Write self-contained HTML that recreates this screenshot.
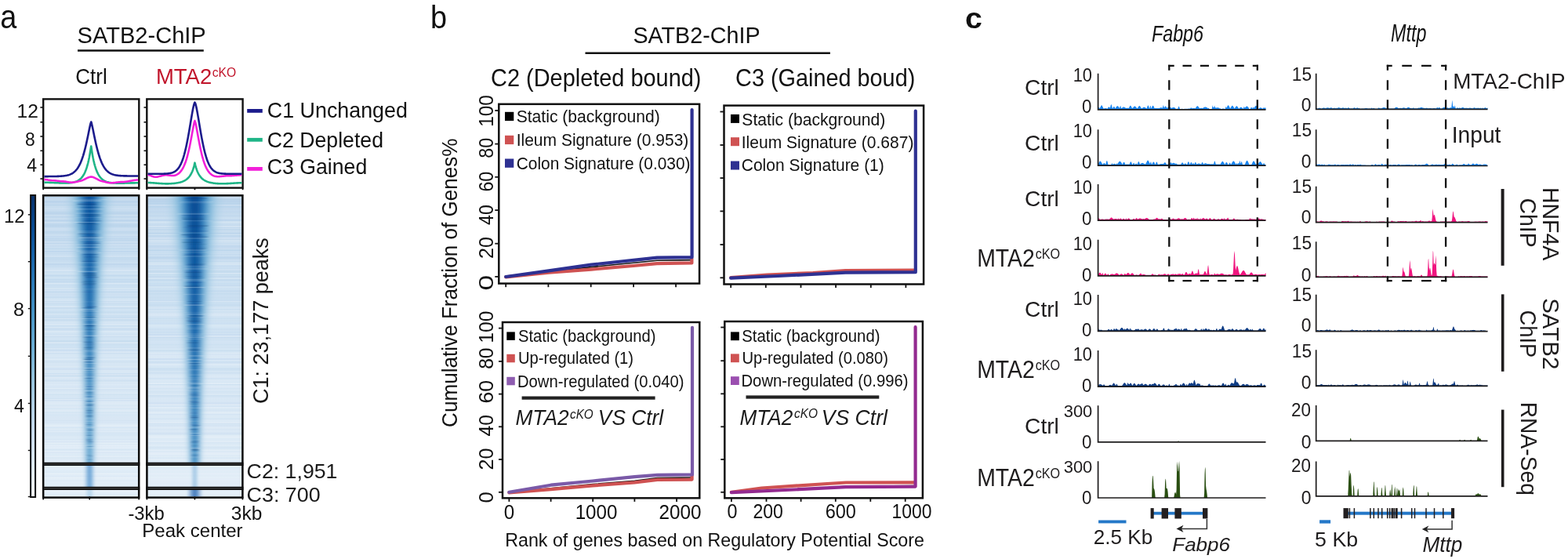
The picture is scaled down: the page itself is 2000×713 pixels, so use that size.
<!DOCTYPE html>
<html><head><meta charset="utf-8"><title>figure</title>
<style>html,body{margin:0;padding:0;background:#fff;} svg{display:block;}</style></head>
<body><svg width="2000" height="713" viewBox="0 0 2000 713" style="font-family:'Liberation Sans', Arial, Helvetica, sans-serif" fill="#111">
<defs><linearGradient id="hbg" x1="0" y1="0" x2="0" y2="1">
<stop offset="0" stop-color="#c2d9ee"/><stop offset="0.3" stop-color="#cde1f2"/><stop offset="0.7" stop-color="#d9e8f5"/><stop offset="1" stop-color="#e3eef8"/></linearGradient><linearGradient id="cbar" x1="0" y1="0" x2="0" y2="1"><stop offset="0.0" stop-color="#08306b"/><stop offset="0.1" stop-color="#084a92"/><stop offset="0.2" stop-color="#1764ab"/><stop offset="0.3" stop-color="#2e7ebc"/><stop offset="0.4" stop-color="#4a98c9"/><stop offset="0.5" stop-color="#6baed6"/><stop offset="0.6" stop-color="#94c4df"/><stop offset="0.7" stop-color="#b6d4e9"/><stop offset="0.8" stop-color="#d0e1f2"/><stop offset="0.9" stop-color="#e3eef9"/><stop offset="1.0" stop-color="#f7fbff"/></linearGradient><filter id="hb2" x="-50%" y="-5%" width="200%" height="110%"><feGaussianBlur stdDeviation="3.2 0.3"/></filter><filter id="hb3" x="-50%" y="-5%" width="200%" height="110%"><feGaussianBlur stdDeviation="1.6 0.3"/></filter><clipPath id="clipL"><rect x="56.2" y="250.3" width="120" height="383.3"/></clipPath><linearGradient id="cgL0" gradientUnits="userSpaceOnUse" x1="0" y1="250.3" x2="0" y2="591.6"><stop offset="0" stop-color="#a3cce3"/><stop offset="0.45" stop-color="#aacfe5"/><stop offset="1" stop-color="#b6d4e9"/></linearGradient><linearGradient id="cgL1" gradientUnits="userSpaceOnUse" x1="0" y1="250.3" x2="0" y2="591.6"><stop offset="0" stop-color="#7bb7da"/><stop offset="0.45" stop-color="#8abfdd"/><stop offset="1" stop-color="#a3cce3"/></linearGradient><linearGradient id="cgL2" gradientUnits="userSpaceOnUse" x1="0" y1="250.3" x2="0" y2="591.6"><stop offset="0" stop-color="#519ccc"/><stop offset="0.45" stop-color="#61a7d2"/><stop offset="1" stop-color="#83bbdb"/></linearGradient><linearGradient id="cgL3" gradientUnits="userSpaceOnUse" x1="0" y1="250.3" x2="0" y2="591.6"><stop offset="0" stop-color="#2e7ebc"/><stop offset="0.45" stop-color="#4191c5"/><stop offset="1" stop-color="#6baed6"/></linearGradient><linearGradient id="cgL4" gradientUnits="userSpaceOnUse" x1="0" y1="250.3" x2="0" y2="591.6"><stop offset="0" stop-color="#1764ab"/><stop offset="0.45" stop-color="#2b7bba"/><stop offset="1" stop-color="#5ba3d0"/></linearGradient><linearGradient id="cgL5" gradientUnits="userSpaceOnUse" x1="0" y1="250.3" x2="0" y2="591.6"><stop offset="0" stop-color="#09529d"/><stop offset="0.45" stop-color="#1d6cb1"/><stop offset="1" stop-color="#519ccc"/></linearGradient><clipPath id="clipR"><rect x="188.4" y="250.3" width="120" height="383.3"/></clipPath><linearGradient id="cgR0" gradientUnits="userSpaceOnUse" x1="0" y1="250.3" x2="0" y2="591.6"><stop offset="0" stop-color="#a0cbe2"/><stop offset="0.45" stop-color="#a5cde4"/><stop offset="1" stop-color="#b0d1e7"/></linearGradient><linearGradient id="cgR1" gradientUnits="userSpaceOnUse" x1="0" y1="250.3" x2="0" y2="591.6"><stop offset="0" stop-color="#73b2d8"/><stop offset="0.45" stop-color="#7fb9da"/><stop offset="1" stop-color="#94c4df"/></linearGradient><linearGradient id="cgR2" gradientUnits="userSpaceOnUse" x1="0" y1="250.3" x2="0" y2="591.6"><stop offset="0" stop-color="#4a98c9"/><stop offset="0.45" stop-color="#569fce"/><stop offset="1" stop-color="#6baed6"/></linearGradient><linearGradient id="cgR3" gradientUnits="userSpaceOnUse" x1="0" y1="250.3" x2="0" y2="591.6"><stop offset="0" stop-color="#2676b8"/><stop offset="0.45" stop-color="#3484bf"/><stop offset="1" stop-color="#519ccc"/></linearGradient><linearGradient id="cgR4" gradientUnits="userSpaceOnUse" x1="0" y1="250.3" x2="0" y2="591.6"><stop offset="0" stop-color="#115da5"/><stop offset="0.45" stop-color="#1e6eb2"/><stop offset="1" stop-color="#3e8ec4"/></linearGradient><linearGradient id="cgR5" gradientUnits="userSpaceOnUse" x1="0" y1="250.3" x2="0" y2="591.6"><stop offset="0" stop-color="#084a92"/><stop offset="0.45" stop-color="#125ea6"/><stop offset="1" stop-color="#3383bf"/></linearGradient></defs>
<rect width="2000" height="713" fill="#fff"/>
<g clip-path="url(#clipL)">
<rect x="56.2" y="250.3" width="120" height="383.3" fill="url(#hbg)" />
<rect x="56.2" y="251.2" width="120" height="1.2" fill="#4a8ccc" opacity="0.04"/>
<rect x="56.2" y="252.4" width="120" height="0.5" fill="#4a8ccc" opacity="0.04"/>
<rect x="56.2" y="252.9" width="120" height="0.7" fill="#ffffff" opacity="0.17"/>
<rect x="56.2" y="253.6" width="120" height="0.5" fill="#ffffff" opacity="0.19"/>
<rect x="56.2" y="255.1" width="120" height="0.5" fill="#4a8ccc" opacity="0.07"/>
<rect x="56.2" y="255.6" width="120" height="0.7" fill="#ffffff" opacity="0.25"/>
<rect x="56.2" y="256.3" width="120" height="0.9" fill="#4a8ccc" opacity="0.08"/>
<rect x="56.2" y="257.2" width="120" height="0.9" fill="#4a8ccc" opacity="0.10"/>
<rect x="56.2" y="258.1" width="120" height="0.5" fill="#4a8ccc" opacity="0.09"/>
<rect x="56.2" y="258.6" width="120" height="0.9" fill="#ffffff" opacity="0.22"/>
<rect x="56.2" y="259.5" width="120" height="0.5" fill="#4a8ccc" opacity="0.08"/>
<rect x="56.2" y="261.2" width="120" height="1.2" fill="#4a8ccc" opacity="0.07"/>
<rect x="56.2" y="262.4" width="120" height="0.9" fill="#ffffff" opacity="0.12"/>
<rect x="56.2" y="263.3" width="120" height="0.7" fill="#ffffff" opacity="0.14"/>
<rect x="56.2" y="265.2" width="120" height="1.2" fill="#ffffff" opacity="0.28"/>
<rect x="56.2" y="266.4" width="120" height="0.5" fill="#4a8ccc" opacity="0.05"/>
<rect x="56.2" y="266.9" width="120" height="0.9" fill="#ffffff" opacity="0.18"/>
<rect x="56.2" y="268.8" width="120" height="0.9" fill="#ffffff" opacity="0.15"/>
<rect x="56.2" y="269.7" width="120" height="1.2" fill="#4a8ccc" opacity="0.07"/>
<rect x="56.2" y="271.4" width="120" height="1.2" fill="#4a8ccc" opacity="0.04"/>
<rect x="56.2" y="272.6" width="120" height="0.9" fill="#4a8ccc" opacity="0.12"/>
<rect x="56.2" y="273.5" width="120" height="1.2" fill="#ffffff" opacity="0.16"/>
<rect x="56.2" y="274.7" width="120" height="0.9" fill="#ffffff" opacity="0.17"/>
<rect x="56.2" y="275.6" width="120" height="0.7" fill="#4a8ccc" opacity="0.08"/>
<rect x="56.2" y="277" width="120" height="0.7" fill="#4a8ccc" opacity="0.07"/>
<rect x="56.2" y="277.7" width="120" height="1.2" fill="#ffffff" opacity="0.17"/>
<rect x="56.2" y="281" width="120" height="0.9" fill="#4a8ccc" opacity="0.12"/>
<rect x="56.2" y="283.1" width="120" height="0.7" fill="#ffffff" opacity="0.11"/>
<rect x="56.2" y="283.8" width="120" height="0.7" fill="#ffffff" opacity="0.25"/>
<rect x="56.2" y="284.5" width="120" height="0.7" fill="#ffffff" opacity="0.08"/>
<rect x="56.2" y="285.2" width="120" height="1.2" fill="#4a8ccc" opacity="0.09"/>
<rect x="56.2" y="287.3" width="120" height="0.5" fill="#4a8ccc" opacity="0.11"/>
<rect x="56.2" y="287.8" width="120" height="1.2" fill="#4a8ccc" opacity="0.07"/>
<rect x="56.2" y="289" width="120" height="1.2" fill="#4a8ccc" opacity="0.03"/>
<rect x="56.2" y="290.7" width="120" height="1.2" fill="#ffffff" opacity="0.15"/>
<rect x="56.2" y="291.9" width="120" height="0.5" fill="#ffffff" opacity="0.19"/>
<rect x="56.2" y="292.9" width="120" height="0.5" fill="#ffffff" opacity="0.12"/>
<rect x="56.2" y="293.4" width="120" height="1.2" fill="#ffffff" opacity="0.13"/>
<rect x="56.2" y="294.6" width="120" height="0.9" fill="#4a8ccc" opacity="0.07"/>
<rect x="56.2" y="296" width="120" height="1.2" fill="#4a8ccc" opacity="0.06"/>
<rect x="56.2" y="297.2" width="120" height="0.7" fill="#ffffff" opacity="0.15"/>
<rect x="56.2" y="297.9" width="120" height="0.9" fill="#4a8ccc" opacity="0.09"/>
<rect x="56.2" y="298.8" width="120" height="0.5" fill="#ffffff" opacity="0.27"/>
<rect x="56.2" y="299.3" width="120" height="0.9" fill="#ffffff" opacity="0.19"/>
<rect x="56.2" y="301.6" width="120" height="0.5" fill="#4a8ccc" opacity="0.05"/>
<rect x="56.2" y="303.9" width="120" height="0.9" fill="#4a8ccc" opacity="0.08"/>
<rect x="56.2" y="305.5" width="120" height="1.2" fill="#4a8ccc" opacity="0.05"/>
<rect x="56.2" y="306.7" width="120" height="1.2" fill="#4a8ccc" opacity="0.03"/>
<rect x="56.2" y="308.4" width="120" height="1.2" fill="#ffffff" opacity="0.22"/>
<rect x="56.2" y="309.6" width="120" height="0.9" fill="#4a8ccc" opacity="0.11"/>
<rect x="56.2" y="311.4" width="120" height="0.9" fill="#ffffff" opacity="0.10"/>
<rect x="56.2" y="312.3" width="120" height="1.2" fill="#ffffff" opacity="0.12"/>
<rect x="56.2" y="313.5" width="120" height="0.5" fill="#4a8ccc" opacity="0.08"/>
<rect x="56.2" y="315" width="120" height="0.7" fill="#4a8ccc" opacity="0.04"/>
<rect x="56.2" y="315.7" width="120" height="0.9" fill="#ffffff" opacity="0.27"/>
<rect x="56.2" y="316.6" width="120" height="1.2" fill="#4a8ccc" opacity="0.09"/>
<rect x="56.2" y="317.8" width="120" height="0.5" fill="#4a8ccc" opacity="0.04"/>
<rect x="56.2" y="318.3" width="120" height="0.7" fill="#ffffff" opacity="0.20"/>
<rect x="56.2" y="320.2" width="120" height="0.7" fill="#4a8ccc" opacity="0.08"/>
<rect x="56.2" y="320.9" width="120" height="1.2" fill="#4a8ccc" opacity="0.06"/>
<rect x="56.2" y="322.1" width="120" height="0.7" fill="#ffffff" opacity="0.24"/>
<rect x="56.2" y="322.8" width="120" height="0.5" fill="#4a8ccc" opacity="0.11"/>
<rect x="56.2" y="325.2" width="120" height="0.7" fill="#ffffff" opacity="0.12"/>
<rect x="56.2" y="326.6" width="120" height="0.9" fill="#ffffff" opacity="0.16"/>
<rect x="56.2" y="327.5" width="120" height="0.7" fill="#ffffff" opacity="0.23"/>
<rect x="56.2" y="328.2" width="120" height="1.2" fill="#4a8ccc" opacity="0.09"/>
<rect x="56.2" y="330.6" width="120" height="0.7" fill="#4a8ccc" opacity="0.07"/>
<rect x="56.2" y="331.8" width="120" height="0.7" fill="#4a8ccc" opacity="0.09"/>
<rect x="56.2" y="332.5" width="120" height="0.7" fill="#ffffff" opacity="0.17"/>
<rect x="56.2" y="333.2" width="120" height="0.5" fill="#4a8ccc" opacity="0.05"/>
<rect x="56.2" y="335.4" width="120" height="0.5" fill="#ffffff" opacity="0.14"/>
<rect x="56.2" y="335.9" width="120" height="0.5" fill="#4a8ccc" opacity="0.07"/>
<rect x="56.2" y="336.4" width="120" height="0.5" fill="#4a8ccc" opacity="0.08"/>
<rect x="56.2" y="336.9" width="120" height="0.7" fill="#4a8ccc" opacity="0.06"/>
<rect x="56.2" y="337.6" width="120" height="1.2" fill="#4a8ccc" opacity="0.05"/>
<rect x="56.2" y="340.4" width="120" height="0.7" fill="#4a8ccc" opacity="0.06"/>
<rect x="56.2" y="341.1" width="120" height="0.9" fill="#ffffff" opacity="0.13"/>
<rect x="56.2" y="342" width="120" height="0.5" fill="#ffffff" opacity="0.14"/>
<rect x="56.2" y="343.7" width="120" height="0.9" fill="#ffffff" opacity="0.26"/>
<rect x="56.2" y="344.6" width="120" height="1.2" fill="#ffffff" opacity="0.27"/>
<rect x="56.2" y="347.7" width="120" height="0.7" fill="#ffffff" opacity="0.17"/>
<rect x="56.2" y="348.4" width="120" height="1.2" fill="#ffffff" opacity="0.12"/>
<rect x="56.2" y="349.6" width="120" height="0.9" fill="#ffffff" opacity="0.15"/>
<rect x="56.2" y="350.5" width="120" height="0.9" fill="#4a8ccc" opacity="0.06"/>
<rect x="56.2" y="351.4" width="120" height="0.5" fill="#4a8ccc" opacity="0.07"/>
<rect x="56.2" y="351.9" width="120" height="0.9" fill="#4a8ccc" opacity="0.03"/>
<rect x="56.2" y="353.5" width="120" height="0.5" fill="#ffffff" opacity="0.13"/>
<rect x="56.2" y="354" width="120" height="0.7" fill="#ffffff" opacity="0.11"/>
<rect x="56.2" y="355.9" width="120" height="0.9" fill="#4a8ccc" opacity="0.07"/>
<rect x="56.2" y="356.8" width="120" height="1.2" fill="#4a8ccc" opacity="0.03"/>
<rect x="56.2" y="358.5" width="120" height="0.7" fill="#4a8ccc" opacity="0.03"/>
<rect x="56.2" y="359.2" width="120" height="0.5" fill="#4a8ccc" opacity="0.09"/>
<rect x="56.2" y="359.7" width="120" height="0.5" fill="#4a8ccc" opacity="0.04"/>
<rect x="56.2" y="361.1" width="120" height="1.2" fill="#ffffff" opacity="0.28"/>
<rect x="56.2" y="363.5" width="120" height="0.9" fill="#4a8ccc" opacity="0.03"/>
<rect x="56.2" y="365.1" width="120" height="0.7" fill="#ffffff" opacity="0.12"/>
<rect x="56.2" y="365.8" width="120" height="0.9" fill="#4a8ccc" opacity="0.06"/>
<rect x="56.2" y="366.7" width="120" height="0.7" fill="#ffffff" opacity="0.18"/>
<rect x="56.2" y="367.4" width="120" height="0.7" fill="#ffffff" opacity="0.24"/>
<rect x="56.2" y="368.1" width="120" height="0.9" fill="#ffffff" opacity="0.08"/>
<rect x="56.2" y="369" width="120" height="0.7" fill="#4a8ccc" opacity="0.04"/>
<rect x="56.2" y="369.7" width="120" height="1.2" fill="#ffffff" opacity="0.24"/>
<rect x="56.2" y="370.9" width="120" height="1.2" fill="#4a8ccc" opacity="0.06"/>
<rect x="56.2" y="373.3" width="120" height="0.9" fill="#4a8ccc" opacity="0.10"/>
<rect x="56.2" y="374.2" width="120" height="0.9" fill="#ffffff" opacity="0.26"/>
<rect x="56.2" y="375.1" width="120" height="0.7" fill="#4a8ccc" opacity="0.05"/>
<rect x="56.2" y="376.3" width="120" height="0.5" fill="#ffffff" opacity="0.23"/>
<rect x="56.2" y="376.8" width="120" height="0.9" fill="#4a8ccc" opacity="0.03"/>
<rect x="56.2" y="378.9" width="120" height="0.9" fill="#4a8ccc" opacity="0.07"/>
<rect x="56.2" y="379.8" width="120" height="0.5" fill="#4a8ccc" opacity="0.03"/>
<rect x="56.2" y="380.3" width="120" height="1.2" fill="#ffffff" opacity="0.15"/>
<rect x="56.2" y="382.4" width="120" height="0.9" fill="#ffffff" opacity="0.27"/>
<rect x="56.2" y="383.3" width="120" height="0.9" fill="#ffffff" opacity="0.12"/>
<rect x="56.2" y="384.2" width="120" height="0.9" fill="#4a8ccc" opacity="0.06"/>
<rect x="56.2" y="385.1" width="120" height="0.7" fill="#ffffff" opacity="0.24"/>
<rect x="56.2" y="385.8" width="120" height="0.5" fill="#ffffff" opacity="0.10"/>
<rect x="56.2" y="386.3" width="120" height="1.2" fill="#4a8ccc" opacity="0.05"/>
<rect x="56.2" y="387.5" width="120" height="0.9" fill="#ffffff" opacity="0.13"/>
<rect x="56.2" y="388.4" width="120" height="0.7" fill="#4a8ccc" opacity="0.07"/>
<rect x="56.2" y="390.3" width="120" height="1.2" fill="#ffffff" opacity="0.22"/>
<rect x="56.2" y="391.5" width="120" height="0.7" fill="#ffffff" opacity="0.25"/>
<rect x="56.2" y="392.2" width="120" height="1.2" fill="#4a8ccc" opacity="0.08"/>
<rect x="56.2" y="394.6" width="120" height="0.7" fill="#ffffff" opacity="0.09"/>
<rect x="56.2" y="397.4" width="120" height="0.5" fill="#4a8ccc" opacity="0.07"/>
<rect x="56.2" y="397.9" width="120" height="0.7" fill="#4a8ccc" opacity="0.02"/>
<rect x="56.2" y="398.6" width="120" height="0.5" fill="#4a8ccc" opacity="0.06"/>
<rect x="56.2" y="399.1" width="120" height="0.5" fill="#4a8ccc" opacity="0.03"/>
<rect x="56.2" y="399.6" width="120" height="1.2" fill="#ffffff" opacity="0.09"/>
<rect x="56.2" y="400.8" width="120" height="0.9" fill="#ffffff" opacity="0.23"/>
<rect x="56.2" y="401.7" width="120" height="0.7" fill="#4a8ccc" opacity="0.09"/>
<rect x="56.2" y="403.6" width="120" height="0.5" fill="#4a8ccc" opacity="0.07"/>
<rect x="56.2" y="404.1" width="120" height="0.5" fill="#4a8ccc" opacity="0.06"/>
<rect x="56.2" y="404.6" width="120" height="0.5" fill="#4a8ccc" opacity="0.04"/>
<rect x="56.2" y="405.1" width="120" height="0.9" fill="#4a8ccc" opacity="0.03"/>
<rect x="56.2" y="406" width="120" height="1.2" fill="#ffffff" opacity="0.13"/>
<rect x="56.2" y="407.2" width="120" height="0.5" fill="#4a8ccc" opacity="0.07"/>
<rect x="56.2" y="407.7" width="120" height="0.9" fill="#4a8ccc" opacity="0.04"/>
<rect x="56.2" y="408.6" width="120" height="1.2" fill="#4a8ccc" opacity="0.03"/>
<rect x="56.2" y="409.8" width="120" height="0.7" fill="#ffffff" opacity="0.10"/>
<rect x="56.2" y="410.5" width="120" height="1.2" fill="#ffffff" opacity="0.17"/>
<rect x="56.2" y="412.9" width="120" height="1.2" fill="#ffffff" opacity="0.27"/>
<rect x="56.2" y="414.1" width="120" height="0.7" fill="#ffffff" opacity="0.10"/>
<rect x="56.2" y="415.7" width="120" height="0.7" fill="#4a8ccc" opacity="0.06"/>
<rect x="56.2" y="417.3" width="120" height="0.9" fill="#ffffff" opacity="0.26"/>
<rect x="56.2" y="418.2" width="120" height="1.2" fill="#4a8ccc" opacity="0.03"/>
<rect x="56.2" y="419.4" width="120" height="1.2" fill="#4a8ccc" opacity="0.05"/>
<rect x="56.2" y="420.6" width="120" height="0.7" fill="#4a8ccc" opacity="0.04"/>
<rect x="56.2" y="421.8" width="120" height="0.5" fill="#ffffff" opacity="0.15"/>
<rect x="56.2" y="422.3" width="120" height="1.2" fill="#ffffff" opacity="0.27"/>
<rect x="56.2" y="424" width="120" height="0.9" fill="#ffffff" opacity="0.09"/>
<rect x="56.2" y="426.1" width="120" height="0.5" fill="#4a8ccc" opacity="0.05"/>
<rect x="56.2" y="427.5" width="120" height="0.9" fill="#ffffff" opacity="0.25"/>
<rect x="56.2" y="428.4" width="120" height="0.9" fill="#4a8ccc" opacity="0.03"/>
<rect x="56.2" y="429.3" width="120" height="0.9" fill="#4a8ccc" opacity="0.04"/>
<rect x="56.2" y="433.5" width="120" height="0.7" fill="#4a8ccc" opacity="0.02"/>
<rect x="56.2" y="434.2" width="120" height="1.2" fill="#4a8ccc" opacity="0.07"/>
<rect x="56.2" y="435.4" width="120" height="0.9" fill="#4a8ccc" opacity="0.08"/>
<rect x="56.2" y="436.3" width="120" height="0.7" fill="#ffffff" opacity="0.16"/>
<rect x="56.2" y="437" width="120" height="0.9" fill="#ffffff" opacity="0.23"/>
<rect x="56.2" y="437.9" width="120" height="0.9" fill="#4a8ccc" opacity="0.03"/>
<rect x="56.2" y="438.8" width="120" height="1.2" fill="#4a8ccc" opacity="0.04"/>
<rect x="56.2" y="440" width="120" height="0.7" fill="#4a8ccc" opacity="0.02"/>
<rect x="56.2" y="440.7" width="120" height="1.2" fill="#4a8ccc" opacity="0.05"/>
<rect x="56.2" y="442.8" width="120" height="1.2" fill="#4a8ccc" opacity="0.05"/>
<rect x="56.2" y="444" width="120" height="0.7" fill="#ffffff" opacity="0.15"/>
<rect x="56.2" y="444.7" width="120" height="0.5" fill="#ffffff" opacity="0.15"/>
<rect x="56.2" y="445.9" width="120" height="1.2" fill="#4a8ccc" opacity="0.06"/>
<rect x="56.2" y="447.1" width="120" height="0.7" fill="#4a8ccc" opacity="0.04"/>
<rect x="56.2" y="447.8" width="120" height="0.5" fill="#4a8ccc" opacity="0.05"/>
<rect x="56.2" y="448.3" width="120" height="0.9" fill="#ffffff" opacity="0.18"/>
<rect x="56.2" y="449.2" width="120" height="0.7" fill="#ffffff" opacity="0.26"/>
<rect x="56.2" y="449.9" width="120" height="1.2" fill="#4a8ccc" opacity="0.04"/>
<rect x="56.2" y="452" width="120" height="0.5" fill="#ffffff" opacity="0.17"/>
<rect x="56.2" y="453.7" width="120" height="1.2" fill="#ffffff" opacity="0.16"/>
<rect x="56.2" y="456.8" width="120" height="0.7" fill="#ffffff" opacity="0.18"/>
<rect x="56.2" y="458" width="120" height="1.2" fill="#ffffff" opacity="0.24"/>
<rect x="56.2" y="459.7" width="120" height="0.7" fill="#4a8ccc" opacity="0.02"/>
<rect x="56.2" y="461.3" width="120" height="0.9" fill="#4a8ccc" opacity="0.04"/>
<rect x="56.2" y="462.2" width="120" height="0.5" fill="#ffffff" opacity="0.14"/>
<rect x="56.2" y="462.7" width="120" height="0.7" fill="#4a8ccc" opacity="0.03"/>
<rect x="56.2" y="463.4" width="120" height="0.5" fill="#ffffff" opacity="0.14"/>
<rect x="56.2" y="463.9" width="120" height="1.2" fill="#ffffff" opacity="0.14"/>
<rect x="56.2" y="465.1" width="120" height="0.7" fill="#4a8ccc" opacity="0.03"/>
<rect x="56.2" y="465.8" width="120" height="0.7" fill="#ffffff" opacity="0.16"/>
<rect x="56.2" y="466.5" width="120" height="0.9" fill="#ffffff" opacity="0.12"/>
<rect x="56.2" y="467.4" width="120" height="1.2" fill="#ffffff" opacity="0.13"/>
<rect x="56.2" y="469.8" width="120" height="0.7" fill="#4a8ccc" opacity="0.05"/>
<rect x="56.2" y="470.5" width="120" height="1.2" fill="#4a8ccc" opacity="0.04"/>
<rect x="56.2" y="472.2" width="120" height="0.5" fill="#ffffff" opacity="0.27"/>
<rect x="56.2" y="473.6" width="120" height="0.7" fill="#ffffff" opacity="0.12"/>
<rect x="56.2" y="474.3" width="120" height="0.9" fill="#ffffff" opacity="0.20"/>
<rect x="56.2" y="475.9" width="120" height="1.2" fill="#4a8ccc" opacity="0.05"/>
<rect x="56.2" y="477.8" width="120" height="0.5" fill="#ffffff" opacity="0.27"/>
<rect x="56.2" y="478.3" width="120" height="0.7" fill="#4a8ccc" opacity="0.05"/>
<rect x="56.2" y="479" width="120" height="0.7" fill="#4a8ccc" opacity="0.06"/>
<rect x="56.2" y="479.7" width="120" height="0.9" fill="#4a8ccc" opacity="0.07"/>
<rect x="56.2" y="480.6" width="120" height="0.7" fill="#ffffff" opacity="0.12"/>
<rect x="56.2" y="481.3" width="120" height="1.2" fill="#ffffff" opacity="0.21"/>
<rect x="56.2" y="483.7" width="120" height="0.9" fill="#4a8ccc" opacity="0.02"/>
<rect x="56.2" y="484.6" width="120" height="0.5" fill="#ffffff" opacity="0.15"/>
<rect x="56.2" y="485.1" width="120" height="0.5" fill="#4a8ccc" opacity="0.05"/>
<rect x="56.2" y="485.6" width="120" height="1.2" fill="#4a8ccc" opacity="0.06"/>
<rect x="56.2" y="486.8" width="120" height="1.2" fill="#ffffff" opacity="0.22"/>
<rect x="56.2" y="488" width="120" height="0.7" fill="#4a8ccc" opacity="0.06"/>
<rect x="56.2" y="488.7" width="120" height="0.7" fill="#ffffff" opacity="0.23"/>
<rect x="56.2" y="489.4" width="120" height="1.2" fill="#ffffff" opacity="0.16"/>
<rect x="56.2" y="490.6" width="120" height="1.2" fill="#ffffff" opacity="0.09"/>
<rect x="56.2" y="492.3" width="120" height="0.5" fill="#ffffff" opacity="0.23"/>
<rect x="56.2" y="492.8" width="120" height="0.9" fill="#4a8ccc" opacity="0.03"/>
<rect x="56.2" y="493.7" width="120" height="0.5" fill="#ffffff" opacity="0.22"/>
<rect x="56.2" y="495.1" width="120" height="0.9" fill="#ffffff" opacity="0.23"/>
<rect x="56.2" y="496" width="120" height="0.5" fill="#ffffff" opacity="0.13"/>
<rect x="56.2" y="496.5" width="120" height="1.2" fill="#4a8ccc" opacity="0.04"/>
<rect x="56.2" y="500.8" width="120" height="0.7" fill="#ffffff" opacity="0.27"/>
<rect x="56.2" y="502.4" width="120" height="0.7" fill="#4a8ccc" opacity="0.03"/>
<rect x="56.2" y="503.1" width="120" height="0.9" fill="#4a8ccc" opacity="0.05"/>
<rect x="56.2" y="504" width="120" height="0.5" fill="#4a8ccc" opacity="0.03"/>
<rect x="56.2" y="504.5" width="120" height="0.7" fill="#ffffff" opacity="0.09"/>
<rect x="56.2" y="505.2" width="120" height="0.5" fill="#4a8ccc" opacity="0.04"/>
<rect x="56.2" y="506.9" width="120" height="0.9" fill="#4a8ccc" opacity="0.02"/>
<rect x="56.2" y="507.8" width="120" height="1.2" fill="#4a8ccc" opacity="0.05"/>
<rect x="56.2" y="509" width="120" height="1.2" fill="#ffffff" opacity="0.11"/>
<rect x="56.2" y="510.2" width="120" height="1.2" fill="#4a8ccc" opacity="0.05"/>
<rect x="56.2" y="511.9" width="120" height="0.9" fill="#ffffff" opacity="0.19"/>
<rect x="56.2" y="512.8" width="120" height="0.9" fill="#ffffff" opacity="0.13"/>
<rect x="56.2" y="513.7" width="120" height="1.2" fill="#ffffff" opacity="0.13"/>
<rect x="56.2" y="514.9" width="120" height="0.7" fill="#ffffff" opacity="0.26"/>
<rect x="56.2" y="515.6" width="120" height="0.7" fill="#ffffff" opacity="0.16"/>
<rect x="56.2" y="516.3" width="120" height="0.7" fill="#4a8ccc" opacity="0.02"/>
<rect x="56.2" y="517" width="120" height="0.5" fill="#4a8ccc" opacity="0.06"/>
<rect x="56.2" y="517.5" width="120" height="0.5" fill="#ffffff" opacity="0.26"/>
<rect x="56.2" y="518.7" width="120" height="0.9" fill="#ffffff" opacity="0.14"/>
<rect x="56.2" y="519.6" width="120" height="0.5" fill="#ffffff" opacity="0.20"/>
<rect x="56.2" y="520.8" width="120" height="0.9" fill="#4a8ccc" opacity="0.02"/>
<rect x="56.2" y="522.6" width="120" height="0.5" fill="#ffffff" opacity="0.20"/>
<rect x="56.2" y="523.1" width="120" height="0.9" fill="#ffffff" opacity="0.15"/>
<rect x="56.2" y="524" width="120" height="0.7" fill="#ffffff" opacity="0.28"/>
<rect x="56.2" y="524.7" width="120" height="0.5" fill="#4a8ccc" opacity="0.04"/>
<rect x="56.2" y="525.9" width="120" height="0.9" fill="#4a8ccc" opacity="0.03"/>
<rect x="56.2" y="526.8" width="120" height="0.9" fill="#ffffff" opacity="0.09"/>
<rect x="56.2" y="527.7" width="120" height="1.2" fill="#4a8ccc" opacity="0.02"/>
<rect x="56.2" y="529.4" width="120" height="0.7" fill="#4a8ccc" opacity="0.02"/>
<rect x="56.2" y="530.1" width="120" height="0.7" fill="#4a8ccc" opacity="0.02"/>
<rect x="56.2" y="530.8" width="120" height="0.9" fill="#4a8ccc" opacity="0.03"/>
<rect x="56.2" y="531.7" width="120" height="0.5" fill="#ffffff" opacity="0.19"/>
<rect x="56.2" y="532.2" width="120" height="0.9" fill="#4a8ccc" opacity="0.01"/>
<rect x="56.2" y="533.1" width="120" height="0.9" fill="#4a8ccc" opacity="0.03"/>
<rect x="56.2" y="534" width="120" height="1.2" fill="#ffffff" opacity="0.08"/>
<rect x="56.2" y="535.2" width="120" height="0.7" fill="#4a8ccc" opacity="0.05"/>
<rect x="56.2" y="535.9" width="120" height="1.2" fill="#4a8ccc" opacity="0.03"/>
<rect x="56.2" y="537.1" width="120" height="0.7" fill="#ffffff" opacity="0.09"/>
<rect x="56.2" y="537.8" width="120" height="0.7" fill="#4a8ccc" opacity="0.05"/>
<rect x="56.2" y="538.5" width="120" height="0.5" fill="#4a8ccc" opacity="0.05"/>
<rect x="56.2" y="539" width="120" height="0.7" fill="#ffffff" opacity="0.14"/>
<rect x="56.2" y="540.4" width="120" height="0.5" fill="#4a8ccc" opacity="0.04"/>
<rect x="56.2" y="540.9" width="120" height="0.7" fill="#ffffff" opacity="0.25"/>
<rect x="56.2" y="542.1" width="120" height="1.2" fill="#ffffff" opacity="0.20"/>
<rect x="56.2" y="543.3" width="120" height="1.2" fill="#ffffff" opacity="0.22"/>
<rect x="56.2" y="544.5" width="120" height="0.7" fill="#4a8ccc" opacity="0.05"/>
<rect x="56.2" y="545.2" width="120" height="1.2" fill="#4a8ccc" opacity="0.02"/>
<rect x="56.2" y="546.4" width="120" height="1.2" fill="#ffffff" opacity="0.12"/>
<rect x="56.2" y="548.8" width="120" height="0.7" fill="#4a8ccc" opacity="0.02"/>
<rect x="56.2" y="550.2" width="120" height="0.7" fill="#ffffff" opacity="0.19"/>
<rect x="56.2" y="550.9" width="120" height="0.5" fill="#4a8ccc" opacity="0.02"/>
<rect x="56.2" y="551.4" width="120" height="1.2" fill="#4a8ccc" opacity="0.03"/>
<rect x="56.2" y="552.6" width="120" height="0.9" fill="#4a8ccc" opacity="0.02"/>
<rect x="56.2" y="553.5" width="120" height="0.7" fill="#4a8ccc" opacity="0.04"/>
<rect x="56.2" y="554.2" width="120" height="1.2" fill="#4a8ccc" opacity="0.02"/>
<rect x="56.2" y="555.4" width="120" height="0.5" fill="#4a8ccc" opacity="0.03"/>
<rect x="56.2" y="555.9" width="120" height="0.7" fill="#4a8ccc" opacity="0.03"/>
<rect x="56.2" y="557.8" width="120" height="1.2" fill="#4a8ccc" opacity="0.01"/>
<rect x="56.2" y="559" width="120" height="0.9" fill="#4a8ccc" opacity="0.01"/>
<rect x="56.2" y="559.9" width="120" height="1.2" fill="#4a8ccc" opacity="0.03"/>
<rect x="56.2" y="561.1" width="120" height="0.5" fill="#4a8ccc" opacity="0.01"/>
<rect x="56.2" y="562.5" width="120" height="0.5" fill="#ffffff" opacity="0.18"/>
<rect x="56.2" y="563" width="120" height="1.2" fill="#4a8ccc" opacity="0.04"/>
<rect x="56.2" y="564.7" width="120" height="0.5" fill="#ffffff" opacity="0.28"/>
<rect x="56.2" y="565.2" width="120" height="1.2" fill="#ffffff" opacity="0.24"/>
<rect x="56.2" y="566.4" width="120" height="0.7" fill="#4a8ccc" opacity="0.04"/>
<rect x="56.2" y="567.1" width="120" height="0.7" fill="#ffffff" opacity="0.15"/>
<rect x="56.2" y="567.8" width="120" height="0.9" fill="#ffffff" opacity="0.26"/>
<rect x="56.2" y="569.6" width="120" height="1.2" fill="#ffffff" opacity="0.18"/>
<rect x="56.2" y="570.8" width="120" height="1.2" fill="#ffffff" opacity="0.13"/>
<rect x="56.2" y="572" width="120" height="0.7" fill="#ffffff" opacity="0.09"/>
<rect x="56.2" y="572.7" width="120" height="0.7" fill="#4a8ccc" opacity="0.03"/>
<rect x="56.2" y="573.4" width="120" height="0.9" fill="#4a8ccc" opacity="0.04"/>
<rect x="56.2" y="575" width="120" height="0.9" fill="#ffffff" opacity="0.19"/>
<rect x="56.2" y="576.8" width="120" height="1.2" fill="#4a8ccc" opacity="0.03"/>
<rect x="56.2" y="578" width="120" height="0.5" fill="#ffffff" opacity="0.19"/>
<rect x="56.2" y="578.5" width="120" height="1.2" fill="#4a8ccc" opacity="0.02"/>
<rect x="56.2" y="580.9" width="120" height="0.7" fill="#4a8ccc" opacity="0.03"/>
<rect x="56.2" y="581.6" width="120" height="1.2" fill="#ffffff" opacity="0.20"/>
<rect x="56.2" y="582.8" width="120" height="0.5" fill="#ffffff" opacity="0.18"/>
<rect x="56.2" y="583.3" width="120" height="0.9" fill="#4a8ccc" opacity="0.04"/>
<rect x="56.2" y="584.2" width="120" height="0.9" fill="#4a8ccc" opacity="0.03"/>
<rect x="56.2" y="585.1" width="120" height="0.7" fill="#ffffff" opacity="0.20"/>
<rect x="56.2" y="585.8" width="120" height="1.2" fill="#4a8ccc" opacity="0.02"/>
<rect x="56.2" y="587" width="120" height="0.5" fill="#ffffff" opacity="0.13"/>
<rect x="56.2" y="587.5" width="120" height="0.5" fill="#ffffff" opacity="0.08"/>
<rect x="56.2" y="588" width="120" height="0.9" fill="#ffffff" opacity="0.18"/>
<rect x="56.2" y="588.9" width="120" height="0.7" fill="#4a8ccc" opacity="0.02"/>
<rect x="56.2" y="589.6" width="120" height="0.7" fill="#ffffff" opacity="0.20"/>
<rect x="56.2" y="590.3" width="120" height="1.2" fill="#ffffff" opacity="0.08"/>
<rect x="56.2" y="591.5" width="120" height="0.7" fill="#4a8ccc" opacity="0.02"/>
<rect x="56.2" y="592.2" width="120" height="0.5" fill="#4a8ccc" opacity="0.03"/>
<rect x="56.2" y="592.7" width="120" height="0.9" fill="#4a8ccc" opacity="0.02"/>
<rect x="56.2" y="593.6" width="120" height="0.5" fill="#ffffff" opacity="0.24"/>
<rect x="56.2" y="594.1" width="120" height="0.9" fill="#4a8ccc" opacity="0.03"/>
<rect x="56.2" y="595" width="120" height="1.2" fill="#ffffff" opacity="0.26"/>
<rect x="56.2" y="596.2" width="120" height="0.5" fill="#ffffff" opacity="0.09"/>
<rect x="56.2" y="596.7" width="120" height="0.7" fill="#ffffff" opacity="0.09"/>
<rect x="56.2" y="597.4" width="120" height="0.5" fill="#ffffff" opacity="0.19"/>
<rect x="56.2" y="597.9" width="120" height="0.7" fill="#ffffff" opacity="0.12"/>
<rect x="56.2" y="599.8" width="120" height="0.7" fill="#4a8ccc" opacity="0.01"/>
<rect x="56.2" y="601" width="120" height="1.2" fill="#4a8ccc" opacity="0.01"/>
<rect x="56.2" y="602.2" width="120" height="1.2" fill="#4a8ccc" opacity="0.02"/>
<rect x="56.2" y="603.4" width="120" height="1.2" fill="#ffffff" opacity="0.28"/>
<rect x="56.2" y="604.6" width="120" height="0.9" fill="#ffffff" opacity="0.09"/>
<rect x="56.2" y="606.4" width="120" height="0.9" fill="#4a8ccc" opacity="0.01"/>
<rect x="56.2" y="607.3" width="120" height="1.2" fill="#4a8ccc" opacity="0.03"/>
<rect x="56.2" y="608.5" width="120" height="0.9" fill="#ffffff" opacity="0.27"/>
<rect x="56.2" y="609.4" width="120" height="0.7" fill="#ffffff" opacity="0.18"/>
<rect x="56.2" y="610.1" width="120" height="0.7" fill="#ffffff" opacity="0.13"/>
<rect x="56.2" y="611.5" width="120" height="0.9" fill="#ffffff" opacity="0.16"/>
<rect x="56.2" y="612.4" width="120" height="0.7" fill="#4a8ccc" opacity="0.03"/>
<rect x="56.2" y="613.1" width="120" height="1.2" fill="#4a8ccc" opacity="0.02"/>
<rect x="56.2" y="616" width="120" height="0.7" fill="#4a8ccc" opacity="0.01"/>
<rect x="56.2" y="616.7" width="120" height="0.7" fill="#4a8ccc" opacity="0.02"/>
<rect x="56.2" y="617.4" width="120" height="0.7" fill="#ffffff" opacity="0.09"/>
<rect x="56.2" y="618.1" width="120" height="0.5" fill="#4a8ccc" opacity="0.01"/>
<rect x="56.2" y="618.6" width="120" height="0.7" fill="#4a8ccc" opacity="0.01"/>
<rect x="56.2" y="619.3" width="120" height="0.7" fill="#4a8ccc" opacity="0.02"/>
<rect x="56.2" y="620" width="120" height="0.5" fill="#4a8ccc" opacity="0.01"/>
<rect x="56.2" y="620.5" width="120" height="0.9" fill="#ffffff" opacity="0.27"/>
<rect x="56.2" y="621.9" width="120" height="1.2" fill="#ffffff" opacity="0.12"/>
<rect x="56.2" y="623.1" width="120" height="0.5" fill="#ffffff" opacity="0.27"/>
<rect x="56.2" y="624.1" width="120" height="0.9" fill="#4a8ccc" opacity="0.01"/>
<rect x="56.2" y="625" width="120" height="0.7" fill="#ffffff" opacity="0.15"/>
<rect x="56.2" y="625.7" width="120" height="0.9" fill="#ffffff" opacity="0.13"/>
<rect x="56.2" y="626.6" width="120" height="0.9" fill="#ffffff" opacity="0.23"/>
<rect x="56.2" y="630.1" width="120" height="0.5" fill="#4a8ccc" opacity="0.02"/>
<rect x="56.2" y="630.6" width="120" height="0.9" fill="#4a8ccc" opacity="0.01"/>
<rect x="56.2" y="631.5" width="120" height="0.7" fill="#4a8ccc" opacity="0.02"/>
<rect x="56.2" y="632.2" width="120" height="0.9" fill="#ffffff" opacity="0.08"/>
<rect x="56.2" y="633.1" width="120" height="0.7" fill="#ffffff" opacity="0.23"/>
<g filter="url(#hb2)">
<path d="M83.98 246.3 L87.88 290 L93.73 340 L99.77 420 L104.06 500 L106.79 591.6 L121.61 591.6 L124.34 500 L128.63 420 L134.68 340 L140.53 290 L144.43 246.3 Z" fill="url(#cgL0)" opacity="0.35"/>
<path d="M90.95 246.3 L93.95 290 L98.45 340 L103.1 420 L106.4 500 L108.5 591.6 L119.9 591.6 L122 500 L125.3 420 L129.95 340 L134.45 290 L137.45 246.3 Z" fill="url(#cgL1)" opacity="0.5"/>
<path d="M96.84 246.3 L99.08 290 L102.44 340 L105.91 420 L108.38 500 L109.94 591.6 L118.46 591.6 L120.02 500 L122.49 420 L125.96 340 L129.32 290 L131.56 246.3 Z" fill="url(#cgL2)" opacity="0.66"/>
<path d="M101.49 246.3 L103.13 290 L105.59 340 L108.13 420 L109.94 500 L111.08 591.6 L117.32 591.6 L118.46 500 L120.27 420 L122.81 340 L125.27 290 L126.91 246.3 Z" fill="url(#cgL3)" opacity="0.8"/>
<path d="M105.52 246.3 L106.64 290 L108.32 340 L110.06 420 L111.29 500 L112.07 591.6 L116.33 591.6 L117.11 500 L118.34 420 L120.08 340 L121.76 290 L122.88 246.3 Z" fill="url(#cgL4)" opacity="0.86"/>
<path d="M108.93 246.3 L109.61 290 L110.63 340 L111.68 420 L112.43 500 L112.91 591.6 L115.49 591.6 L115.97 500 L116.72 420 L117.77 340 L118.79 290 L119.47 246.3 Z" fill="url(#cgL5)" opacity="0.9"/>
</g>
<g filter="url(#hb3)">
<rect x="95.74" y="250.3" width="36.76" height="0.7" fill="#ffffff" opacity="0.18"/>
<rect x="100.05" y="253.8" width="36.38" height="1.4" fill="#ffffff" opacity="0.14"/>
<rect x="93.08" y="255.46" width="36.19" height="1.4" fill="#ffffff" opacity="0.27"/>
<rect x="98.68" y="259.73" width="23.82" height="1.4" fill="#08306b" opacity="0.30"/>
<rect x="99.92" y="262.2" width="35.45" height="1.4" fill="#ffffff" opacity="0.09"/>
<rect x="102.84" y="263.84" width="23.52" height="1" fill="#08306b" opacity="0.14"/>
<rect x="96.34" y="266.02" width="35.03" height="1.4" fill="#ffffff" opacity="0.19"/>
<rect x="96.46" y="271.49" width="34.43" height="1" fill="#ffffff" opacity="0.23"/>
<rect x="104.01" y="273.18" width="22.83" height="0.7" fill="#08306b" opacity="0.25"/>
<rect x="104.56" y="274.49" width="22.74" height="1" fill="#08306b" opacity="0.29"/>
<rect x="95.84" y="277.1" width="33.82" height="1" fill="#ffffff" opacity="0.12"/>
<rect x="107.12" y="281.46" width="22.23" height="0.7" fill="#08306b" opacity="0.27"/>
<rect x="94.38" y="283.04" width="33.16" height="1" fill="#ffffff" opacity="0.26"/>
<rect x="99.17" y="284.38" width="22.01" height="1" fill="#08306b" opacity="0.29"/>
<rect x="104.34" y="285.9" width="21.9" height="0.7" fill="#08306b" opacity="0.20"/>
<rect x="97.77" y="294.21" width="31.79" height="1.4" fill="#ffffff" opacity="0.13"/>
<rect x="97.68" y="296.45" width="31.47" height="1" fill="#ffffff" opacity="0.22"/>
<rect x="100.01" y="297.63" width="20.87" height="1" fill="#08306b" opacity="0.29"/>
<rect x="103.87" y="301.44" width="20.5" height="0.7" fill="#08306b" opacity="0.31"/>
<rect x="100.53" y="302.19" width="30.65" height="1.4" fill="#ffffff" opacity="0.27"/>
<rect x="99.56" y="303.83" width="30.41" height="1" fill="#ffffff" opacity="0.19"/>
<rect x="101.33" y="305.69" width="30.14" height="1.4" fill="#ffffff" opacity="0.15"/>
<rect x="107.54" y="309.72" width="19.71" height="1" fill="#08306b" opacity="0.26"/>
<rect x="97.89" y="311.46" width="29.31" height="1.4" fill="#ffffff" opacity="0.16"/>
<rect x="97.79" y="314.68" width="28.85" height="1.4" fill="#ffffff" opacity="0.23"/>
<rect x="97.54" y="319.76" width="28.11" height="1" fill="#ffffff" opacity="0.24"/>
<rect x="101.27" y="321.73" width="27.83" height="1.4" fill="#ffffff" opacity="0.22"/>
<rect x="105.99" y="324.11" width="18.33" height="0.7" fill="#08306b" opacity="0.28"/>
<rect x="107.57" y="327.57" width="17.99" height="1" fill="#08306b" opacity="0.16"/>
<rect x="104.98" y="332.79" width="17.49" height="1" fill="#08306b" opacity="0.24"/>
<rect x="99.93" y="334.58" width="25.98" height="1" fill="#ffffff" opacity="0.16"/>
<rect x="101" y="340.33" width="25.17" height="0.7" fill="#ffffff" opacity="0.19"/>
<rect x="99.26" y="345.6" width="24.68" height="1.4" fill="#ffffff" opacity="0.25"/>
<rect x="104.6" y="347.8" width="16.32" height="0.7" fill="#08306b" opacity="0.15"/>
<rect x="105.97" y="348.67" width="16.26" height="1" fill="#08306b" opacity="0.30"/>
<rect x="106.37" y="350.51" width="16.15" height="0.7" fill="#08306b" opacity="0.29"/>
<rect x="106.53" y="351.22" width="16.1" height="1" fill="#08306b" opacity="0.25"/>
<rect x="109.21" y="353.23" width="15.98" height="1" fill="#08306b" opacity="0.25"/>
<rect x="106.28" y="358.54" width="15.65" height="0.7" fill="#08306b" opacity="0.30"/>
<rect x="104.21" y="359.29" width="15.6" height="1.4" fill="#08306b" opacity="0.12"/>
<rect x="106.61" y="361.48" width="15.47" height="1" fill="#08306b" opacity="0.27"/>
<rect x="105.07" y="362.73" width="15.39" height="1" fill="#08306b" opacity="0.11"/>
<rect x="105.58" y="368.31" width="22.57" height="1" fill="#ffffff" opacity="0.10"/>
<rect x="104.62" y="372.16" width="14.81" height="0.7" fill="#08306b" opacity="0.11"/>
<rect x="101.21" y="384.41" width="21.07" height="1" fill="#ffffff" opacity="0.08"/>
<rect x="109.9" y="390.8" width="13.65" height="1" fill="#08306b" opacity="0.25"/>
<rect x="105.29" y="391.98" width="13.58" height="1" fill="#08306b" opacity="0.20"/>
<rect x="101.62" y="394.06" width="20.17" height="1.4" fill="#ffffff" opacity="0.22"/>
<rect x="102.29" y="395.6" width="20.03" height="0.7" fill="#ffffff" opacity="0.17"/>
<rect x="105.4" y="396.63" width="19.93" height="1.4" fill="#ffffff" opacity="0.12"/>
<rect x="104.69" y="400.37" width="19.59" height="0.7" fill="#ffffff" opacity="0.18"/>
<rect x="105.25" y="402.91" width="19.35" height="0.7" fill="#ffffff" opacity="0.24"/>
<rect x="108.26" y="403.71" width="12.85" height="1" fill="#08306b" opacity="0.31"/>
<rect x="104.02" y="405.71" width="19.09" height="1.4" fill="#ffffff" opacity="0.19"/>
<rect x="106.95" y="407.64" width="18.91" height="1.4" fill="#ffffff" opacity="0.10"/>
<rect x="105.56" y="413.02" width="18.41" height="1" fill="#ffffff" opacity="0.21"/>
<rect x="108.61" y="414.99" width="12.15" height="1.4" fill="#08306b" opacity="0.32"/>
<rect x="109.1" y="419.96" width="11.84" height="0.7" fill="#08306b" opacity="0.23"/>
<rect x="103.18" y="421.73" width="17.65" height="1" fill="#ffffff" opacity="0.13"/>
<rect x="107.62" y="427.62" width="17.26" height="1.4" fill="#ffffff" opacity="0.24"/>
<rect x="106.72" y="429.68" width="11.41" height="1" fill="#08306b" opacity="0.22"/>
<rect x="106.9" y="435.78" width="11.15" height="1" fill="#08306b" opacity="0.28"/>
<rect x="108.76" y="437.71" width="11.06" height="0.7" fill="#08306b" opacity="0.16"/>
<rect x="109.07" y="439.41" width="10.99" height="1" fill="#08306b" opacity="0.14"/>
<rect x="108.83" y="442.03" width="10.87" height="1" fill="#08306b" opacity="0.13"/>
<rect x="107.19" y="443.09" width="10.82" height="1" fill="#08306b" opacity="0.24"/>
<rect x="106.94" y="445.03" width="10.74" height="0.7" fill="#08306b" opacity="0.16"/>
<rect x="108.16" y="446.46" width="16.01" height="0.7" fill="#ffffff" opacity="0.25"/>
<rect x="107.93" y="447.74" width="15.93" height="1.4" fill="#ffffff" opacity="0.14"/>
<rect x="104.68" y="453.61" width="15.54" height="1" fill="#ffffff" opacity="0.19"/>
<rect x="110.4" y="455.65" width="10.27" height="1" fill="#08306b" opacity="0.30"/>
<rect x="107.66" y="457.69" width="10.18" height="1.4" fill="#08306b" opacity="0.31"/>
<rect x="105.07" y="459.4" width="15.16" height="1.4" fill="#ffffff" opacity="0.26"/>
<rect x="107.91" y="461.4" width="10.02" height="0.7" fill="#08306b" opacity="0.31"/>
<rect x="108.39" y="463.3" width="14.9" height="0.7" fill="#ffffff" opacity="0.27"/>
<rect x="106.24" y="468.11" width="14.59" height="0.7" fill="#ffffff" opacity="0.08"/>
<rect x="107.27" y="469.04" width="14.52" height="1.4" fill="#ffffff" opacity="0.23"/>
<rect x="109" y="470.57" width="9.61" height="1" fill="#08306b" opacity="0.18"/>
<rect x="105.76" y="472.03" width="14.33" height="1" fill="#ffffff" opacity="0.22"/>
<rect x="107.54" y="474.63" width="14.15" height="0.7" fill="#ffffff" opacity="0.15"/>
<rect x="110.02" y="478.8" width="9.25" height="0.7" fill="#08306b" opacity="0.13"/>
<rect x="107.12" y="479.76" width="13.82" height="0.7" fill="#ffffff" opacity="0.26"/>
<rect x="107.03" y="480.99" width="13.73" height="0.7" fill="#ffffff" opacity="0.11"/>
<rect x="108.51" y="482.02" width="9.11" height="1" fill="#08306b" opacity="0.21"/>
<rect x="109.04" y="483.4" width="13.58" height="1" fill="#ffffff" opacity="0.09"/>
<rect x="106.57" y="487.87" width="13.28" height="0.7" fill="#ffffff" opacity="0.15"/>
<rect x="108.4" y="490.81" width="13.09" height="0.7" fill="#ffffff" opacity="0.14"/>
<rect x="109.9" y="492.69" width="8.64" height="0.7" fill="#08306b" opacity="0.21"/>
<rect x="107.31" y="493.92" width="12.88" height="1.4" fill="#ffffff" opacity="0.09"/>
<rect x="108.79" y="495.81" width="8.5" height="1" fill="#08306b" opacity="0.14"/>
<rect x="108.2" y="497.73" width="12.63" height="1.4" fill="#ffffff" opacity="0.25"/>
<rect x="109.34" y="500.2" width="8.32" height="1.4" fill="#08306b" opacity="0.15"/>
<rect x="108.75" y="504.1" width="12.33" height="0.7" fill="#ffffff" opacity="0.16"/>
<rect x="109.64" y="505.67" width="8.18" height="0.7" fill="#08306b" opacity="0.16"/>
<rect x="107.81" y="507.14" width="12.22" height="1" fill="#ffffff" opacity="0.23"/>
<rect x="107.16" y="508.3" width="12.18" height="1.4" fill="#ffffff" opacity="0.25"/>
<rect x="110.02" y="511.87" width="8.03" height="1" fill="#08306b" opacity="0.21"/>
<rect x="109.19" y="513.01" width="12" height="1.4" fill="#ffffff" opacity="0.26"/>
<rect x="111.41" y="515.35" width="7.94" height="1" fill="#08306b" opacity="0.16"/>
<rect x="110.28" y="516.48" width="7.92" height="1.4" fill="#08306b" opacity="0.22"/>
<rect x="107.09" y="518.52" width="11.8" height="0.7" fill="#ffffff" opacity="0.20"/>
<rect x="109.25" y="519.42" width="11.77" height="1" fill="#ffffff" opacity="0.09"/>
<rect x="110.39" y="522.94" width="7.76" height="1.4" fill="#08306b" opacity="0.25"/>
<rect x="111.1" y="525.31" width="7.7" height="1" fill="#08306b" opacity="0.12"/>
<rect x="109.58" y="526.46" width="7.67" height="0.7" fill="#08306b" opacity="0.15"/>
<rect x="110.18" y="529.95" width="7.59" height="1.4" fill="#08306b" opacity="0.28"/>
<rect x="108.11" y="533.42" width="11.25" height="1" fill="#ffffff" opacity="0.17"/>
<rect x="109.13" y="536.66" width="11.14" height="1.4" fill="#ffffff" opacity="0.15"/>
<rect x="109.72" y="541.14" width="7.31" height="0.7" fill="#08306b" opacity="0.25"/>
<rect x="110.07" y="544.24" width="10.86" height="1.4" fill="#ffffff" opacity="0.27"/>
<rect x="111.76" y="547.83" width="7.15" height="1.4" fill="#08306b" opacity="0.24"/>
<rect x="108.17" y="549.54" width="10.66" height="1.4" fill="#ffffff" opacity="0.09"/>
<rect x="110.74" y="554.89" width="6.98" height="0.7" fill="#08306b" opacity="0.29"/>
<rect x="108.33" y="556.69" width="10.4" height="1.4" fill="#ffffff" opacity="0.10"/>
<rect x="110.44" y="560.53" width="6.84" height="0.7" fill="#08306b" opacity="0.30"/>
<rect x="110.31" y="561.59" width="6.81" height="1" fill="#08306b" opacity="0.15"/>
<rect x="112" y="562.86" width="6.78" height="1.4" fill="#08306b" opacity="0.19"/>
<rect x="110.13" y="566.73" width="10.03" height="1" fill="#ffffff" opacity="0.12"/>
<rect x="108.12" y="567.8" width="9.99" height="0.7" fill="#ffffff" opacity="0.25"/>
<rect x="111.72" y="569.03" width="6.63" height="0.7" fill="#08306b" opacity="0.18"/>
<rect x="110.39" y="570.65" width="9.89" height="1.4" fill="#ffffff" opacity="0.23"/>
<rect x="110.07" y="580.19" width="6.36" height="0.7" fill="#08306b" opacity="0.19"/>
<rect x="112.13" y="581.55" width="6.33" height="0.7" fill="#08306b" opacity="0.23"/>
<rect x="111.22" y="585.63" width="6.23" height="1" fill="#08306b" opacity="0.18"/>
<rect x="111.83" y="588.95" width="6.14" height="0.7" fill="#08306b" opacity="0.20"/>
<rect x="110.58" y="590.1" width="9.18" height="0.7" fill="#ffffff" opacity="0.14"/>
</g>
<g fill="#3c86c6" filter="url(#hb3)">
<rect x="112.2" y="591.6" width="4" height="31.3" opacity="0.35"/>
<rect x="110.2" y="591.6" width="8" height="31.3" opacity="0.3"/>
<rect x="107.8" y="591.6" width="12.8" height="31.3" opacity="0.2"/>
</g>
<g fill="#7fb2dc" filter="url(#hb3)">
<rect x="111.8" y="622.9" width="4.8" height="13.7" opacity="0.25"/>
<rect x="109.4" y="622.9" width="9.6" height="13.7" opacity="0.2"/>
</g>
</g>
<rect x="55.2" y="249.3" width="122" height="385.3" fill="none" stroke="#0a0a0a" stroke-width="2.5"/>
<line x1="54.2" y1="591.9" x2="178.2" y2="591.9" stroke="#0a0a0a" stroke-width="4.2" />
<line x1="56.2" y1="591.9" x2="176.2" y2="591.9" stroke="#666" stroke-width="0.8" />
<line x1="54.2" y1="622.9" x2="178.2" y2="622.9" stroke="#0a0a0a" stroke-width="4.2" />
<line x1="56.2" y1="622.9" x2="176.2" y2="622.9" stroke="#666" stroke-width="0.8" />
<line x1="55.2" y1="633.6" x2="55.2" y2="637.4" stroke="#111" stroke-width="1.8" />
<line x1="114.2" y1="633.6" x2="114.2" y2="637.4" stroke="#111" stroke-width="1.8" />
<line x1="177.2" y1="633.6" x2="177.2" y2="637.4" stroke="#111" stroke-width="1.8" />
<g clip-path="url(#clipR)">
<rect x="188.4" y="250.3" width="120" height="383.3" fill="url(#hbg)" />
<rect x="188.4" y="251.7" width="120" height="0.5" fill="#ffffff" opacity="0.13"/>
<rect x="188.4" y="252.2" width="120" height="1.2" fill="#ffffff" opacity="0.19"/>
<rect x="188.4" y="253.4" width="120" height="0.9" fill="#4a8ccc" opacity="0.13"/>
<rect x="188.4" y="254.3" width="120" height="1.2" fill="#4a8ccc" opacity="0.07"/>
<rect x="188.4" y="255.5" width="120" height="0.9" fill="#4a8ccc" opacity="0.03"/>
<rect x="188.4" y="256.4" width="120" height="0.5" fill="#4a8ccc" opacity="0.04"/>
<rect x="188.4" y="256.9" width="120" height="0.9" fill="#4a8ccc" opacity="0.09"/>
<rect x="188.4" y="258.5" width="120" height="1.2" fill="#4a8ccc" opacity="0.07"/>
<rect x="188.4" y="259.7" width="120" height="0.9" fill="#4a8ccc" opacity="0.10"/>
<rect x="188.4" y="260.6" width="120" height="0.5" fill="#ffffff" opacity="0.14"/>
<rect x="188.4" y="261.6" width="120" height="0.7" fill="#ffffff" opacity="0.26"/>
<rect x="188.4" y="263.2" width="120" height="1.2" fill="#4a8ccc" opacity="0.08"/>
<rect x="188.4" y="264.4" width="120" height="0.7" fill="#4a8ccc" opacity="0.05"/>
<rect x="188.4" y="265.1" width="120" height="0.7" fill="#ffffff" opacity="0.19"/>
<rect x="188.4" y="265.8" width="120" height="0.5" fill="#4a8ccc" opacity="0.13"/>
<rect x="188.4" y="266.3" width="120" height="0.5" fill="#4a8ccc" opacity="0.03"/>
<rect x="188.4" y="266.8" width="120" height="0.5" fill="#ffffff" opacity="0.22"/>
<rect x="188.4" y="269" width="120" height="0.5" fill="#4a8ccc" opacity="0.05"/>
<rect x="188.4" y="271.6" width="120" height="0.7" fill="#4a8ccc" opacity="0.07"/>
<rect x="188.4" y="272.3" width="120" height="0.5" fill="#ffffff" opacity="0.18"/>
<rect x="188.4" y="272.8" width="120" height="0.5" fill="#ffffff" opacity="0.10"/>
<rect x="188.4" y="275.7" width="120" height="0.5" fill="#4a8ccc" opacity="0.09"/>
<rect x="188.4" y="276.2" width="120" height="0.9" fill="#ffffff" opacity="0.13"/>
<rect x="188.4" y="277.1" width="120" height="0.9" fill="#ffffff" opacity="0.13"/>
<rect x="188.4" y="278.5" width="120" height="0.5" fill="#ffffff" opacity="0.17"/>
<rect x="188.4" y="279" width="120" height="1.2" fill="#ffffff" opacity="0.12"/>
<rect x="188.4" y="280.2" width="120" height="1.2" fill="#4a8ccc" opacity="0.12"/>
<rect x="188.4" y="281.4" width="120" height="1.2" fill="#ffffff" opacity="0.13"/>
<rect x="188.4" y="282.6" width="120" height="0.7" fill="#ffffff" opacity="0.27"/>
<rect x="188.4" y="283.3" width="120" height="0.7" fill="#ffffff" opacity="0.26"/>
<rect x="188.4" y="284" width="120" height="1.2" fill="#ffffff" opacity="0.20"/>
<rect x="188.4" y="286.4" width="120" height="0.5" fill="#ffffff" opacity="0.16"/>
<rect x="188.4" y="286.9" width="120" height="0.7" fill="#4a8ccc" opacity="0.07"/>
<rect x="188.4" y="287.6" width="120" height="1.2" fill="#ffffff" opacity="0.25"/>
<rect x="188.4" y="288.8" width="120" height="0.5" fill="#ffffff" opacity="0.15"/>
<rect x="188.4" y="289.3" width="120" height="0.7" fill="#ffffff" opacity="0.26"/>
<rect x="188.4" y="290" width="120" height="1.2" fill="#4a8ccc" opacity="0.04"/>
<rect x="188.4" y="291.2" width="120" height="1.2" fill="#ffffff" opacity="0.21"/>
<rect x="188.4" y="292.4" width="120" height="0.5" fill="#4a8ccc" opacity="0.11"/>
<rect x="188.4" y="292.9" width="120" height="0.7" fill="#4a8ccc" opacity="0.07"/>
<rect x="188.4" y="293.6" width="120" height="0.9" fill="#ffffff" opacity="0.09"/>
<rect x="188.4" y="294.5" width="120" height="0.5" fill="#ffffff" opacity="0.11"/>
<rect x="188.4" y="295" width="120" height="0.7" fill="#ffffff" opacity="0.13"/>
<rect x="188.4" y="295.7" width="120" height="0.7" fill="#4a8ccc" opacity="0.07"/>
<rect x="188.4" y="296.4" width="120" height="0.7" fill="#ffffff" opacity="0.15"/>
<rect x="188.4" y="297.1" width="120" height="1.2" fill="#4a8ccc" opacity="0.11"/>
<rect x="188.4" y="298.3" width="120" height="0.7" fill="#ffffff" opacity="0.18"/>
<rect x="188.4" y="299" width="120" height="0.7" fill="#ffffff" opacity="0.17"/>
<rect x="188.4" y="300.4" width="120" height="0.9" fill="#4a8ccc" opacity="0.07"/>
<rect x="188.4" y="301.3" width="120" height="0.9" fill="#4a8ccc" opacity="0.06"/>
<rect x="188.4" y="302.2" width="120" height="0.7" fill="#ffffff" opacity="0.23"/>
<rect x="188.4" y="302.9" width="120" height="0.5" fill="#4a8ccc" opacity="0.05"/>
<rect x="188.4" y="303.4" width="120" height="1.2" fill="#ffffff" opacity="0.22"/>
<rect x="188.4" y="304.6" width="120" height="0.7" fill="#ffffff" opacity="0.16"/>
<rect x="188.4" y="305.3" width="120" height="0.5" fill="#4a8ccc" opacity="0.10"/>
<rect x="188.4" y="305.8" width="120" height="0.7" fill="#ffffff" opacity="0.21"/>
<rect x="188.4" y="306.5" width="120" height="0.5" fill="#ffffff" opacity="0.26"/>
<rect x="188.4" y="307" width="120" height="0.9" fill="#ffffff" opacity="0.22"/>
<rect x="188.4" y="307.9" width="120" height="0.5" fill="#ffffff" opacity="0.11"/>
<rect x="188.4" y="308.4" width="120" height="1.2" fill="#ffffff" opacity="0.16"/>
<rect x="188.4" y="311.5" width="120" height="0.7" fill="#ffffff" opacity="0.22"/>
<rect x="188.4" y="313.1" width="120" height="0.5" fill="#4a8ccc" opacity="0.09"/>
<rect x="188.4" y="314.3" width="120" height="1.2" fill="#4a8ccc" opacity="0.08"/>
<rect x="188.4" y="315.5" width="120" height="0.7" fill="#ffffff" opacity="0.13"/>
<rect x="188.4" y="316.2" width="120" height="0.7" fill="#4a8ccc" opacity="0.03"/>
<rect x="188.4" y="316.9" width="120" height="0.5" fill="#4a8ccc" opacity="0.06"/>
<rect x="188.4" y="317.4" width="120" height="0.9" fill="#ffffff" opacity="0.23"/>
<rect x="188.4" y="318.3" width="120" height="0.9" fill="#4a8ccc" opacity="0.11"/>
<rect x="188.4" y="319.2" width="120" height="0.7" fill="#4a8ccc" opacity="0.09"/>
<rect x="188.4" y="323.6" width="120" height="0.5" fill="#ffffff" opacity="0.14"/>
<rect x="188.4" y="324.1" width="120" height="0.9" fill="#4a8ccc" opacity="0.03"/>
<rect x="188.4" y="326.2" width="120" height="0.7" fill="#ffffff" opacity="0.10"/>
<rect x="188.4" y="326.9" width="120" height="1.2" fill="#4a8ccc" opacity="0.05"/>
<rect x="188.4" y="328.1" width="120" height="1.2" fill="#4a8ccc" opacity="0.08"/>
<rect x="188.4" y="329.3" width="120" height="0.7" fill="#4a8ccc" opacity="0.07"/>
<rect x="188.4" y="330" width="120" height="0.7" fill="#4a8ccc" opacity="0.04"/>
<rect x="188.4" y="330.7" width="120" height="0.9" fill="#ffffff" opacity="0.11"/>
<rect x="188.4" y="331.6" width="120" height="0.7" fill="#4a8ccc" opacity="0.05"/>
<rect x="188.4" y="332.3" width="120" height="0.5" fill="#ffffff" opacity="0.15"/>
<rect x="188.4" y="332.8" width="120" height="0.5" fill="#ffffff" opacity="0.14"/>
<rect x="188.4" y="333.3" width="120" height="0.7" fill="#4a8ccc" opacity="0.07"/>
<rect x="188.4" y="334" width="120" height="1.2" fill="#ffffff" opacity="0.13"/>
<rect x="188.4" y="335.2" width="120" height="1.2" fill="#ffffff" opacity="0.21"/>
<rect x="188.4" y="336.4" width="120" height="0.9" fill="#ffffff" opacity="0.22"/>
<rect x="188.4" y="337.3" width="120" height="0.7" fill="#ffffff" opacity="0.24"/>
<rect x="188.4" y="339.2" width="120" height="0.7" fill="#4a8ccc" opacity="0.04"/>
<rect x="188.4" y="342.3" width="120" height="0.5" fill="#4a8ccc" opacity="0.03"/>
<rect x="188.4" y="342.8" width="120" height="1.2" fill="#ffffff" opacity="0.09"/>
<rect x="188.4" y="344" width="120" height="0.9" fill="#ffffff" opacity="0.10"/>
<rect x="188.4" y="344.9" width="120" height="0.9" fill="#4a8ccc" opacity="0.03"/>
<rect x="188.4" y="345.8" width="120" height="0.9" fill="#4a8ccc" opacity="0.07"/>
<rect x="188.4" y="346.7" width="120" height="0.9" fill="#ffffff" opacity="0.09"/>
<rect x="188.4" y="347.6" width="120" height="0.5" fill="#4a8ccc" opacity="0.10"/>
<rect x="188.4" y="348.1" width="120" height="1.2" fill="#ffffff" opacity="0.22"/>
<rect x="188.4" y="349.3" width="120" height="0.9" fill="#ffffff" opacity="0.18"/>
<rect x="188.4" y="350.2" width="120" height="1.2" fill="#4a8ccc" opacity="0.09"/>
<rect x="188.4" y="351.4" width="120" height="0.9" fill="#ffffff" opacity="0.26"/>
<rect x="188.4" y="352.3" width="120" height="0.9" fill="#4a8ccc" opacity="0.10"/>
<rect x="188.4" y="353.2" width="120" height="0.9" fill="#4a8ccc" opacity="0.03"/>
<rect x="188.4" y="354.1" width="120" height="0.5" fill="#ffffff" opacity="0.16"/>
<rect x="188.4" y="354.6" width="120" height="0.7" fill="#ffffff" opacity="0.12"/>
<rect x="188.4" y="355.3" width="120" height="0.7" fill="#ffffff" opacity="0.22"/>
<rect x="188.4" y="356" width="120" height="0.9" fill="#4a8ccc" opacity="0.05"/>
<rect x="188.4" y="356.9" width="120" height="0.7" fill="#4a8ccc" opacity="0.05"/>
<rect x="188.4" y="357.6" width="120" height="0.7" fill="#4a8ccc" opacity="0.07"/>
<rect x="188.4" y="359.2" width="120" height="0.9" fill="#ffffff" opacity="0.09"/>
<rect x="188.4" y="361.3" width="120" height="0.7" fill="#4a8ccc" opacity="0.06"/>
<rect x="188.4" y="362.7" width="120" height="0.5" fill="#ffffff" opacity="0.13"/>
<rect x="188.4" y="363.2" width="120" height="0.7" fill="#4a8ccc" opacity="0.10"/>
<rect x="188.4" y="364.4" width="120" height="1.2" fill="#4a8ccc" opacity="0.04"/>
<rect x="188.4" y="365.6" width="120" height="0.9" fill="#ffffff" opacity="0.25"/>
<rect x="188.4" y="366.5" width="120" height="1.2" fill="#ffffff" opacity="0.09"/>
<rect x="188.4" y="367.7" width="120" height="0.5" fill="#4a8ccc" opacity="0.06"/>
<rect x="188.4" y="368.2" width="120" height="0.9" fill="#ffffff" opacity="0.08"/>
<rect x="188.4" y="369.8" width="120" height="0.7" fill="#4a8ccc" opacity="0.02"/>
<rect x="188.4" y="370.5" width="120" height="0.9" fill="#4a8ccc" opacity="0.06"/>
<rect x="188.4" y="371.4" width="120" height="0.9" fill="#4a8ccc" opacity="0.06"/>
<rect x="188.4" y="373.5" width="120" height="0.5" fill="#4a8ccc" opacity="0.05"/>
<rect x="188.4" y="374" width="120" height="0.9" fill="#4a8ccc" opacity="0.05"/>
<rect x="188.4" y="374.9" width="120" height="0.9" fill="#4a8ccc" opacity="0.07"/>
<rect x="188.4" y="377.2" width="120" height="0.7" fill="#4a8ccc" opacity="0.06"/>
<rect x="188.4" y="377.9" width="120" height="0.5" fill="#ffffff" opacity="0.20"/>
<rect x="188.4" y="378.4" width="120" height="1.2" fill="#4a8ccc" opacity="0.04"/>
<rect x="188.4" y="379.6" width="120" height="1.2" fill="#4a8ccc" opacity="0.03"/>
<rect x="188.4" y="381.5" width="120" height="0.7" fill="#4a8ccc" opacity="0.03"/>
<rect x="188.4" y="382.2" width="120" height="0.9" fill="#4a8ccc" opacity="0.04"/>
<rect x="188.4" y="383.1" width="120" height="0.9" fill="#4a8ccc" opacity="0.04"/>
<rect x="188.4" y="384" width="120" height="1.2" fill="#ffffff" opacity="0.19"/>
<rect x="188.4" y="385.2" width="120" height="0.5" fill="#4a8ccc" opacity="0.09"/>
<rect x="188.4" y="387.4" width="120" height="0.5" fill="#4a8ccc" opacity="0.09"/>
<rect x="188.4" y="387.9" width="120" height="0.5" fill="#4a8ccc" opacity="0.07"/>
<rect x="188.4" y="389.1" width="120" height="0.7" fill="#4a8ccc" opacity="0.08"/>
<rect x="188.4" y="389.8" width="120" height="0.7" fill="#4a8ccc" opacity="0.07"/>
<rect x="188.4" y="390.5" width="120" height="1.2" fill="#ffffff" opacity="0.15"/>
<rect x="188.4" y="391.7" width="120" height="0.5" fill="#4a8ccc" opacity="0.09"/>
<rect x="188.4" y="392.2" width="120" height="1.2" fill="#ffffff" opacity="0.22"/>
<rect x="188.4" y="394.6" width="120" height="0.5" fill="#4a8ccc" opacity="0.08"/>
<rect x="188.4" y="395.6" width="120" height="0.9" fill="#ffffff" opacity="0.23"/>
<rect x="188.4" y="397.9" width="120" height="0.5" fill="#ffffff" opacity="0.18"/>
<rect x="188.4" y="398.4" width="120" height="0.9" fill="#4a8ccc" opacity="0.02"/>
<rect x="188.4" y="399.3" width="120" height="0.9" fill="#ffffff" opacity="0.19"/>
<rect x="188.4" y="400.2" width="120" height="0.5" fill="#ffffff" opacity="0.26"/>
<rect x="188.4" y="400.7" width="120" height="0.7" fill="#ffffff" opacity="0.12"/>
<rect x="188.4" y="401.4" width="120" height="1.2" fill="#ffffff" opacity="0.28"/>
<rect x="188.4" y="402.6" width="120" height="1.2" fill="#ffffff" opacity="0.08"/>
<rect x="188.4" y="403.8" width="120" height="0.5" fill="#ffffff" opacity="0.13"/>
<rect x="188.4" y="404.3" width="120" height="0.7" fill="#4a8ccc" opacity="0.04"/>
<rect x="188.4" y="406.2" width="120" height="0.9" fill="#4a8ccc" opacity="0.07"/>
<rect x="188.4" y="408" width="120" height="0.5" fill="#ffffff" opacity="0.28"/>
<rect x="188.4" y="408.5" width="120" height="1.2" fill="#4a8ccc" opacity="0.08"/>
<rect x="188.4" y="409.7" width="120" height="0.5" fill="#ffffff" opacity="0.20"/>
<rect x="188.4" y="411.4" width="120" height="0.7" fill="#4a8ccc" opacity="0.05"/>
<rect x="188.4" y="412.8" width="120" height="0.5" fill="#4a8ccc" opacity="0.06"/>
<rect x="188.4" y="414.2" width="120" height="0.5" fill="#ffffff" opacity="0.24"/>
<rect x="188.4" y="414.7" width="120" height="1.2" fill="#ffffff" opacity="0.17"/>
<rect x="188.4" y="415.9" width="120" height="0.9" fill="#ffffff" opacity="0.15"/>
<rect x="188.4" y="416.8" width="120" height="1.2" fill="#ffffff" opacity="0.08"/>
<rect x="188.4" y="419.2" width="120" height="0.5" fill="#4a8ccc" opacity="0.07"/>
<rect x="188.4" y="419.7" width="120" height="0.7" fill="#ffffff" opacity="0.13"/>
<rect x="188.4" y="420.4" width="120" height="0.9" fill="#4a8ccc" opacity="0.06"/>
<rect x="188.4" y="423" width="120" height="1.2" fill="#4a8ccc" opacity="0.06"/>
<rect x="188.4" y="425.8" width="120" height="0.7" fill="#4a8ccc" opacity="0.04"/>
<rect x="188.4" y="426.5" width="120" height="0.9" fill="#4a8ccc" opacity="0.05"/>
<rect x="188.4" y="427.4" width="120" height="0.7" fill="#4a8ccc" opacity="0.05"/>
<rect x="188.4" y="428.1" width="120" height="1.2" fill="#ffffff" opacity="0.22"/>
<rect x="188.4" y="430.2" width="120" height="1.2" fill="#4a8ccc" opacity="0.08"/>
<rect x="188.4" y="432.1" width="120" height="0.7" fill="#ffffff" opacity="0.08"/>
<rect x="188.4" y="432.8" width="120" height="1.2" fill="#4a8ccc" opacity="0.04"/>
<rect x="188.4" y="434.9" width="120" height="0.5" fill="#ffffff" opacity="0.22"/>
<rect x="188.4" y="435.4" width="120" height="0.9" fill="#4a8ccc" opacity="0.05"/>
<rect x="188.4" y="436.3" width="120" height="0.9" fill="#ffffff" opacity="0.12"/>
<rect x="188.4" y="437.2" width="120" height="0.5" fill="#4a8ccc" opacity="0.04"/>
<rect x="188.4" y="439.5" width="120" height="1.2" fill="#4a8ccc" opacity="0.07"/>
<rect x="188.4" y="440.7" width="120" height="1.2" fill="#ffffff" opacity="0.12"/>
<rect x="188.4" y="441.9" width="120" height="0.9" fill="#4a8ccc" opacity="0.06"/>
<rect x="188.4" y="442.8" width="120" height="0.9" fill="#ffffff" opacity="0.08"/>
<rect x="188.4" y="443.7" width="120" height="0.5" fill="#4a8ccc" opacity="0.03"/>
<rect x="188.4" y="445.1" width="120" height="0.5" fill="#ffffff" opacity="0.23"/>
<rect x="188.4" y="445.6" width="120" height="0.7" fill="#4a8ccc" opacity="0.02"/>
<rect x="188.4" y="446.3" width="120" height="0.9" fill="#4a8ccc" opacity="0.02"/>
<rect x="188.4" y="447.2" width="120" height="0.9" fill="#4a8ccc" opacity="0.07"/>
<rect x="188.4" y="449" width="120" height="0.7" fill="#ffffff" opacity="0.25"/>
<rect x="188.4" y="449.7" width="120" height="0.5" fill="#4a8ccc" opacity="0.04"/>
<rect x="188.4" y="450.2" width="120" height="0.9" fill="#ffffff" opacity="0.25"/>
<rect x="188.4" y="451.1" width="120" height="0.5" fill="#ffffff" opacity="0.20"/>
<rect x="188.4" y="452.8" width="120" height="1.2" fill="#ffffff" opacity="0.17"/>
<rect x="188.4" y="454" width="120" height="0.5" fill="#ffffff" opacity="0.14"/>
<rect x="188.4" y="454.5" width="120" height="0.9" fill="#ffffff" opacity="0.20"/>
<rect x="188.4" y="455.4" width="120" height="0.9" fill="#ffffff" opacity="0.08"/>
<rect x="188.4" y="456.3" width="120" height="0.7" fill="#ffffff" opacity="0.23"/>
<rect x="188.4" y="457" width="120" height="0.5" fill="#4a8ccc" opacity="0.04"/>
<rect x="188.4" y="457.5" width="120" height="0.9" fill="#4a8ccc" opacity="0.05"/>
<rect x="188.4" y="458.4" width="120" height="0.7" fill="#4a8ccc" opacity="0.05"/>
<rect x="188.4" y="459.1" width="120" height="0.9" fill="#ffffff" opacity="0.20"/>
<rect x="188.4" y="461.2" width="120" height="0.9" fill="#4a8ccc" opacity="0.05"/>
<rect x="188.4" y="462.1" width="120" height="1.2" fill="#4a8ccc" opacity="0.04"/>
<rect x="188.4" y="463.3" width="120" height="0.9" fill="#ffffff" opacity="0.08"/>
<rect x="188.4" y="464.2" width="120" height="1.2" fill="#ffffff" opacity="0.24"/>
<rect x="188.4" y="465.4" width="120" height="0.9" fill="#ffffff" opacity="0.21"/>
<rect x="188.4" y="468" width="120" height="0.7" fill="#ffffff" opacity="0.19"/>
<rect x="188.4" y="468.7" width="120" height="0.7" fill="#4a8ccc" opacity="0.03"/>
<rect x="188.4" y="469.4" width="120" height="0.9" fill="#4a8ccc" opacity="0.07"/>
<rect x="188.4" y="470.3" width="120" height="0.7" fill="#4a8ccc" opacity="0.04"/>
<rect x="188.4" y="471" width="120" height="0.7" fill="#4a8ccc" opacity="0.06"/>
<rect x="188.4" y="471.7" width="120" height="0.7" fill="#4a8ccc" opacity="0.04"/>
<rect x="188.4" y="472.4" width="120" height="1.2" fill="#4a8ccc" opacity="0.03"/>
<rect x="188.4" y="473.6" width="120" height="0.5" fill="#ffffff" opacity="0.23"/>
<rect x="188.4" y="474.6" width="120" height="1.2" fill="#4a8ccc" opacity="0.04"/>
<rect x="188.4" y="475.8" width="120" height="0.7" fill="#4a8ccc" opacity="0.04"/>
<rect x="188.4" y="477.7" width="120" height="0.7" fill="#ffffff" opacity="0.08"/>
<rect x="188.4" y="478.4" width="120" height="1.2" fill="#ffffff" opacity="0.15"/>
<rect x="188.4" y="480.5" width="120" height="0.9" fill="#ffffff" opacity="0.28"/>
<rect x="188.4" y="482.1" width="120" height="0.7" fill="#4a8ccc" opacity="0.06"/>
<rect x="188.4" y="484.4" width="120" height="0.9" fill="#ffffff" opacity="0.08"/>
<rect x="188.4" y="485.3" width="120" height="0.7" fill="#ffffff" opacity="0.22"/>
<rect x="188.4" y="486" width="120" height="1.2" fill="#ffffff" opacity="0.09"/>
<rect x="188.4" y="487.9" width="120" height="0.9" fill="#ffffff" opacity="0.23"/>
<rect x="188.4" y="488.8" width="120" height="1.2" fill="#ffffff" opacity="0.25"/>
<rect x="188.4" y="490" width="120" height="0.9" fill="#4a8ccc" opacity="0.06"/>
<rect x="188.4" y="491.6" width="120" height="0.5" fill="#ffffff" opacity="0.14"/>
<rect x="188.4" y="492.1" width="120" height="0.9" fill="#ffffff" opacity="0.11"/>
<rect x="188.4" y="493" width="120" height="1.2" fill="#ffffff" opacity="0.15"/>
<rect x="188.4" y="495.4" width="120" height="0.5" fill="#4a8ccc" opacity="0.03"/>
<rect x="188.4" y="495.9" width="120" height="0.5" fill="#ffffff" opacity="0.18"/>
<rect x="188.4" y="496.4" width="120" height="0.7" fill="#4a8ccc" opacity="0.05"/>
<rect x="188.4" y="497.1" width="120" height="0.5" fill="#ffffff" opacity="0.26"/>
<rect x="188.4" y="498.6" width="120" height="0.7" fill="#4a8ccc" opacity="0.02"/>
<rect x="188.4" y="499.3" width="120" height="0.7" fill="#4a8ccc" opacity="0.02"/>
<rect x="188.4" y="500" width="120" height="0.5" fill="#4a8ccc" opacity="0.06"/>
<rect x="188.4" y="500.5" width="120" height="0.5" fill="#ffffff" opacity="0.12"/>
<rect x="188.4" y="501" width="120" height="0.7" fill="#4a8ccc" opacity="0.03"/>
<rect x="188.4" y="501.7" width="120" height="0.7" fill="#ffffff" opacity="0.13"/>
<rect x="188.4" y="502.4" width="120" height="0.5" fill="#ffffff" opacity="0.09"/>
<rect x="188.4" y="502.9" width="120" height="0.9" fill="#ffffff" opacity="0.15"/>
<rect x="188.4" y="503.8" width="120" height="0.5" fill="#4a8ccc" opacity="0.04"/>
<rect x="188.4" y="504.3" width="120" height="0.9" fill="#4a8ccc" opacity="0.06"/>
<rect x="188.4" y="505.2" width="120" height="0.9" fill="#4a8ccc" opacity="0.03"/>
<rect x="188.4" y="506.1" width="120" height="1.2" fill="#4a8ccc" opacity="0.02"/>
<rect x="188.4" y="509.2" width="120" height="0.5" fill="#ffffff" opacity="0.18"/>
<rect x="188.4" y="509.7" width="120" height="0.9" fill="#4a8ccc" opacity="0.05"/>
<rect x="188.4" y="511.3" width="120" height="0.5" fill="#ffffff" opacity="0.20"/>
<rect x="188.4" y="512.3" width="120" height="0.5" fill="#4a8ccc" opacity="0.04"/>
<rect x="188.4" y="512.8" width="120" height="1.2" fill="#4a8ccc" opacity="0.03"/>
<rect x="188.4" y="514" width="120" height="0.5" fill="#4a8ccc" opacity="0.04"/>
<rect x="188.4" y="514.5" width="120" height="1.2" fill="#4a8ccc" opacity="0.04"/>
<rect x="188.4" y="515.7" width="120" height="1.2" fill="#ffffff" opacity="0.21"/>
<rect x="188.4" y="516.9" width="120" height="1.2" fill="#4a8ccc" opacity="0.02"/>
<rect x="188.4" y="518.1" width="120" height="0.9" fill="#4a8ccc" opacity="0.04"/>
<rect x="188.4" y="519" width="120" height="0.9" fill="#ffffff" opacity="0.24"/>
<rect x="188.4" y="520.6" width="120" height="0.9" fill="#ffffff" opacity="0.25"/>
<rect x="188.4" y="521.5" width="120" height="0.9" fill="#4a8ccc" opacity="0.03"/>
<rect x="188.4" y="523.6" width="120" height="0.9" fill="#4a8ccc" opacity="0.04"/>
<rect x="188.4" y="524.5" width="120" height="0.9" fill="#ffffff" opacity="0.11"/>
<rect x="188.4" y="525.4" width="120" height="1.2" fill="#ffffff" opacity="0.27"/>
<rect x="188.4" y="526.6" width="120" height="0.5" fill="#ffffff" opacity="0.15"/>
<rect x="188.4" y="527.1" width="120" height="1.2" fill="#ffffff" opacity="0.11"/>
<rect x="188.4" y="528.3" width="120" height="0.9" fill="#4a8ccc" opacity="0.03"/>
<rect x="188.4" y="529.2" width="120" height="0.9" fill="#4a8ccc" opacity="0.02"/>
<rect x="188.4" y="530.1" width="120" height="1.2" fill="#ffffff" opacity="0.17"/>
<rect x="188.4" y="531.3" width="120" height="0.5" fill="#4a8ccc" opacity="0.03"/>
<rect x="188.4" y="532.5" width="120" height="0.7" fill="#ffffff" opacity="0.11"/>
<rect x="188.4" y="533.2" width="120" height="1.2" fill="#4a8ccc" opacity="0.02"/>
<rect x="188.4" y="534.4" width="120" height="0.9" fill="#4a8ccc" opacity="0.05"/>
<rect x="188.4" y="535.3" width="120" height="0.9" fill="#ffffff" opacity="0.12"/>
<rect x="188.4" y="536.2" width="120" height="0.9" fill="#ffffff" opacity="0.12"/>
<rect x="188.4" y="538" width="120" height="0.9" fill="#ffffff" opacity="0.25"/>
<rect x="188.4" y="538.9" width="120" height="0.5" fill="#4a8ccc" opacity="0.03"/>
<rect x="188.4" y="539.4" width="120" height="0.5" fill="#ffffff" opacity="0.16"/>
<rect x="188.4" y="539.9" width="120" height="0.9" fill="#4a8ccc" opacity="0.03"/>
<rect x="188.4" y="540.8" width="120" height="0.5" fill="#4a8ccc" opacity="0.03"/>
<rect x="188.4" y="541.3" width="120" height="0.5" fill="#4a8ccc" opacity="0.02"/>
<rect x="188.4" y="541.8" width="120" height="1.2" fill="#4a8ccc" opacity="0.04"/>
<rect x="188.4" y="543" width="120" height="0.9" fill="#4a8ccc" opacity="0.03"/>
<rect x="188.4" y="545.3" width="120" height="0.9" fill="#ffffff" opacity="0.12"/>
<rect x="188.4" y="546.2" width="120" height="0.5" fill="#ffffff" opacity="0.17"/>
<rect x="188.4" y="546.7" width="120" height="1.2" fill="#4a8ccc" opacity="0.03"/>
<rect x="188.4" y="547.9" width="120" height="0.5" fill="#ffffff" opacity="0.19"/>
<rect x="188.4" y="548.4" width="120" height="1.2" fill="#4a8ccc" opacity="0.03"/>
<rect x="188.4" y="549.6" width="120" height="1.2" fill="#ffffff" opacity="0.09"/>
<rect x="188.4" y="550.8" width="120" height="1.2" fill="#4a8ccc" opacity="0.03"/>
<rect x="188.4" y="552" width="120" height="0.5" fill="#4a8ccc" opacity="0.04"/>
<rect x="188.4" y="552.5" width="120" height="1.2" fill="#4a8ccc" opacity="0.05"/>
<rect x="188.4" y="553.7" width="120" height="0.9" fill="#4a8ccc" opacity="0.04"/>
<rect x="188.4" y="554.6" width="120" height="1.2" fill="#ffffff" opacity="0.12"/>
<rect x="188.4" y="555.8" width="120" height="0.5" fill="#4a8ccc" opacity="0.01"/>
<rect x="188.4" y="556.3" width="120" height="1.2" fill="#ffffff" opacity="0.23"/>
<rect x="188.4" y="557.5" width="120" height="1.2" fill="#ffffff" opacity="0.22"/>
<rect x="188.4" y="558.7" width="120" height="0.9" fill="#4a8ccc" opacity="0.01"/>
<rect x="188.4" y="562" width="120" height="0.7" fill="#ffffff" opacity="0.12"/>
<rect x="188.4" y="562.7" width="120" height="0.5" fill="#ffffff" opacity="0.19"/>
<rect x="188.4" y="563.2" width="120" height="0.9" fill="#ffffff" opacity="0.16"/>
<rect x="188.4" y="564.1" width="120" height="0.9" fill="#4a8ccc" opacity="0.03"/>
<rect x="188.4" y="565" width="120" height="1.2" fill="#4a8ccc" opacity="0.02"/>
<rect x="188.4" y="568.1" width="120" height="0.9" fill="#ffffff" opacity="0.11"/>
<rect x="188.4" y="569" width="120" height="0.7" fill="#4a8ccc" opacity="0.02"/>
<rect x="188.4" y="569.7" width="120" height="1.2" fill="#4a8ccc" opacity="0.03"/>
<rect x="188.4" y="570.9" width="120" height="0.7" fill="#4a8ccc" opacity="0.04"/>
<rect x="188.4" y="571.6" width="120" height="0.7" fill="#4a8ccc" opacity="0.03"/>
<rect x="188.4" y="572.3" width="120" height="0.5" fill="#4a8ccc" opacity="0.01"/>
<rect x="188.4" y="572.8" width="120" height="0.5" fill="#4a8ccc" opacity="0.03"/>
<rect x="188.4" y="573.3" width="120" height="0.9" fill="#ffffff" opacity="0.12"/>
<rect x="188.4" y="574.2" width="120" height="1.2" fill="#ffffff" opacity="0.22"/>
<rect x="188.4" y="575.4" width="120" height="1.2" fill="#4a8ccc" opacity="0.03"/>
<rect x="188.4" y="577.3" width="120" height="0.5" fill="#ffffff" opacity="0.25"/>
<rect x="188.4" y="577.8" width="120" height="0.5" fill="#ffffff" opacity="0.25"/>
<rect x="188.4" y="578.8" width="120" height="1.2" fill="#ffffff" opacity="0.26"/>
<rect x="188.4" y="580" width="120" height="0.7" fill="#4a8ccc" opacity="0.03"/>
<rect x="188.4" y="581.6" width="120" height="0.7" fill="#ffffff" opacity="0.26"/>
<rect x="188.4" y="582.3" width="120" height="0.7" fill="#4a8ccc" opacity="0.02"/>
<rect x="188.4" y="583.7" width="120" height="0.5" fill="#4a8ccc" opacity="0.03"/>
<rect x="188.4" y="584.2" width="120" height="0.9" fill="#4a8ccc" opacity="0.02"/>
<rect x="188.4" y="585.1" width="120" height="1.2" fill="#ffffff" opacity="0.09"/>
<rect x="188.4" y="586.3" width="120" height="0.7" fill="#ffffff" opacity="0.25"/>
<rect x="188.4" y="587.9" width="120" height="0.9" fill="#4a8ccc" opacity="0.03"/>
<rect x="188.4" y="589.7" width="120" height="0.9" fill="#4a8ccc" opacity="0.02"/>
<rect x="188.4" y="590.6" width="120" height="0.7" fill="#4a8ccc" opacity="0.01"/>
<rect x="188.4" y="591.3" width="120" height="1.2" fill="#ffffff" opacity="0.14"/>
<rect x="188.4" y="592.5" width="120" height="0.5" fill="#ffffff" opacity="0.11"/>
<rect x="188.4" y="593" width="120" height="0.7" fill="#4a8ccc" opacity="0.03"/>
<rect x="188.4" y="593.7" width="120" height="0.5" fill="#ffffff" opacity="0.15"/>
<rect x="188.4" y="594.9" width="120" height="0.5" fill="#ffffff" opacity="0.15"/>
<rect x="188.4" y="596.6" width="120" height="0.5" fill="#ffffff" opacity="0.14"/>
<rect x="188.4" y="597.1" width="120" height="0.9" fill="#4a8ccc" opacity="0.02"/>
<rect x="188.4" y="598" width="120" height="0.5" fill="#ffffff" opacity="0.17"/>
<rect x="188.4" y="598.5" width="120" height="0.7" fill="#4a8ccc" opacity="0.02"/>
<rect x="188.4" y="599.7" width="120" height="0.9" fill="#ffffff" opacity="0.11"/>
<rect x="188.4" y="600.6" width="120" height="0.9" fill="#ffffff" opacity="0.15"/>
<rect x="188.4" y="601.5" width="120" height="1.2" fill="#4a8ccc" opacity="0.02"/>
<rect x="188.4" y="602.7" width="120" height="0.9" fill="#ffffff" opacity="0.24"/>
<rect x="188.4" y="604.5" width="120" height="1.2" fill="#ffffff" opacity="0.19"/>
<rect x="188.4" y="605.7" width="120" height="0.7" fill="#4a8ccc" opacity="0.02"/>
<rect x="188.4" y="606.4" width="120" height="0.5" fill="#ffffff" opacity="0.20"/>
<rect x="188.4" y="606.9" width="120" height="1.2" fill="#4a8ccc" opacity="0.01"/>
<rect x="188.4" y="608.1" width="120" height="0.9" fill="#ffffff" opacity="0.23"/>
<rect x="188.4" y="609" width="120" height="0.7" fill="#4a8ccc" opacity="0.02"/>
<rect x="188.4" y="609.7" width="120" height="0.5" fill="#ffffff" opacity="0.25"/>
<rect x="188.4" y="610.2" width="120" height="1.2" fill="#ffffff" opacity="0.13"/>
<rect x="188.4" y="611.9" width="120" height="0.5" fill="#ffffff" opacity="0.13"/>
<rect x="188.4" y="612.4" width="120" height="0.5" fill="#ffffff" opacity="0.13"/>
<rect x="188.4" y="612.9" width="120" height="0.5" fill="#4a8ccc" opacity="0.02"/>
<rect x="188.4" y="613.4" width="120" height="0.7" fill="#ffffff" opacity="0.19"/>
<rect x="188.4" y="615.5" width="120" height="0.5" fill="#ffffff" opacity="0.09"/>
<rect x="188.4" y="616" width="120" height="0.7" fill="#4a8ccc" opacity="0.01"/>
<rect x="188.4" y="616.7" width="120" height="0.7" fill="#ffffff" opacity="0.13"/>
<rect x="188.4" y="617.4" width="120" height="0.5" fill="#4a8ccc" opacity="0.02"/>
<rect x="188.4" y="617.9" width="120" height="0.5" fill="#ffffff" opacity="0.26"/>
<rect x="188.4" y="618.4" width="120" height="0.5" fill="#4a8ccc" opacity="0.01"/>
<rect x="188.4" y="618.9" width="120" height="0.7" fill="#4a8ccc" opacity="0.03"/>
<rect x="188.4" y="620.1" width="120" height="0.5" fill="#4a8ccc" opacity="0.03"/>
<rect x="188.4" y="620.6" width="120" height="0.5" fill="#ffffff" opacity="0.23"/>
<rect x="188.4" y="621.8" width="120" height="0.9" fill="#ffffff" opacity="0.23"/>
<rect x="188.4" y="622.7" width="120" height="0.7" fill="#ffffff" opacity="0.27"/>
<rect x="188.4" y="624.6" width="120" height="0.5" fill="#ffffff" opacity="0.13"/>
<rect x="188.4" y="625.1" width="120" height="0.7" fill="#ffffff" opacity="0.15"/>
<rect x="188.4" y="625.8" width="120" height="0.7" fill="#ffffff" opacity="0.26"/>
<rect x="188.4" y="626.5" width="120" height="0.9" fill="#4a8ccc" opacity="0.01"/>
<rect x="188.4" y="627.9" width="120" height="1.2" fill="#ffffff" opacity="0.19"/>
<rect x="188.4" y="630" width="120" height="0.5" fill="#ffffff" opacity="0.21"/>
<rect x="188.4" y="631.4" width="120" height="0.5" fill="#4a8ccc" opacity="0.03"/>
<rect x="188.4" y="632.6" width="120" height="1.2" fill="#4a8ccc" opacity="0.02"/>
<g filter="url(#hb2)">
<path d="M213.3 246.3 L217.2 290 L223.44 340 L230.46 420 L235.72 500 L239.24 591.6 L257.56 591.6 L261.07 500 L266.34 420 L273.36 340 L279.6 290 L283.5 246.3 Z" fill="url(#cgR0)" opacity="0.35"/>
<path d="M221.4 246.3 L224.4 290 L229.2 340 L234.6 420 L238.65 500 L241.35 591.6 L255.45 591.6 L258.15 500 L262.2 420 L267.6 340 L272.4 290 L275.4 246.3 Z" fill="url(#cgR1)" opacity="0.5"/>
<path d="M228.24 246.3 L230.48 290 L234.06 340 L238.1 420 L241.12 500 L243.14 591.6 L253.66 591.6 L255.68 500 L258.7 420 L262.74 340 L266.32 290 L268.56 246.3 Z" fill="url(#cgR2)" opacity="0.66"/>
<path d="M233.64 246.3 L235.28 290 L237.9 340 L240.86 420 L243.07 500 L244.55 591.6 L252.25 591.6 L253.73 500 L255.94 420 L258.9 340 L261.52 290 L263.16 246.3 Z" fill="url(#cgR3)" opacity="0.8"/>
<path d="M238.32 246.3 L239.44 290 L241.23 340 L243.25 420 L244.76 500 L245.77 591.6 L251.03 591.6 L252.04 500 L253.55 420 L255.57 340 L257.36 290 L258.48 246.3 Z" fill="url(#cgR4)" opacity="0.86"/>
<path d="M242.28 246.3 L242.96 290 L244.05 340 L245.27 420 L246.19 500 L246.8 591.6 L250 591.6 L250.61 500 L251.53 420 L252.75 340 L253.84 290 L254.52 246.3 Z" fill="url(#cgR5)" opacity="0.9"/>
</g>
<g filter="url(#hb3)">
<rect x="229.09" y="250.3" width="42.76" height="0.7" fill="#ffffff" opacity="0.14"/>
<rect x="235.72" y="252.77" width="28.33" height="1" fill="#08306b" opacity="0.31"/>
<rect x="230.36" y="256.92" width="42.03" height="0.7" fill="#ffffff" opacity="0.24"/>
<rect x="228.39" y="258.52" width="41.86" height="0.7" fill="#ffffff" opacity="0.19"/>
<rect x="227.13" y="271.84" width="40.39" height="0.7" fill="#ffffff" opacity="0.17"/>
<rect x="225.94" y="272.58" width="40.31" height="1" fill="#ffffff" opacity="0.22"/>
<rect x="232.43" y="274.11" width="26.76" height="1.4" fill="#08306b" opacity="0.15"/>
<rect x="232.4" y="277.59" width="26.51" height="0.7" fill="#08306b" opacity="0.30"/>
<rect x="233.4" y="279.02" width="26.4" height="1" fill="#08306b" opacity="0.29"/>
<rect x="231.96" y="280.97" width="39.39" height="1.4" fill="#ffffff" opacity="0.11"/>
<rect x="239.65" y="287.42" width="25.79" height="1.4" fill="#08306b" opacity="0.30"/>
<rect x="233.96" y="289.62" width="25.63" height="0.7" fill="#08306b" opacity="0.16"/>
<rect x="240.31" y="294.32" width="25.16" height="1" fill="#08306b" opacity="0.11"/>
<rect x="228.54" y="296.32" width="37.43" height="1.4" fill="#ffffff" opacity="0.14"/>
<rect x="231.5" y="299.07" width="24.67" height="1" fill="#08306b" opacity="0.31"/>
<rect x="236.84" y="300.4" width="24.54" height="0.7" fill="#08306b" opacity="0.11"/>
<rect x="240.61" y="301.57" width="24.42" height="1.4" fill="#08306b" opacity="0.24"/>
<rect x="230.66" y="303.26" width="36.36" height="1.4" fill="#ffffff" opacity="0.16"/>
<rect x="232.53" y="308.53" width="23.7" height="1.4" fill="#08306b" opacity="0.22"/>
<rect x="239.99" y="311" width="23.45" height="0.7" fill="#08306b" opacity="0.14"/>
<rect x="240.74" y="315.82" width="22.96" height="1" fill="#08306b" opacity="0.14"/>
<rect x="238.55" y="317.21" width="22.81" height="1" fill="#08306b" opacity="0.18"/>
<rect x="228.88" y="318.59" width="34.01" height="1" fill="#ffffff" opacity="0.26"/>
<rect x="231.92" y="321.51" width="33.56" height="0.7" fill="#ffffff" opacity="0.21"/>
<rect x="235.62" y="324.66" width="22.05" height="1" fill="#08306b" opacity="0.24"/>
<rect x="234.65" y="325.97" width="32.87" height="0.7" fill="#ffffff" opacity="0.19"/>
<rect x="229.95" y="327.1" width="32.7" height="1" fill="#ffffff" opacity="0.09"/>
<rect x="240.36" y="336.37" width="20.85" height="1" fill="#08306b" opacity="0.18"/>
<rect x="238.2" y="337.6" width="20.73" height="0.7" fill="#08306b" opacity="0.25"/>
<rect x="234.39" y="339.38" width="30.82" height="0.7" fill="#ffffff" opacity="0.26"/>
<rect x="234.87" y="341.55" width="30.55" height="1" fill="#ffffff" opacity="0.24"/>
<rect x="234.52" y="343.37" width="30.36" height="0.7" fill="#ffffff" opacity="0.23"/>
<rect x="236.81" y="346.65" width="20" height="1.4" fill="#08306b" opacity="0.24"/>
<rect x="237.57" y="352.31" width="19.59" height="0.7" fill="#08306b" opacity="0.23"/>
<rect x="240.12" y="354.08" width="19.47" height="0.7" fill="#08306b" opacity="0.12"/>
<rect x="233.59" y="355.79" width="29.02" height="1" fill="#ffffff" opacity="0.23"/>
<rect x="233.58" y="357.32" width="28.85" height="1.4" fill="#ffffff" opacity="0.19"/>
<rect x="238.64" y="359.69" width="19.06" height="0.7" fill="#08306b" opacity="0.21"/>
<rect x="235.74" y="364.43" width="18.72" height="1.4" fill="#08306b" opacity="0.27"/>
<rect x="233.56" y="365.86" width="27.93" height="1.4" fill="#ffffff" opacity="0.27"/>
<rect x="238.46" y="367.59" width="18.49" height="0.7" fill="#08306b" opacity="0.21"/>
<rect x="234.26" y="374.79" width="26.96" height="1.4" fill="#ffffff" opacity="0.14"/>
<rect x="239.22" y="384.31" width="17.29" height="0.7" fill="#08306b" opacity="0.28"/>
<rect x="238.69" y="387.6" width="17.05" height="0.7" fill="#08306b" opacity="0.18"/>
<rect x="234.73" y="388.43" width="25.49" height="1.4" fill="#ffffff" opacity="0.26"/>
<rect x="234.66" y="398" width="24.46" height="1" fill="#ffffff" opacity="0.08"/>
<rect x="238.19" y="400.09" width="24.23" height="1.4" fill="#ffffff" opacity="0.18"/>
<rect x="242.28" y="402.42" width="15.99" height="1.4" fill="#08306b" opacity="0.29"/>
<rect x="237.85" y="403.98" width="23.81" height="0.7" fill="#ffffff" opacity="0.19"/>
<rect x="237.78" y="404.71" width="15.82" height="0.7" fill="#08306b" opacity="0.30"/>
<rect x="241.4" y="407.43" width="15.63" height="1" fill="#08306b" opacity="0.15"/>
<rect x="238.33" y="408.72" width="15.53" height="1" fill="#08306b" opacity="0.23"/>
<rect x="241.09" y="409.87" width="15.45" height="0.7" fill="#08306b" opacity="0.30"/>
<rect x="237.86" y="413.26" width="22.81" height="1" fill="#ffffff" opacity="0.25"/>
<rect x="237.21" y="417.41" width="22.36" height="0.7" fill="#ffffff" opacity="0.16"/>
<rect x="237.67" y="418.95" width="22.19" height="0.7" fill="#ffffff" opacity="0.23"/>
<rect x="237.41" y="425.62" width="21.62" height="1" fill="#ffffff" opacity="0.18"/>
<rect x="235.76" y="427.77" width="21.45" height="1.4" fill="#ffffff" opacity="0.19"/>
<rect x="239.29" y="429.91" width="21.28" height="1" fill="#ffffff" opacity="0.26"/>
<rect x="235.36" y="432.01" width="21.11" height="0.7" fill="#ffffff" opacity="0.21"/>
<rect x="238.94" y="436.61" width="13.82" height="1" fill="#08306b" opacity="0.26"/>
<rect x="237" y="443.59" width="20.17" height="0.7" fill="#ffffff" opacity="0.26"/>
<rect x="240.74" y="445.47" width="13.34" height="0.7" fill="#08306b" opacity="0.27"/>
<rect x="240.93" y="446.35" width="13.3" height="1.4" fill="#08306b" opacity="0.14"/>
<rect x="239.44" y="447.84" width="19.82" height="0.7" fill="#ffffff" opacity="0.20"/>
<rect x="240.7" y="453.25" width="19.39" height="1.4" fill="#ffffff" opacity="0.24"/>
<rect x="238.63" y="457.99" width="19" height="1" fill="#ffffff" opacity="0.28"/>
<rect x="237.89" y="461.97" width="18.68" height="1" fill="#ffffff" opacity="0.16"/>
<rect x="241.54" y="463" width="12.4" height="0.7" fill="#08306b" opacity="0.28"/>
<rect x="240.8" y="465.04" width="18.43" height="0.7" fill="#ffffff" opacity="0.17"/>
<rect x="244.42" y="466.14" width="12.23" height="0.7" fill="#08306b" opacity="0.14"/>
<rect x="240.59" y="471.49" width="17.91" height="0.7" fill="#ffffff" opacity="0.26"/>
<rect x="241.29" y="477.7" width="17.41" height="0.7" fill="#ffffff" opacity="0.21"/>
<rect x="239.38" y="481.33" width="17.11" height="1.4" fill="#ffffff" opacity="0.10"/>
<rect x="239.35" y="483.61" width="16.93" height="1.4" fill="#ffffff" opacity="0.11"/>
<rect x="238.42" y="487.2" width="16.64" height="1" fill="#ffffff" opacity="0.14"/>
<rect x="242.16" y="488.69" width="16.52" height="1.4" fill="#ffffff" opacity="0.26"/>
<rect x="244.32" y="491.12" width="10.88" height="1" fill="#08306b" opacity="0.11"/>
<rect x="239.15" y="493.11" width="16.16" height="0.7" fill="#ffffff" opacity="0.15"/>
<rect x="239.12" y="494.22" width="16.07" height="1.4" fill="#ffffff" opacity="0.26"/>
<rect x="238.91" y="497.52" width="15.8" height="0.7" fill="#ffffff" opacity="0.28"/>
<rect x="240.88" y="498.68" width="15.71" height="1.4" fill="#ffffff" opacity="0.09"/>
<rect x="241.99" y="502.59" width="10.32" height="1" fill="#08306b" opacity="0.18"/>
<rect x="243.36" y="504.48" width="10.26" height="1" fill="#08306b" opacity="0.12"/>
<rect x="240.28" y="505.78" width="15.33" height="0.7" fill="#ffffff" opacity="0.23"/>
<rect x="240.38" y="510.21" width="15.12" height="0.7" fill="#ffffff" opacity="0.15"/>
<rect x="241.93" y="511.25" width="10.05" height="1" fill="#08306b" opacity="0.20"/>
<rect x="243.35" y="513.1" width="9.99" height="0.7" fill="#08306b" opacity="0.30"/>
<rect x="242.01" y="514.9" width="9.93" height="1" fill="#08306b" opacity="0.11"/>
<rect x="240.39" y="516.33" width="14.83" height="1" fill="#ffffff" opacity="0.09"/>
<rect x="242.7" y="519.98" width="14.66" height="1" fill="#ffffff" opacity="0.18"/>
<rect x="242.86" y="521.27" width="9.73" height="0.7" fill="#08306b" opacity="0.12"/>
<rect x="242.47" y="526.38" width="9.57" height="1" fill="#08306b" opacity="0.10"/>
<rect x="242.74" y="530.39" width="9.44" height="0.7" fill="#08306b" opacity="0.21"/>
<rect x="243.3" y="531.82" width="9.4" height="1.4" fill="#08306b" opacity="0.30"/>
<rect x="240.48" y="536.64" width="13.87" height="1.4" fill="#ffffff" opacity="0.09"/>
<rect x="243.79" y="541.16" width="9.11" height="0.7" fill="#08306b" opacity="0.11"/>
<rect x="245.54" y="542.3" width="9.07" height="1.4" fill="#08306b" opacity="0.24"/>
<rect x="243.33" y="543.96" width="13.53" height="1" fill="#ffffff" opacity="0.17"/>
<rect x="240.58" y="545.24" width="13.47" height="1" fill="#ffffff" opacity="0.16"/>
<rect x="242.81" y="547.09" width="8.92" height="1.4" fill="#08306b" opacity="0.28"/>
<rect x="241.55" y="552.14" width="13.14" height="0.7" fill="#ffffff" opacity="0.26"/>
<rect x="245.31" y="554.04" width="8.7" height="0.7" fill="#08306b" opacity="0.11"/>
<rect x="242.94" y="555.02" width="13" height="0.7" fill="#ffffff" opacity="0.24"/>
<rect x="242.84" y="560.71" width="12.74" height="1" fill="#ffffff" opacity="0.12"/>
<rect x="245.28" y="561.88" width="8.45" height="0.7" fill="#08306b" opacity="0.28"/>
<rect x="244.03" y="563.36" width="8.41" height="1.4" fill="#08306b" opacity="0.21"/>
<rect x="244.55" y="567.95" width="8.26" height="0.7" fill="#08306b" opacity="0.16"/>
<rect x="243.26" y="571.01" width="12.25" height="1.4" fill="#ffffff" opacity="0.22"/>
<rect x="244.86" y="572.47" width="8.12" height="1.4" fill="#08306b" opacity="0.28"/>
<rect x="245.15" y="573.89" width="8.08" height="1" fill="#08306b" opacity="0.31"/>
<rect x="243.83" y="577.23" width="11.96" height="1" fill="#ffffff" opacity="0.19"/>
<rect x="244.45" y="580.3" width="7.88" height="1" fill="#08306b" opacity="0.18"/>
<rect x="241.86" y="582.49" width="11.71" height="1.4" fill="#ffffff" opacity="0.09"/>
<rect x="243.21" y="589.42" width="11.38" height="1.4" fill="#ffffff" opacity="0.11"/>
</g>
<g fill="#6ea8d8" filter="url(#hb3)">
<rect x="246.3" y="591.6" width="4.2" height="31.3" opacity="0.3"/>
<rect x="244.2" y="591.6" width="8.4" height="31.3" opacity="0.22"/>
</g>
<g fill="#1a5fae" filter="url(#hb3)">
<rect x="245.65" y="622.9" width="5.5" height="13.7" opacity="0.45"/>
<rect x="242.9" y="622.9" width="11" height="13.7" opacity="0.35"/>
<rect x="239.6" y="622.9" width="17.6" height="13.7" opacity="0.25"/>
</g>
</g>
<rect x="187.4" y="249.3" width="122" height="385.3" fill="none" stroke="#0a0a0a" stroke-width="2.5"/>
<line x1="186.4" y1="591.9" x2="310.4" y2="591.9" stroke="#0a0a0a" stroke-width="4.2" />
<line x1="188.4" y1="591.9" x2="308.4" y2="591.9" stroke="#666" stroke-width="0.8" />
<line x1="186.4" y1="622.9" x2="310.4" y2="622.9" stroke="#0a0a0a" stroke-width="4.2" />
<line x1="188.4" y1="622.9" x2="308.4" y2="622.9" stroke="#666" stroke-width="0.8" />
<line x1="187.4" y1="633.6" x2="187.4" y2="637.4" stroke="#111" stroke-width="1.8" />
<line x1="248.4" y1="633.6" x2="248.4" y2="637.4" stroke="#111" stroke-width="1.8" />
<line x1="309.4" y1="633.6" x2="309.4" y2="637.4" stroke="#111" stroke-width="1.8" />
<rect x="39.1" y="249" width="6" height="385" fill="url(#cbar)" stroke="#111" stroke-width="2"/>
<line x1="35.8" y1="273.8" x2="38.6" y2="273.8" stroke="#111" stroke-width="1.4" />
<line x1="35.8" y1="333.7" x2="38.6" y2="333.7" stroke="#111" stroke-width="1.4" />
<line x1="35.8" y1="393.6" x2="38.6" y2="393.6" stroke="#111" stroke-width="1.4" />
<line x1="35.8" y1="454.3" x2="38.6" y2="454.3" stroke="#111" stroke-width="1.4" />
<line x1="35.8" y1="514.5" x2="38.6" y2="514.5" stroke="#111" stroke-width="1.4" />
<line x1="35.8" y1="574.5" x2="38.6" y2="574.5" stroke="#111" stroke-width="1.4" />
<line x1="35.8" y1="633.5" x2="38.6" y2="633.5" stroke="#111" stroke-width="1.4" />
<line x1="99" y1="64.4" x2="259.8" y2="64.4" stroke="#111" stroke-width="2.5" />
<rect x="55.2" y="126.4" width="122.1" height="113.2" fill="none" stroke="#111" stroke-width="2.4"/>
<line x1="55.2" y1="239.6" x2="55.2" y2="242.2" stroke="#111" stroke-width="1.8" />
<line x1="116.25" y1="239.6" x2="116.25" y2="242.2" stroke="#111" stroke-width="1.8" />
<line x1="177.3" y1="239.6" x2="177.3" y2="242.2" stroke="#111" stroke-width="1.8" />
<line x1="51.4" y1="137" x2="55.2" y2="137" stroke="#111" stroke-width="1.6" />
<line x1="51.4" y1="155.8" x2="55.2" y2="155.8" stroke="#111" stroke-width="1.6" />
<line x1="51.4" y1="174" x2="55.2" y2="174" stroke="#111" stroke-width="1.6" />
<line x1="51.4" y1="192.3" x2="55.2" y2="192.3" stroke="#111" stroke-width="1.6" />
<line x1="51.4" y1="210.2" x2="55.2" y2="210.2" stroke="#111" stroke-width="1.6" />
<line x1="51.4" y1="228" x2="55.2" y2="228" stroke="#111" stroke-width="1.6" />
<rect x="187.3" y="126.4" width="122.3" height="113.2" fill="none" stroke="#111" stroke-width="2.4"/>
<line x1="187.3" y1="239.6" x2="187.3" y2="242.2" stroke="#111" stroke-width="1.8" />
<line x1="248.45" y1="239.6" x2="248.45" y2="242.2" stroke="#111" stroke-width="1.8" />
<line x1="309.6" y1="239.6" x2="309.6" y2="242.2" stroke="#111" stroke-width="1.8" />
<line x1="183.5" y1="137" x2="187.3" y2="137" stroke="#111" stroke-width="1.6" />
<line x1="183.5" y1="155.8" x2="187.3" y2="155.8" stroke="#111" stroke-width="1.6" />
<line x1="183.5" y1="174" x2="187.3" y2="174" stroke="#111" stroke-width="1.6" />
<line x1="183.5" y1="192.3" x2="187.3" y2="192.3" stroke="#111" stroke-width="1.6" />
<line x1="183.5" y1="210.2" x2="187.3" y2="210.2" stroke="#111" stroke-width="1.6" />
<line x1="183.5" y1="228" x2="187.3" y2="228" stroke="#111" stroke-width="1.6" />
<path d="M56.4 232.7 L57.2 232.71 L58 232.72 L58.79 232.73 L59.59 232.75 L60.39 232.76 L61.19 232.78 L61.99 232.81 L62.78 232.83 L63.58 232.86 L64.38 232.88 L65.18 232.91 L65.98 232.94 L66.77 232.98 L67.57 233.01 L68.37 233.04 L69.17 233.08 L69.97 233.11 L70.76 233.15 L71.56 233.18 L72.36 233.22 L73.16 233.25 L73.96 233.28 L74.75 233.32 L75.55 233.35 L76.35 233.38 L77.15 233.4 L77.95 233.43 L78.74 233.45 L79.54 233.47 L80.34 233.49 L81.14 233.5 L81.94 233.51 L82.73 233.51 L83.53 233.51 L84.33 233.5 L85.13 233.49 L85.93 233.46 L86.72 233.43 L87.52 233.39 L88.32 233.34 L89.12 233.27 L89.92 233.19 L90.71 233.1 L91.51 232.99 L92.31 232.86 L93.11 232.71 L93.91 232.54 L94.7 232.34 L95.5 232.12 L96.3 231.86 L97.1 231.57 L97.9 231.23 L98.69 230.86 L99.49 230.43 L100.29 229.95 L101.09 229.41 L101.89 228.79 L102.68 228.1 L103.48 227.32 L104.28 226.43 L105.08 225.43 L105.88 224.3 L106.67 223.02 L107.47 221.58 L108.27 219.95 L109.07 218.1 L109.87 216.01 L110.66 213.65 L111.46 210.98 L112.26 207.96 L113.06 204.55 L113.86 200.68 L114.65 196.3 L115.45 191.34 L116.25 186.47 L117.05 192 L117.85 196.88 L118.64 201.19 L119.44 205 L120.24 208.37 L121.04 211.34 L121.84 213.97 L122.63 216.29 L123.43 218.35 L124.23 220.16 L125.03 221.77 L125.83 223.19 L126.62 224.45 L127.42 225.56 L128.22 226.54 L129.02 227.42 L129.82 228.19 L130.61 228.87 L131.41 229.47 L132.21 230.01 L133.01 230.48 L133.81 230.9 L134.6 231.27 L135.4 231.6 L136.2 231.89 L137 232.14 L137.8 232.36 L138.59 232.56 L139.39 232.73 L140.19 232.88 L140.99 233.01 L141.79 233.12 L142.58 233.22 L143.38 233.3 L144.18 233.38 L144.98 233.44 L145.78 233.49 L146.57 233.53 L147.37 233.56 L148.17 233.59 L148.97 233.61 L149.77 233.63 L150.56 233.64 L151.36 233.65 L152.16 233.65 L152.96 233.65 L153.76 233.65 L154.55 233.64 L155.35 233.63 L156.15 233.62 L156.95 233.61 L157.75 233.6 L158.54 233.59 L159.34 233.57 L160.14 233.55 L160.94 233.54 L161.74 233.52 L162.53 233.5 L163.33 233.49 L164.13 233.47 L164.93 233.45 L165.73 233.43 L166.52 233.42 L167.32 233.4 L168.12 233.39 L168.92 233.37 L169.72 233.36 L170.51 233.35 L171.31 233.34 L172.11 233.33 L172.91 233.32 L173.71 233.31 L174.5 233.3 L175.3 233.3 L176.1 233.3" fill="none" stroke="#1fb587" stroke-width="2.6" stroke-linejoin="round"/>
<path d="M56.4 228.94 L57.2 229 L58 229.09 L58.79 229.18 L59.59 229.29 L60.39 229.41 L61.19 229.53 L61.99 229.66 L62.78 229.78 L63.58 229.89 L64.38 229.99 L65.18 230.07 L65.98 230.14 L66.77 230.18 L67.57 230.2 L68.37 230.21 L69.17 230.25 L69.97 230.31 L70.76 230.39 L71.56 230.48 L72.36 230.58 L73.16 230.69 L73.96 230.8 L74.75 230.91 L75.55 231.02 L76.35 231.12 L77.15 231.21 L77.95 231.29 L78.74 231.35 L79.54 231.39 L80.34 231.4 L81.14 231.42 L81.94 231.47 L82.73 231.55 L83.53 231.66 L84.33 231.78 L85.13 231.91 L85.93 232.05 L86.72 232.18 L87.52 232.31 L88.32 232.43 L89.12 232.54 L89.92 232.62 L90.71 232.67 L91.51 232.69 L92.31 232.67 L93.11 232.62 L93.91 232.54 L94.7 232.44 L95.5 232.32 L96.3 232.19 L97.1 232.03 L97.9 231.87 L98.69 231.69 L99.49 231.5 L100.29 231.31 L101.09 231.11 L101.89 230.91 L102.68 230.7 L103.48 230.49 L104.28 230.24 L105.08 229.95 L105.88 229.62 L106.67 229.26 L107.47 228.88 L108.27 228.47 L109.07 228.05 L109.87 227.63 L110.66 227.23 L111.46 226.84 L112.26 226.49 L113.06 226.18 L113.86 225.93 L114.65 225.74 L115.45 225.63 L116.25 225.6 L117.05 225.65 L117.85 225.78 L118.64 225.98 L119.44 226.25 L120.24 226.58 L121.04 226.96 L121.84 227.36 L122.63 227.79 L123.43 228.23 L124.23 228.67 L125.03 229.09 L125.83 229.5 L126.62 229.88 L127.42 230.22 L128.22 230.52 L129.02 230.79 L129.82 231.01 L130.61 231.2 L131.41 231.36 L132.21 231.54 L133.01 231.74 L133.81 231.95 L134.6 232.16 L135.4 232.37 L136.2 232.57 L137 232.76 L137.8 232.93 L138.59 233.08 L139.39 233.19 L140.19 233.26 L140.99 233.29 L141.79 233.28 L142.58 233.25 L143.38 233.21 L144.18 233.15 L144.98 233.08 L145.78 233 L146.57 232.92 L147.37 232.83 L148.17 232.73 L148.97 232.64 L149.77 232.54 L150.56 232.45 L151.36 232.37 L152.16 232.29 L152.96 232.23 L153.76 232.17 L154.55 232.13 L155.35 232.11 L156.15 232.1 L156.95 232.08 L157.75 232.05 L158.54 231.99 L159.34 231.91 L160.14 231.82 L160.94 231.71 L161.74 231.59 L162.53 231.46 L163.33 231.32 L164.13 231.18 L164.93 231.03 L165.73 230.87 L166.52 230.72 L167.32 230.57 L168.12 230.42 L168.92 230.27 L169.72 230.13 L170.51 230 L171.31 229.88 L172.11 229.78 L172.91 229.68 L173.71 229.61 L174.5 229.55 L175.3 229.51 L176.1 229.5" fill="none" stroke="#f21fd9" stroke-width="2.6" stroke-linejoin="round"/>
<path d="M56.4 225.09 L57.2 225.09 L58 225.09 L58.79 225.09 L59.59 225.08 L60.39 225.08 L61.19 225.08 L61.99 225.07 L62.78 225.07 L63.58 225.06 L64.38 225.06 L65.18 225.05 L65.98 225.04 L66.77 225.03 L67.57 225.02 L68.37 225.01 L69.17 225 L69.97 224.99 L70.76 224.97 L71.56 224.95 L72.36 224.93 L73.16 224.9 L73.96 224.88 L74.75 224.85 L75.55 224.81 L76.35 224.77 L77.15 224.72 L77.95 224.67 L78.74 224.61 L79.54 224.55 L80.34 224.47 L81.14 224.39 L81.94 224.29 L82.73 224.18 L83.53 224.05 L84.33 223.91 L85.13 223.76 L85.93 223.58 L86.72 223.38 L87.52 223.15 L88.32 222.89 L89.12 222.6 L89.92 222.28 L90.71 221.92 L91.51 221.51 L92.31 221.05 L93.11 220.54 L93.91 219.97 L94.7 219.34 L95.5 218.63 L96.3 217.84 L97.1 216.97 L97.9 216 L98.69 214.93 L99.49 213.74 L100.29 212.43 L101.09 211 L101.89 209.42 L102.68 207.7 L103.48 205.81 L104.28 203.75 L105.08 201.52 L105.88 199.11 L106.67 196.5 L107.47 193.69 L108.27 190.69 L109.07 187.49 L109.87 184.11 L110.66 180.54 L111.46 176.82 L112.26 172.98 L113.06 169.05 L113.86 165.13 L114.65 161.31 L115.45 157.81 L116.25 155.48 L117.05 158.21 L117.85 161.75 L118.64 165.58 L119.44 169.5 L120.24 173.4 L121.04 177.22 L121.84 180.92 L122.63 184.45 L123.43 187.8 L124.23 190.96 L125.03 193.93 L125.83 196.69 L126.62 199.27 L127.42 201.65 L128.22 203.85 L129.02 205.87 L129.82 207.72 L130.61 209.42 L131.41 210.97 L132.21 212.37 L133.01 213.65 L133.81 214.81 L134.6 215.86 L135.4 216.81 L136.2 217.66 L137 218.43 L137.8 219.11 L138.59 219.73 L139.39 220.28 L140.19 220.78 L140.99 221.22 L141.79 221.61 L142.58 221.96 L143.38 222.27 L144.18 222.54 L144.98 222.78 L145.78 223 L146.57 223.19 L147.37 223.36 L148.17 223.5 L148.97 223.63 L149.77 223.75 L150.56 223.85 L151.36 223.94 L152.16 224.01 L152.96 224.08 L153.76 224.14 L154.55 224.19 L155.35 224.23 L156.15 224.27 L156.95 224.3 L157.75 224.33 L158.54 224.36 L159.34 224.38 L160.14 224.4 L160.94 224.41 L161.74 224.42 L162.53 224.44 L163.33 224.44 L164.13 224.45 L164.93 224.46 L165.73 224.47 L166.52 224.47 L167.32 224.47 L168.12 224.48 L168.92 224.48 L169.72 224.48 L170.51 224.49 L171.31 224.49 L172.11 224.49 L172.91 224.49 L173.71 224.49 L174.5 224.49 L175.3 224.49 L176.1 224.49" fill="none" stroke="#1c1c8c" stroke-width="2.6" stroke-linejoin="round"/>
<path d="M188.5 233 L189.3 233.02 L190.1 233.04 L190.9 233.07 L191.7 233.1 L192.5 233.14 L193.3 233.19 L194.1 233.23 L194.89 233.28 L195.69 233.34 L196.49 233.4 L197.29 233.46 L198.09 233.52 L198.89 233.58 L199.69 233.64 L200.49 233.71 L201.29 233.77 L202.09 233.83 L202.89 233.9 L203.69 233.96 L204.49 234.01 L205.29 234.07 L206.09 234.12 L206.88 234.17 L207.68 234.22 L208.48 234.25 L209.28 234.29 L210.08 234.32 L210.88 234.34 L211.68 234.35 L212.48 234.36 L213.28 234.36 L214.08 234.35 L214.88 234.33 L215.68 234.3 L216.48 234.26 L217.28 234.22 L218.08 234.18 L218.87 234.13 L219.67 234.07 L220.47 234 L221.27 233.93 L222.07 233.85 L222.87 233.76 L223.67 233.67 L224.47 233.56 L225.27 233.44 L226.07 233.31 L226.87 233.17 L227.67 233.01 L228.47 232.84 L229.27 232.65 L230.07 232.45 L230.86 232.22 L231.66 231.97 L232.46 231.69 L233.26 231.38 L234.06 231.04 L234.86 230.66 L235.66 230.24 L236.46 229.78 L237.26 229.25 L238.06 228.67 L238.86 228.02 L239.66 227.3 L240.46 226.48 L241.26 225.56 L242.06 224.52 L242.85 223.34 L243.65 221.99 L244.45 220.46 L245.25 218.7 L246.05 216.66 L246.85 214.27 L247.65 211.39 L248.45 207.65 L249.25 210.99 L250.05 213.94 L250.85 216.39 L251.65 218.47 L252.45 220.27 L253.25 221.83 L254.05 223.2 L254.84 224.4 L255.64 225.46 L256.44 226.4 L257.24 227.23 L258.04 227.97 L258.84 228.63 L259.64 229.22 L260.44 229.75 L261.24 230.23 L262.04 230.66 L262.84 231.04 L263.64 231.39 L264.44 231.7 L265.24 231.98 L266.04 232.24 L266.83 232.47 L267.63 232.68 L268.43 232.87 L269.23 233.04 L270.03 233.2 L270.83 233.34 L271.63 233.47 L272.43 233.59 L273.23 233.69 L274.03 233.79 L274.83 233.88 L275.63 233.95 L276.43 234.02 L277.23 234.09 L278.03 234.14 L278.82 234.19 L279.62 234.23 L280.42 234.26 L281.22 234.29 L282.02 234.31 L282.82 234.31 L283.62 234.32 L284.42 234.31 L285.22 234.3 L286.02 234.28 L286.82 234.26 L287.62 234.24 L288.42 234.2 L289.22 234.17 L290.02 234.13 L290.81 234.09 L291.61 234.05 L292.41 234 L293.21 233.95 L294.01 233.9 L294.81 233.85 L295.61 233.8 L296.41 233.75 L297.21 233.7 L298.01 233.65 L298.81 233.6 L299.61 233.55 L300.41 233.51 L301.21 233.46 L302.01 233.42 L302.8 233.38 L303.6 233.34 L304.4 233.31 L305.2 233.28 L306 233.25 L306.8 233.23 L307.6 233.21 L308.4 233.2" fill="none" stroke="#1fb587" stroke-width="2.6" stroke-linejoin="round"/>
<path d="M188.5 222.75 L189.3 222.94 L190.1 223.19 L190.9 223.48 L191.7 223.8 L192.5 224.13 L193.3 224.47 L194.1 224.8 L194.89 225.1 L195.69 225.37 L196.49 225.58 L197.29 225.72 L198.09 225.79 L198.89 225.78 L199.69 225.71 L200.49 225.61 L201.29 225.46 L202.09 225.29 L202.89 225.09 L203.69 224.87 L204.49 224.65 L205.29 224.42 L206.09 224.2 L206.88 223.98 L207.68 223.78 L208.48 223.61 L209.28 223.46 L210.08 223.36 L210.88 223.29 L211.68 223.27 L212.48 223.29 L213.28 223.33 L214.08 223.41 L214.88 223.49 L215.68 223.59 L216.48 223.69 L217.28 223.79 L218.08 223.88 L218.87 223.95 L219.67 224 L220.47 224.01 L221.27 223.97 L222.07 223.89 L222.87 223.74 L223.67 223.52 L224.47 223.22 L225.27 222.86 L226.07 222.44 L226.87 221.96 L227.67 221.39 L228.47 220.74 L229.27 220 L230.07 219.16 L230.86 218.2 L231.66 217.12 L232.46 215.9 L233.26 214.53 L234.06 212.99 L234.86 211.28 L235.66 209.37 L236.46 207.26 L237.26 204.93 L238.06 202.37 L238.86 199.57 L239.66 196.53 L240.46 193.24 L241.26 189.7 L242.06 185.92 L242.85 181.93 L243.65 177.75 L244.45 173.43 L245.25 169.04 L246.05 164.67 L246.85 160.49 L247.65 156.74 L248.45 154.06 L249.25 156.33 L250.05 160 L250.85 164.16 L251.65 168.54 L252.45 172.96 L253.25 177.32 L254.05 181.56 L254.84 185.61 L255.64 189.46 L256.44 193.07 L257.24 196.44 L258.04 199.57 L258.84 202.45 L259.64 205.08 L260.44 207.49 L261.24 209.68 L262.04 211.66 L262.84 213.45 L263.64 215.05 L264.44 216.49 L265.24 217.77 L266.04 218.91 L266.83 219.92 L267.63 220.81 L268.43 221.6 L269.23 222.28 L270.03 222.87 L270.83 223.38 L271.63 223.82 L272.43 224.18 L273.23 224.48 L274.03 224.72 L274.83 224.9 L275.63 225.04 L276.43 225.13 L277.23 225.18 L278.03 225.2 L278.82 225.2 L279.62 225.17 L280.42 225.12 L281.22 225.06 L282.02 224.98 L282.82 224.9 L283.62 224.81 L284.42 224.72 L285.22 224.63 L286.02 224.53 L286.82 224.45 L287.62 224.37 L288.42 224.3 L289.22 224.25 L290.02 224.2 L290.81 224.18 L291.61 224.17 L292.41 224.17 L293.21 224.16 L294.01 224.14 L294.81 224.11 L295.61 224.08 L296.41 224.03 L297.21 223.98 L298.01 223.92 L298.81 223.86 L299.61 223.8 L300.41 223.73 L301.21 223.66 L302.01 223.6 L302.8 223.53 L303.6 223.46 L304.4 223.4 L305.2 223.34 L306 223.28 L306.8 223.23 L307.6 223.19 L308.4 223.15" fill="none" stroke="#f21fd9" stroke-width="2.6" stroke-linejoin="round"/>
<path d="M188.5 221.8 L189.3 221.8 L190.1 221.8 L190.9 221.8 L191.7 221.8 L192.5 221.8 L193.3 221.8 L194.1 221.8 L194.89 221.8 L195.69 221.8 L196.49 221.8 L197.29 221.79 L198.09 221.79 L198.89 221.79 L199.69 221.79 L200.49 221.79 L201.29 221.78 L202.09 221.78 L202.89 221.77 L203.69 221.77 L204.49 221.76 L205.29 221.75 L206.09 221.74 L206.88 221.72 L207.68 221.7 L208.48 221.68 L209.28 221.66 L210.08 221.63 L210.88 221.59 L211.68 221.55 L212.48 221.49 L213.28 221.43 L214.08 221.35 L214.88 221.26 L215.68 221.15 L216.48 221.03 L217.28 220.88 L218.08 220.7 L218.87 220.49 L219.67 220.25 L220.47 219.97 L221.27 219.63 L222.07 219.25 L222.87 218.8 L223.67 218.29 L224.47 217.7 L225.27 217.02 L226.07 216.24 L226.87 215.35 L227.67 214.34 L228.47 213.19 L229.27 211.9 L230.07 210.45 L230.86 208.82 L231.66 207 L232.46 204.98 L233.26 202.75 L234.06 200.28 L234.86 197.58 L235.66 194.64 L236.46 191.44 L237.26 187.98 L238.06 184.28 L238.86 180.33 L239.66 176.16 L240.46 171.78 L241.26 167.21 L242.06 162.52 L242.85 157.73 L243.65 152.93 L244.45 148.19 L245.25 143.62 L246.05 139.35 L246.85 135.54 L247.65 132.46 L248.45 130.63 L249.25 132.14 L250.05 135.11 L250.85 138.84 L251.65 143.07 L252.45 147.61 L253.25 152.33 L254.05 157.13 L254.84 161.92 L255.64 166.63 L256.44 171.21 L257.24 175.62 L258.04 179.82 L258.84 183.8 L259.64 187.53 L260.44 191.02 L261.24 194.25 L262.04 197.23 L262.84 199.96 L263.64 202.45 L264.44 204.72 L265.24 206.76 L266.04 208.6 L266.83 210.25 L267.63 211.73 L268.43 213.04 L269.23 214.2 L270.03 215.23 L270.83 216.13 L271.63 216.92 L272.43 217.62 L273.23 218.22 L274.03 218.74 L274.83 219.2 L275.63 219.59 L276.43 219.93 L277.23 220.22 L278.03 220.46 L278.82 220.68 L279.62 220.86 L280.42 221.01 L281.22 221.14 L282.02 221.25 L282.82 221.34 L283.62 221.42 L284.42 221.48 L285.22 221.54 L286.02 221.58 L286.82 221.62 L287.62 221.65 L288.42 221.68 L289.22 221.7 L290.02 221.72 L290.81 221.73 L291.61 221.75 L292.41 221.76 L293.21 221.77 L294.01 221.77 L294.81 221.78 L295.61 221.78 L296.41 221.79 L297.21 221.79 L298.01 221.79 L298.81 221.79 L299.61 221.79 L300.41 221.8 L301.21 221.8 L302.01 221.8 L302.8 221.8 L303.6 221.8 L304.4 221.8 L305.2 221.8 L306 221.8 L306.8 221.8 L307.6 221.8 L308.4 221.8" fill="none" stroke="#1c1c8c" stroke-width="2.6" stroke-linejoin="round"/>
<line x1="315.2" y1="141.4" x2="334.8" y2="141.4" stroke="#1c1c8c" stroke-width="4.8" />
<line x1="315.2" y1="178.3" x2="334.8" y2="178.3" stroke="#1fb587" stroke-width="4.8" />
<line x1="315.2" y1="215.4" x2="334.8" y2="215.4" stroke="#f21fd9" stroke-width="4.8" />
<line x1="746.5" y1="67.7" x2="1058.9" y2="67.7" stroke="#111" stroke-width="2.4" />
<rect x="636.3" y="132.8" width="255.8" height="228.8" fill="none" stroke="#111" stroke-width="2.5"/>
<line x1="631.3" y1="141" x2="636.3" y2="141" stroke="#111" stroke-width="1.8" />
<line x1="631.3" y1="183.6" x2="636.3" y2="183.6" stroke="#111" stroke-width="1.8" />
<line x1="631.3" y1="225.8" x2="636.3" y2="225.8" stroke="#111" stroke-width="1.8" />
<line x1="631.3" y1="268.1" x2="636.3" y2="268.1" stroke="#111" stroke-width="1.8" />
<line x1="631.3" y1="310.7" x2="636.3" y2="310.7" stroke="#111" stroke-width="1.8" />
<line x1="631.3" y1="352.9" x2="636.3" y2="352.9" stroke="#111" stroke-width="1.8" />
<line x1="645.2" y1="361.6" x2="645.2" y2="366.2" stroke="#111" stroke-width="1.8" />
<line x1="699.4" y1="361.6" x2="699.4" y2="366.2" stroke="#111" stroke-width="1.8" />
<line x1="753.7" y1="361.6" x2="753.7" y2="366.2" stroke="#111" stroke-width="1.8" />
<line x1="808.1" y1="361.6" x2="808.1" y2="366.2" stroke="#111" stroke-width="1.8" />
<line x1="862.1" y1="361.6" x2="862.1" y2="366.2" stroke="#111" stroke-width="1.8" />
<rect x="923.5" y="134.6" width="254.6" height="227.9" fill="none" stroke="#111" stroke-width="2.5"/>
<line x1="918.5" y1="142.5" x2="923.5" y2="142.5" stroke="#111" stroke-width="1.8" />
<line x1="918.5" y1="185" x2="923.5" y2="185" stroke="#111" stroke-width="1.8" />
<line x1="918.5" y1="227.1" x2="923.5" y2="227.1" stroke="#111" stroke-width="1.8" />
<line x1="918.5" y1="269.4" x2="923.5" y2="269.4" stroke="#111" stroke-width="1.8" />
<line x1="918.5" y1="312" x2="923.5" y2="312" stroke="#111" stroke-width="1.8" />
<line x1="918.5" y1="354.3" x2="923.5" y2="354.3" stroke="#111" stroke-width="1.8" />
<line x1="932.2" y1="362.5" x2="932.2" y2="367.1" stroke="#111" stroke-width="1.8" />
<line x1="976.8" y1="362.5" x2="976.8" y2="367.1" stroke="#111" stroke-width="1.8" />
<line x1="1021.5" y1="362.5" x2="1021.5" y2="367.1" stroke="#111" stroke-width="1.8" />
<line x1="1066.1" y1="362.5" x2="1066.1" y2="367.1" stroke="#111" stroke-width="1.8" />
<line x1="1110.8" y1="362.5" x2="1110.8" y2="367.1" stroke="#111" stroke-width="1.8" />
<line x1="1155.4" y1="362.5" x2="1155.4" y2="367.1" stroke="#111" stroke-width="1.8" />
<rect x="641" y="411" width="251.3" height="224.3" fill="none" stroke="#111" stroke-width="2.5"/>
<line x1="636" y1="418.6" x2="641" y2="418.6" stroke="#111" stroke-width="1.8" />
<line x1="636" y1="460.9" x2="641" y2="460.9" stroke="#111" stroke-width="1.8" />
<line x1="636" y1="502.6" x2="641" y2="502.6" stroke="#111" stroke-width="1.8" />
<line x1="636" y1="544.3" x2="641" y2="544.3" stroke="#111" stroke-width="1.8" />
<line x1="636" y1="586" x2="641" y2="586" stroke="#111" stroke-width="1.8" />
<line x1="636" y1="627.8" x2="641" y2="627.8" stroke="#111" stroke-width="1.8" />
<line x1="649.4" y1="635.3" x2="649.4" y2="639.9" stroke="#111" stroke-width="1.8" />
<line x1="702.6" y1="635.3" x2="702.6" y2="639.9" stroke="#111" stroke-width="1.8" />
<line x1="756.2" y1="635.3" x2="756.2" y2="639.9" stroke="#111" stroke-width="1.8" />
<line x1="809.4" y1="635.3" x2="809.4" y2="639.9" stroke="#111" stroke-width="1.8" />
<line x1="863.1" y1="635.3" x2="863.1" y2="639.9" stroke="#111" stroke-width="1.8" />
<rect x="924.3" y="410" width="252.6" height="225.3" fill="none" stroke="#111" stroke-width="2.5"/>
<line x1="919.3" y1="417.5" x2="924.3" y2="417.5" stroke="#111" stroke-width="1.8" />
<line x1="919.3" y1="460.2" x2="924.3" y2="460.2" stroke="#111" stroke-width="1.8" />
<line x1="919.3" y1="502.3" x2="924.3" y2="502.3" stroke="#111" stroke-width="1.8" />
<line x1="919.3" y1="544.3" x2="924.3" y2="544.3" stroke="#111" stroke-width="1.8" />
<line x1="919.3" y1="586" x2="924.3" y2="586" stroke="#111" stroke-width="1.8" />
<line x1="919.3" y1="627.8" x2="924.3" y2="627.8" stroke="#111" stroke-width="1.8" />
<line x1="932.9" y1="635.3" x2="932.9" y2="639.9" stroke="#111" stroke-width="1.8" />
<line x1="977.5" y1="635.3" x2="977.5" y2="639.9" stroke="#111" stroke-width="1.8" />
<line x1="1021.6" y1="635.3" x2="1021.6" y2="639.9" stroke="#111" stroke-width="1.8" />
<line x1="1065.8" y1="635.3" x2="1065.8" y2="639.9" stroke="#111" stroke-width="1.8" />
<line x1="1110.3" y1="635.3" x2="1110.3" y2="639.9" stroke="#111" stroke-width="1.8" />
<line x1="1154.7" y1="635.3" x2="1154.7" y2="639.9" stroke="#111" stroke-width="1.8" />
<path d="M645.2 353.2 L700 346.8 L754 340.6 L808 335.2 L838 332.2 L882.5 331.6" fill="none" stroke="#111" stroke-width="1.6" stroke-linejoin="round" stroke-linecap="round"/>
<path d="M932.2 354.4 L992 351.4 L1078.5 346.6 L1167.5 346" fill="none" stroke="#111" stroke-width="1.6" stroke-linejoin="round" stroke-linecap="round"/>
<path d="M649.4 628 L756.2 617.6 L809.4 613.2 L838.5 609.6 L882.6 609" fill="none" stroke="#111" stroke-width="1.6" stroke-linejoin="round" stroke-linecap="round"/>
<path d="M932.9 628 L1019 624 L1079 620.4 L1167 619.6" fill="none" stroke="#111" stroke-width="1.6" stroke-linejoin="round" stroke-linecap="round"/>
<path d="M645.2 353.4 L700 347.6 L754 343.6 L808 339 L838 336.2 L882.4 335.4 L882.4 330" fill="none" stroke="#cf5252" stroke-width="4.2" stroke-linejoin="round" stroke-linecap="round"/>
<path d="M645.2 353 L700 345.4 L754 337.6 L808 331.8 L838 328.6 L882.6 328.2 L882.6 140" fill="none" stroke="#2e3192" stroke-width="4.2" stroke-linejoin="round" stroke-linecap="round"/>
<path d="M932.2 354.2 L978.3 350.5 L1037 348 L1078.5 345.2 L1167.5 344.6" fill="none" stroke="#cf5252" stroke-width="4.2" stroke-linejoin="round" stroke-linecap="round"/>
<path d="M932.2 354.6 L992 352 L1078.5 347.6 L1167.8 347.2 L1167.8 141.6" fill="none" stroke="#2e3192" stroke-width="4.2" stroke-linejoin="round" stroke-linecap="round"/>
<path d="M649.4 628.3 L702.6 624.2 L756.2 619.4 L809.4 615.4 L838.5 611.8 L882.6 611.6 L882.6 605" fill="none" stroke="#cf5252" stroke-width="4.2" stroke-linejoin="round" stroke-linecap="round"/>
<path d="M649.4 627.8 L702.6 618.7 L756.2 613.5 L809.4 608.2 L838.5 605.8 L883 605.4 L883 417.8" fill="none" stroke="#7a5aa8" stroke-width="4.2" stroke-linejoin="round" stroke-linecap="round"/>
<path d="M932.9 627.8 L971.5 622.5 L1055 617 L1079 615.5 L1166.5 615.3" fill="none" stroke="#cf5252" stroke-width="4.2" stroke-linejoin="round" stroke-linecap="round"/>
<path d="M932.9 628.2 L1019 624.2 L1079 621.2 L1167.6 620.6 L1167.6 417.2" fill="none" stroke="#932a90" stroke-width="4.2" stroke-linejoin="round" stroke-linecap="round"/>
<rect x="644" y="142.8" width="11.3" height="11.3" fill="#000" />
<rect x="644" y="172.8" width="11.3" height="11.3" fill="#cf5252" />
<rect x="644" y="202.5" width="11.3" height="11.3" fill="#2e3192" />
<rect x="932" y="145.9" width="11" height="11" fill="#000" />
<rect x="932" y="175.2" width="11" height="11" fill="#cf5252" />
<rect x="932" y="205.5" width="11" height="11" fill="#2e3192" />
<rect x="646.3" y="423.4" width="10.5" height="10.5" fill="#000" />
<rect x="646.3" y="451.8" width="10.5" height="10.5" fill="#cf5252" />
<rect x="646.3" y="480.8" width="10.5" height="10.5" fill="#8e5db0" />
<rect x="932" y="423.4" width="10.8" height="10.8" fill="#000" />
<rect x="932" y="451.4" width="10.8" height="10.8" fill="#cf5252" />
<rect x="932" y="480.2" width="10.8" height="10.8" fill="#9b4fb0" />
<rect x="665.6" y="505.5" width="170" height="4.2" fill="#222" />
<rect x="951.5" y="504.4" width="169.8" height="4.2" fill="#222" />
<path d="M1400.6 139.9l0 -1.5l0.5 -1.1l0.5 -0.5l0.5 0.5l0.5 1.1l0.5 -1l0.5 -0.9l0.5 -1.1l0.5 -0.8l0.5 -0.3l0.5 0.3l0.5 0.8l0.5 1.1l0.5 0.9l0.5 1.1l0.5 -0.1l0.5 -0.1l0.5 -0.1l0.5 -0.1l0.5 -0l0.5 -0l0.5 0.1l0.5 0.1l0.5 0.1l0.5 0.1l0.5 -1l0.5 -0.7l0.5 -0.4l0.5 -0l0.5 0.4l0.5 0.7l0.5 -0.6l0.5 -2.1l0.5 -1.5l0.5 -0l0.5 1.5l0.5 2.1l0.5 1.5l0.5 -0.9l0.5 -0.9l0.5 -0.6l0.5 -0l0.5 0.6l0.5 0.9l0.5 0.9l0.5 -1l0.5 -0.6l0.5 -0.7l0.5 -0.5l0.5 -0.4l0.5 -0l0.5 0.4l0.5 0.5l0.5 0.7l0.5 0.6l0.5 0.6l0.5 -2.1l0.5 -1.1l0.5 1.1l0.5 2.1l0.5 -0.1l0.5 -0.3l0.5 -0.4l0.5 -0.3l0.5 -0.3l0.5 -0.2l0.5 -0l0.5 0.2l0.5 0.3l0.5 0.3l0.5 0.4l0.5 0.3l0.5 -0.1l0.5 -0l0.5 -0l0.5 -0l0.5 -0l0.5 -0l0.5 0.3l0.5 -0.9l0.5 -1l0.5 -0.9l0.5 -0.5l0.5 -0l0.5 0.5l0.5 0.9l0.5 1l0.5 0.9l0.5 -0.3l0.5 -0.4l0.5 -0.6l0.5 -0.5l0.5 -0.5l0.5 -0.2l0.5 -0l0.5 0.2l0.5 0.5l0.5 0.5l0.5 0.6l0.5 0.4l0.5 0.5l0.5 -0.6l0.5 -0.8l0.5 -0.8l0.5 -0.7l0.5 -0.3l0.5 -0l0.5 0.3l0.5 0.7l0.5 0.8l0.5 0.8l0.5 0.6l0.5 -0.3l0.5 -0.3l0.5 -0.3l0.5 -0.3l0.5 -0.3l0.5 -0.1l0.5 -0l0.5 0.1l0.5 0.3l0.5 0.3l0.5 0.3l0.5 0.3l0.5 0.5l0.5 -1.5l0.5 -1.6l0.5 -0.9l0.5 -0l0.5 0.9l0.5 1.6l0.5 1.5l0.5 -0.9l0.5 -2.6l0.5 -0l0.5 2.6l0.5 0.3l0.5 -1l0.5 -1.1l0.5 -0.8l0.5 -0.3l0.5 0.3l0.5 0.8l0.5 1.1l0.5 1l0.5 0.1l0.5 -0l0.5 -0l0.5 -0l0.5 -0l0.5 -0l0.5 -0l0.5 -0l0.5 -0l0.5 -0l0.5 -0l0.5 -0l0.5 -0.3l0.5 -0.2l0.5 -0.2l0.5 -0.1l0.5 -0l0.5 0.1l0.5 0.2l0.5 0.2l0.5 -1l0.5 -2.1l0.5 -0l0.5 2.1l0.5 0.7l0.5 -0.9l0.5 -0.8l0.5 -0.4l0.5 0.4l0.5 0.8l0.5 0.9l0.5 0.3l0.5 -0.2l0.5 -0.4l0.5 -0.3l0.5 -0.3l0.5 -0.2l0.5 -0l0.5 0.2l0.5 0.3l0.5 0.3l0.5 0.4l0.5 0.2l0.5 -0l0.5 -0.2l0.5 -0.2l0.5 -0.2l0.5 -0.1l0.5 -0l0.5 0.1l0.5 0.2l0.5 0.2l0.5 0.2l0.5 1.1l0.5 -0.1l0.5 -0l0.5 -0l0.5 -0l0.5 0.1l0.5 -1.1l0.5 -1.5l0.5 -0.7l0.5 0.7l0.5 1.5l0.5 1.2l0.5 -0l0.5 -0l0.5 -0.1l0.5 -0l0.5 -0l0.5 -0l0.5 -0l0.5 0.1l0.5 -0l0.5 -0l0.5 -0.2l0.5 -0l0.5 -0l0.5 -0l0.5 -0l0.5 -0l0.5 -0l0.5 -0l0.5 -0l0.5 -0l0.5 -0.1l0.5 -0l0.5 -0l0.5 -0l0.5 -0l0.5 -0l0.5 -1.2l0.5 -0l0.5 -0l0.5 -0l0.5 0.8l0.5 -0l0.5 -0.1l0.5 -0l0.5 -0l0.5 -0l0.5 -0l0.5 0.1l0.5 -0l0.5 -0.8l0.5 -0.6l0.5 -0.6l0.5 -0.6l0.5 -0.3l0.5 -0l0.5 0.3l0.5 0.6l0.5 0.6l0.5 0.6l0.5 0.9l0.5 -0.2l0.5 -0.2l0.5 -0.1l0.5 -0.1l0.5 0.1l0.5 0.1l0.5 0.2l0.5 0.2l0.5 -0.8l0.5 -0.2l0.5 -0.3l0.5 -0.2l0.5 -0.2l0.5 -0.1l0.5 -0l0.5 0.1l0.5 0.2l0.5 0.2l0.5 0.3l0.5 0.2l0.5 0.7l0.5 -0.5l0.5 -0l0.5 0.5l0.5 0.8l0.5 -0.1l0.5 -0l0.5 -0l0.5 -0l0.5 -0l0.5 0.1l0.5 -2l0.5 -2.9l0.5 2.9l0.5 -0.1l0.5 -1.9l0.5 1.9l0.5 0.1l0.5 -2.5l0.5 2.5l0.5 0.4l0.5 -0l0.5 -0l0.5 -0.1l0.5 -0l0.5 -0l0.5 -0l0.5 0.1l0.5 -0l0.5 -0l0.5 1l0.5 -0.1l0.5 -0l0.5 0.1l0.5 0.6l0.5 -0.1l0.5 -0.2l0.5 -0.1l0.5 -0.1l0.5 -0l0.5 -0l0.5 0.1l0.5 0.1l0.5 0.2l0.5 0.1l0.5 -1.4l0.5 -2l0.5 2l0.5 -0.4l0.5 -0.9l0.5 -1.1l0.5 -0.7l0.5 -0.3l0.5 0.3l0.5 0.7l0.5 1.1l0.5 0.9l0.5 1.2l0.5 -0.8l0.5 -0.9l0.5 -0.8l0.5 -0.7l0.5 -0.4l0.5 -0l0.5 0.4l0.5 0.7l0.5 0.8l0.5 0.9l0.5 0.8l0.5 -0.6l0.5 -0.7l0.5 -0.8l0.5 -0.6l0.5 -0.4l0.5 -0l0.5 0.4l0.5 0.6l0.5 0.8l0.5 0.7l0.5 0.9l0.5 -0.4l0.5 -0.5l0.5 -0.5l0.5 -0.4l0.5 -0.2l0.5 -0l0.5 0.2l0.5 0.4l0.5 0.5l0.5 0.5l0.5 0.4l0.5 -1l0.5 -1.6l0.5 -0l0.5 1.6l0.5 -0.5l0.5 -0.4l0.5 -0.6l0.5 -0.4l0.5 -0.3l0.5 -0l0.5 0.3l0.5 0.4l0.5 0.6l0.5 0.4l0.5 1.7l0.5 -0.1l0.5 -0l0.5 0.1l0.5 -0.7l0.5 -1.2l0.5 -0.6l0.5 0.6l0.5 1.2l0.5 -0l0.5 -1.6l0.5 -0l0.5 1.6l0.5 -1l0.5 -0.5l0.5 -0.7l0.5 -0.6l0.5 -0.4l0.5 -0.2l0.5 0.2l0.5 0.4l0.5 0.6l0.5 0.7l0.5 0.5l0.5 1.6l0.5 -0.3l0.5 -0.4l0.5 -0.4l0.5 -0.3l0.5 -0.1l0.5 -0l0.5 0.1l0.5 0.3l0.5 0.4l0.5 0.4l0.5 0.3l0.5 -1.4l0.5 -0l0.5 -0l0.5 -0l0.5 -0l0.5 -0l0.5 -0l0.5 -0L1614.5 139.9Z" fill="#1985f0"/>
<path d="M1678.7 139.4l0 -1l0.5 -0.8l0.5 0.8l0.5 0.4l0.5 -0.3l0.5 -0.2l0.5 -0.3l0.5 -0.2l0.5 -0.1l0.5 -0l0.5 0.1l0.5 0.2l0.5 0.3l0.5 0.2l0.5 0.3l0.5 -0.5l0.5 -0.2l0.5 -0.3l0.5 -0.3l0.5 -0.1l0.5 -0l0.5 0.1l0.5 0.3l0.5 0.3l0.5 0.2l0.5 -0.5l0.5 -0.1l0.5 -0.2l0.5 -0.1l0.5 -0.1l0.5 -0l0.5 0.1l0.5 0.1l0.5 0.2l0.5 0.1l0.5 0.2l0.5 -0.4l0.5 -0.3l0.5 -0.1l0.5 0.1l0.5 0.3l0.5 0.4l0.5 0.3l0.5 -0.2l0.5 -0.1l0.5 -0.2l0.5 -0.1l0.5 -0l0.5 0.1l0.5 0.2l0.5 0.1l0.5 0.2l0.5 -0.2l0.5 -0.7l0.5 -0l0.5 0.7l0.5 -0.4l0.5 -0.6l0.5 -0.4l0.5 0.4l0.5 0.6l0.5 0.2l0.5 -0.5l0.5 -0l0.5 0.5l0.5 0.2l0.5 -0.3l0.5 -0.4l0.5 -0.2l0.5 -0l0.5 0.2l0.5 0.4l0.5 0.3l0.5 -0.4l0.5 -0l0.5 -0l0.5 -0l0.5 -0l0.5 -0l0.5 0.5l0.5 -0.3l0.5 -0.4l0.5 -0.2l0.5 -0l0.5 0.2l0.5 0.4l0.5 0.3l0.5 0.4l0.5 -0.2l0.5 -0.1l0.5 -0l0.5 -0l0.5 0.1l0.5 0.2l0.5 -0.3l0.5 -0.4l0.5 -0.4l0.5 -0.3l0.5 -0l0.5 0.3l0.5 0.4l0.5 0.4l0.5 -0.1l0.5 -0.4l0.5 -0.4l0.5 -0.1l0.5 0.1l0.5 0.4l0.5 0.4l0.5 -0.2l0.5 -0.1l0.5 0.1l0.5 0.7l0.5 -0l0.5 -0l0.5 -0l0.5 -0.2l0.5 -0l0.5 -0l0.5 -0l0.5 -0l0.5 -0l0.5 -0l0.5 -0l0.5 -0.3l0.5 -0.1l0.5 -0.1l0.5 -0.1l0.5 -0l0.5 0.1l0.5 0.1l0.5 0.1l0.5 0.4l0.5 -0.1l0.5 -0.1l0.5 -0l0.5 -0.1l0.5 0.1l0.5 -0l0.5 0.1l0.5 0.1l0.5 -0.8l0.5 -0.2l0.5 0.2l0.5 0.9l0.5 -0.4l0.5 -0.3l0.5 -0.2l0.5 0.2l0.5 0.3l0.5 0.4l0.5 -0l0.5 -0l0.5 -0l0.5 -0l0.5 -0l0.5 -0l0.5 -0l0.5 -0.8l0.5 -0.3l0.5 -0.1l0.5 0.1l0.5 0.3l0.5 0.4l0.5 -0l0.5 -0l0.5 -0l0.5 -0l0.5 -0.6l0.5 -0.1l0.5 -0.2l0.5 -0.2l0.5 -0.2l0.5 -0l0.5 -0l0.5 0.2l0.5 0.2l0.5 0.2l0.5 0.1l0.5 0.3l0.5 -0.1l0.5 0.1l0.5 -0.2l0.5 -0.6l0.5 -0l0.5 0.6l0.5 0.9l0.5 -0.2l0.5 -0l0.5 0.2l0.5 -0.1l0.5 -0l0.5 -0l0.5 -0l0.5 -0l0.5 -0l0.5 -0l0.5 -0l0.5 -0l0.5 -0l0.5 -0.7l0.5 -0.2l0.5 -0.4l0.5 -0.3l0.5 -0.2l0.5 -0l0.5 -0l0.5 0.2l0.5 0.3l0.5 0.4l0.5 0.2l0.5 -0l0.5 -0l0.5 -0l0.5 -0.1l0.5 -0l0.5 -0l0.5 0.1l0.5 -0l0.5 -0l0.5 -0.2l0.5 -0.1l0.5 -0.2l0.5 -0.1l0.5 -0l0.5 0.1l0.5 0.2l0.5 0.1l0.5 0.3l0.5 -0.1l0.5 0.1l0.5 -0l0.5 -0.4l0.5 -0.3l0.5 -0.4l0.5 -0.2l0.5 -0l0.5 0.2l0.5 0.4l0.5 0.3l0.5 0.4l0.5 -0.1l0.5 -0.1l0.5 0.1l0.5 0.4l0.5 -0.1l0.5 0.1l0.5 -0.5l0.5 -0.8l0.5 0.8l0.5 0.5l0.5 -0l0.5 -0l0.5 -0l0.5 -0.1l0.5 -0l0.5 0.1l0.5 -0l0.5 -0l0.5 -0l0.5 -0.6l0.5 -0.5l0.5 0.5l0.5 0.1l0.5 -0.2l0.5 -0.2l0.5 -0.2l0.5 -0.2l0.5 -0.1l0.5 -0l0.5 0.1l0.5 0.2l0.5 0.2l0.5 0.2l0.5 0.2l0.5 0.3l0.5 -0.5l0.5 0.5l0.5 0.1l0.5 -0.1l0.5 -0.2l0.5 -0l0.5 -0.3l0.5 -0.2l0.5 0.7l0.5 0.1l0.5 0.1l0.5 -0.1l0.5 -0.1l0.5 -0l0.5 -0.1l0.5 -0l0.5 0.1l0.5 -0l0.5 0.1l0.5 0.1l0.5 0.1l0.5 -0.1l0.5 -0.1l0.5 -0.1l0.5 -0.1l0.5 -0l0.5 -0l0.5 0.1l0.5 0.1l0.5 0.1l0.5 0.1l0.5 -0.4l0.5 -0.8l0.5 -0.4l0.5 0.4l0.5 0.8l0.5 -0.4l0.5 -0.4l0.5 -0.2l0.5 0.1l0.5 0.5l0.5 0.9l0.5 -0l0.5 -0l0.5 -0l0.5 -0l0.5 -0.8l0.5 -0.2l0.5 -0.2l0.5 -0.2l0.5 -0.2l0.5 -0.1l0.5 -0l0.5 0.1l0.5 0.2l0.5 0.2l0.5 0.2l0.5 0.2l0.5 -0.1l0.5 -0.3l0.5 -0l0.5 0.3l0.5 0.6l0.5 -0.2l0.5 -0.3l0.5 -0.3l0.5 -0.2l0.5 -0l0.5 -0l0.5 0.2l0.5 -3.6l0.5 -6.4l0.5 3.3l0.5 5.2l0.5 -0.5l0.5 0.2l0.5 0.8l0.5 0.6l0.5 -2.7l0.5 1.4l0.5 2.8l0.5 0.3l0.5 -0.5l0.5 -0.6l0.5 -0.5l0.5 -0l0.5 0.5l0.5 0.6l0.5 -0.5l0.5 -0.2l0.5 -0.1l0.5 0.1l0.5 0.2l0.5 0.3l0.5 -0.3l0.5 -0.3l0.5 -0.3l0.5 -0.2l0.5 -0l0.5 -0l0.5 0.2l0.5 0.3l0.5 0.3l0.5 0.3l0.5 -0.3l0.5 -0.1l0.5 -0l0.5 -0l0.5 -0l0.5 -0l0.5 0.1l0.5 0.3l0.5 -0.1l0.5 -0.1l0.5 -0.1l0.5 -0.1l0.5 -0.1l0.5 -0l0.5 0.1l0.5 0.1l0.5 0.1l0.5 0.1l0.5 0.1l0.5 0.3l0.5 -0.3l0.5 -0.4l0.5 -0.3l0.5 -0.1l0.5 -0l0.5 0.1l0.5 0.3l0.5 -0.2l0.5 0.9l0.5 -0.6l0.5 -0l0.5 -0l0.5 -0l0.5 -0l0.5 -0l0.5 -0l0.5 -0l0.5 -0l0.5 0.6l0.5 -0.9l0.5 -0l0.5 0.9l0.5 -0l0.5 -0.6l0.5 -0.4l0.5 0.4l0.5 0.6l0.5 -0.2l0.5 -0.2l0.5 -0.3l0.5 -0.3l0.5 -0.2l0.5 -0l0.5 0.2l0.5 0.3l0.5 0.3l0.5 0.2l0.5 -0.4l0.5 -0.6L1897.5 139.4Z" fill="#1985f0"/>
<path d="M1400.6 93.7 V139.9 H1614.5" fill="none" stroke="#1e1c1d" stroke-width="1.7"/>
<path d="M1678.7 93.8 V139.4 H1897.5" fill="none" stroke="#1e1c1d" stroke-width="1.7"/>
<path d="M1400.6 211.2l0 -2l0.5 -0.7l0.5 -0.9l0.5 -0.9l0.5 -0.7l0.5 -0.4l0.5 -0l0.5 0.4l0.5 0.7l0.5 0.9l0.5 0.9l0.5 0.7l0.5 0.6l0.5 -0.7l0.5 -0.7l0.5 -0.4l0.5 -0l0.5 0.4l0.5 0.7l0.5 0.7l0.5 -1.4l0.5 -1.9l0.5 -1.5l0.5 -0l0.5 1.5l0.5 1.9l0.5 1.6l0.5 -0l0.5 -0l0.5 -0l0.5 -0l0.5 -0l0.5 -0l0.5 -0l0.5 -0.5l0.5 -1.2l0.5 -0l0.5 1.2l0.5 -0l0.5 -0.3l0.5 -0.3l0.5 -0.2l0.5 -0l0.5 0.2l0.5 0.3l0.5 0.3l0.5 0.2l0.5 -1.2l0.5 -0l0.5 1.2l0.5 -1.1l0.5 -0.5l0.5 -0.8l0.5 -0.7l0.5 -0.5l0.5 -0.3l0.5 -0l0.5 0.3l0.5 0.5l0.5 0.7l0.5 0.8l0.5 0.5l0.5 1.3l0.5 -1l0.5 -1.1l0.5 -0.8l0.5 -0.3l0.5 0.3l0.5 0.8l0.5 1.1l0.5 1l0.5 -0.5l0.5 -0l0.5 -0l0.5 -0l0.5 -0l0.5 -0l0.5 -0l0.5 -0l0.5 -0l0.5 -0l0.5 -1.2l0.5 -1.2l0.5 -0.8l0.5 -0l0.5 0.8l0.5 1.2l0.5 1.2l0.5 0.6l0.5 -0.9l0.5 -0.9l0.5 -0.4l0.5 0.4l0.5 0.9l0.5 0.9l0.5 -0.6l0.5 -0.6l0.5 -0.3l0.5 0.3l0.5 0.6l0.5 0.3l0.5 -1.4l0.5 -1.4l0.5 -0.8l0.5 -0l0.5 0.8l0.5 1.4l0.5 1.4l0.5 -0.7l0.5 -0.2l0.5 -0.4l0.5 -0.3l0.5 -0.2l0.5 -0.1l0.5 0.1l0.5 0.2l0.5 0.3l0.5 0.4l0.5 0.2l0.5 0.3l0.5 -0l0.5 -0l0.5 -0.7l0.5 -0.9l0.5 -1.1l0.5 -1.1l0.5 -0.7l0.5 -0.3l0.5 0.3l0.5 0.7l0.5 1.1l0.5 1.1l0.5 0.9l0.5 -0.1l0.5 -1.9l0.5 -0l0.5 1.9l0.5 1.3l0.5 -0.9l0.5 -1l0.5 -0.9l0.5 -0.5l0.5 -0l0.5 0.5l0.5 0.9l0.5 1l0.5 0.9l0.5 -0.7l0.5 -1.5l0.5 -1.2l0.5 -0l0.5 1.2l0.5 1.5l0.5 0.6l0.5 -0.1l0.5 -0.1l0.5 0.1l0.5 0.1l0.5 -0.6l0.5 -0.1l0.5 -0.1l0.5 -0l0.5 -0l0.5 -0l0.5 -0l0.5 0.1l0.5 0.1l0.5 -0.1l0.5 -0.7l0.5 -0.7l0.5 -0.4l0.5 -0l0.5 0.4l0.5 0.7l0.5 0.7l0.5 0.9l0.5 -0.2l0.5 -0.1l0.5 -0l0.5 -0l0.5 -0l0.5 0.1l0.5 0.2l0.5 -1.2l0.5 -0.9l0.5 -0.6l0.5 -0l0.5 0.6l0.5 0.9l0.5 -0.2l0.5 -0.3l0.5 -0.3l0.5 -0.2l0.5 -0l0.5 0.2l0.5 0.3l0.5 0.3l0.5 0.3l0.5 -0l0.5 -0l0.5 -0l0.5 -0l0.5 0.9l0.5 -0l0.5 -0l0.5 -0l0.5 -0l0.5 -0l0.5 -0l0.5 -0l0.5 -0l0.5 -0l0.5 -0.6l0.5 -0.8l0.5 -0.7l0.5 -0.3l0.5 0.3l0.5 0.7l0.5 0.8l0.5 0.6l0.5 -0.5l0.5 -0.4l0.5 -0.3l0.5 -0l0.5 0.3l0.5 0.4l0.5 0.5l0.5 0.2l0.5 -1.4l0.5 -1.4l0.5 -0.8l0.5 -0l0.5 0.8l0.5 1.4l0.5 1.4l0.5 -1l0.5 -1.1l0.5 -0.8l0.5 -0l0.5 0.8l0.5 1.1l0.5 0.4l0.5 -0.8l0.5 -0.4l0.5 0.4l0.5 0.8l0.5 -0l0.5 -1.4l0.5 -1.1l0.5 -0l0.5 1.1l0.5 1.4l0.5 -0l0.5 -0.2l0.5 -0.2l0.5 -0.2l0.5 -0.1l0.5 -0.1l0.5 0.1l0.5 0.1l0.5 0.2l0.5 0.2l0.5 0.2l0.5 0.3l0.5 -1.2l0.5 -1.1l0.5 -0.4l0.5 0.4l0.5 1.1l0.5 1.2l0.5 -0.7l0.5 -0.2l0.5 -0.2l0.5 -0.2l0.5 -0.1l0.5 0.1l0.5 0.2l0.5 0.2l0.5 0.2l0.5 0.1l0.5 -0.1l0.5 -0l0.5 -0l0.5 -0l0.5 0.1l0.5 0.3l0.5 -0l0.5 -0l0.5 -0l0.5 -0l0.5 -0l0.5 -0l0.5 -0l0.5 -0l0.5 -0l0.5 -0.4l0.5 -2l0.5 -1.5l0.5 -0l0.5 1.5l0.5 2l0.5 0.7l0.5 -0l0.5 -0l0.5 -0l0.5 -0l0.5 -0l0.5 -0l0.5 -0l0.5 -0l0.5 -0l0.5 -0l0.5 -0l0.5 -1.1l0.5 -0.8l0.5 -0.8l0.5 -0.7l0.5 -0.5l0.5 -0l0.5 0.5l0.5 0.7l0.5 0.8l0.5 0.8l0.5 1.5l0.5 -0.8l0.5 -1l0.5 -0.8l0.5 -0.5l0.5 -0l0.5 0.5l0.5 0.8l0.5 1l0.5 0.8l0.5 -0.1l0.5 -1l0.5 -1l0.5 -0.4l0.5 0.4l0.5 1l0.5 1l0.5 -1l0.5 -0.7l0.5 -0.9l0.5 -0.8l0.5 -0.7l0.5 -0.3l0.5 -0l0.5 0.3l0.5 0.7l0.5 0.8l0.5 0.9l0.5 0.7l0.5 0.9l0.5 -1.1l0.5 -0.6l0.5 0.6l0.5 1.1l0.5 -1.2l0.5 -0.6l0.5 0.6l0.5 -0.5l0.5 -2.9l0.5 -0l0.5 2.9l0.5 0.5l0.5 -1.8l0.5 -0.9l0.5 0.9l0.5 1.8l0.5 1.4l0.5 -0l0.5 -0l0.5 -0l0.5 -0l0.5 -0l0.5 -1.1l0.5 -0.9l0.5 -1.2l0.5 -1l0.5 -0.7l0.5 -0.3l0.5 0.3l0.5 0.7l0.5 1l0.5 1.2l0.5 0.9l0.5 1.3l0.5 -0.1l0.5 -0.2l0.5 -0l0.5 0.2l0.5 0.1l0.5 -0.9l0.5 -0.9l0.5 -1.1l0.5 -1l0.5 -0.7l0.5 -0.2l0.5 0.2l0.5 0.7l0.5 1l0.5 1.1l0.5 0.9l0.5 0.2l0.5 -0.3l0.5 -0.1l0.5 0.1l0.5 0.3l0.5 -0.4l0.5 -0.6l0.5 -0.7l0.5 -0.8l0.5 -0.6l0.5 -0.3l0.5 -0l0.5 0.3l0.5 0.6l0.5 0.8l0.5 0.7l0.5 0.6l0.5 0.9l0.5 -0.6l0.5 -0.9l0.5 -0.7l0.5 1l0.5 0.6l0.5 0.6l0.5 0.2l0.5 -0L1614.5 211.2Z" fill="#1985f0"/>
<path d="M1678.7 211.5l0 -1.7l0.5 -0.6l0.5 -0l0.5 0.6l0.5 0.5l0.5 -0.3l0.5 -0.4l0.5 -0.2l0.5 -0l0.5 0.2l0.5 0.4l0.5 0.3l0.5 -0.1l0.5 -0.2l0.5 -0.2l0.5 -0.1l0.5 0.1l0.5 0.2l0.5 0.2l0.5 0.4l0.5 -0.7l0.5 -0.3l0.5 0.3l0.5 0.7l0.5 0.1l0.5 -0.1l0.5 -0.1l0.5 -0l0.5 0.1l0.5 0.1l0.5 -0.8l0.5 -0.1l0.5 -0l0.5 -0l0.5 -0l0.5 -0l0.5 0.1l0.5 0.4l0.5 -0l0.5 -0l0.5 -0l0.5 -0l0.5 -0l0.5 -0l0.5 -0l0.5 -0l0.5 -0l0.5 -0.2l0.5 -0.6l0.5 -0l0.5 0.6l0.5 0.7l0.5 -0.2l0.5 -0.3l0.5 -0.2l0.5 -0.1l0.5 -0.1l0.5 0.1l0.5 0.1l0.5 0.2l0.5 0.3l0.5 0.2l0.5 -0.5l0.5 -0.1l0.5 -0.1l0.5 -0.1l0.5 -0l0.5 -0.1l0.5 -0l0.5 0.1l0.5 -0l0.5 0.1l0.5 0.1l0.5 0.1l0.5 -0.2l0.5 -0l0.5 -0.1l0.5 -0.1l0.5 -0l0.5 -0l0.5 0.1l0.5 0.1l0.5 -0l0.5 0.5l0.5 -0.3l0.5 -0.4l0.5 -0.3l0.5 -0.1l0.5 0.1l0.5 0.3l0.5 0.4l0.5 0.3l0.5 -0.4l0.5 -0.7l0.5 -0.3l0.5 0.3l0.5 0.7l0.5 0.5l0.5 -0.3l0.5 -0.3l0.5 -0.2l0.5 0.2l0.5 0.3l0.5 0.3l0.5 -0.5l0.5 -0.1l0.5 -0.2l0.5 -0l0.5 -0l0.5 0.2l0.5 0.1l0.5 -0l0.5 -0.4l0.5 -0.1l0.5 0.1l0.5 0.4l0.5 0.2l0.5 -0l0.5 -0l0.5 -0l0.5 -0l0.5 -0l0.5 -0l0.5 -0l0.5 -0l0.5 -0l0.5 -0l0.5 0.3l0.5 -0l0.5 -0l0.5 -0l0.5 -0l0.5 -0l0.5 -0l0.5 -0l0.5 -0l0.5 -0l0.5 -0l0.5 0.2l0.5 -0.2l0.5 -0.3l0.5 -0.2l0.5 -0.2l0.5 -0.1l0.5 0.1l0.5 0.2l0.5 0.2l0.5 0.3l0.5 0.2l0.5 -0.7l0.5 -0.5l0.5 -0.4l0.5 -0l0.5 0.4l0.5 0.5l0.5 0.3l0.5 -0.1l0.5 -0.2l0.5 -0.1l0.5 -0l0.5 -0.1l0.5 0.1l0.5 -0l0.5 0.1l0.5 0.2l0.5 0.1l0.5 -0.7l0.5 -0.8l0.5 -0.3l0.5 0.3l0.5 0.8l0.5 0.7l0.5 -0l0.5 -0l0.5 -0l0.5 -0.6l0.5 -0.7l0.5 0.7l0.5 -0.1l0.5 -0.1l0.5 -0l0.5 -0.1l0.5 -0l0.5 0.1l0.5 -0l0.5 0.1l0.5 0.9l0.5 -0.3l0.5 -0.2l0.5 -0.2l0.5 -0.1l0.5 0.1l0.5 0.2l0.5 0.2l0.5 0.3l0.5 -0.5l0.5 -0.1l0.5 -0.1l0.5 -0.1l0.5 -0l0.5 -0l0.5 -0l0.5 0.1l0.5 0.1l0.5 0.1l0.5 0.5l0.5 -0.2l0.5 -0.3l0.5 -0.3l0.5 -0.2l0.5 -0.2l0.5 -0l0.5 0.2l0.5 0.2l0.5 0.3l0.5 0.3l0.5 0.2l0.5 -0.4l0.5 -0l0.5 -0l0.5 -0l0.5 -0l0.5 -0l0.5 -0l0.5 -0l0.5 -0l0.5 -0l0.5 -0l0.5 -0l0.5 -0.3l0.5 -0l0.5 -0l0.5 -0.1l0.5 -0l0.5 -0l0.5 -0l0.5 -0l0.5 -0l0.5 0.1l0.5 -0l0.5 -0l0.5 0.5l0.5 -0.1l0.5 -0.2l0.5 -0.1l0.5 0.1l0.5 0.2l0.5 0.1l0.5 0.3l0.5 -0l0.5 -0l0.5 -0.5l0.5 -0.3l0.5 -0.3l0.5 -0.1l0.5 0.1l0.5 0.3l0.5 0.3l0.5 0.4l0.5 -0.2l0.5 -0.2l0.5 -0.2l0.5 -0.2l0.5 -0l0.5 -0l0.5 0.2l0.5 0.2l0.5 0.2l0.5 0.2l0.5 -0.6l0.5 -0l0.5 -0l0.5 -0l0.5 -0l0.5 -0l0.5 -0l0.5 -0l0.5 -0l0.5 -0.3l0.5 -0.3l0.5 -0.4l0.5 -0.3l0.5 -0.1l0.5 0.1l0.5 0.3l0.5 0.4l0.5 0.3l0.5 1l0.5 -0l0.5 -0l0.5 -0l0.5 -0l0.5 -0.2l0.5 -0.3l0.5 -0.3l0.5 -0.3l0.5 -0.1l0.5 -0l0.5 0.1l0.5 0.3l0.5 0.3l0.5 0.3l0.5 -0.6l0.5 -0l0.5 -0.1l0.5 -0.1l0.5 -0l0.5 -0l0.5 -0l0.5 0.1l0.5 0.1l0.5 -0l0.5 -0l0.5 -0.6l0.5 0.6l0.5 -0.1l0.5 -0l0.5 -0l0.5 -0l0.5 -0l0.5 -0l0.5 -0l0.5 -0l0.5 -0l0.5 0.2l0.5 -0.2l0.5 -0.3l0.5 -0.3l0.5 -0.2l0.5 -0.1l0.5 -0l0.5 0.1l0.5 0.2l0.5 0.3l0.5 0.3l0.5 0.2l0.5 0.2l0.5 -0.1l0.5 -0.2l0.5 -0.2l0.5 -0l0.5 -0l0.5 0.2l0.5 0.2l0.5 0.1l0.5 -0.1l0.5 -0.4l0.5 -0.8l0.5 -0.2l0.5 0.3l0.5 0.3l0.5 0.4l0.5 0.4l0.5 0.6l0.5 -0.1l0.5 -0.2l0.5 -0.2l0.5 -0.1l0.5 -0.5l0.5 -0.4l0.5 0.9l0.5 0.1l0.5 0.2l0.5 0.2l0.5 0.1l0.5 -0.5l0.5 -0l0.5 -0l0.5 -0l0.5 -0l0.5 -0l0.5 -0l0.5 -0l0.5 -0.1l0.5 -0.4l0.5 -0.4l0.5 -0.3l0.5 -0.2l0.5 0.2l0.5 0.3l0.5 0.4l0.5 0.4l0.5 -0l0.5 -0.1l0.5 -0.1l0.5 0.1l0.5 0.1l0.5 -0.7l0.5 -0.9l0.5 -0l0.5 0.9l0.5 -0.3l0.5 1l0.5 -0l0.5 -0l0.5 -0l0.5 -0l0.5 -0.4l0.5 -0.5l0.5 -0.4l0.5 -0.3l0.5 -0l0.5 0.3l0.5 0.4l0.5 0.5l0.5 0.1l0.5 -0.3l0.5 -0.4l0.5 -0.3l0.5 -0.2l0.5 -0l0.5 0.2l0.5 0.3l0.5 0.4l0.5 0.3l0.5 -0l0.5 -0.2l0.5 -0.2l0.5 -0.1l0.5 0.1l0.5 0.2l0.5 0.2l0.5 0.4l0.5 -0l0.5 -0l0.5 -0l0.5 -0l0.5 -0l0.5 -1.3l0.5 -0.2l0.5 1.5l0.5 -0.2l0.5 -0.5l0.5 -0.2l0.5 0.2l0.5 0.5l0.5 0.6l0.5 -0l0.5 -0L1897.5 211.5Z" fill="#1985f0"/>
<path d="M1400.6 165.3 V211.2 H1614.5" fill="none" stroke="#1e1c1d" stroke-width="1.7"/>
<path d="M1678.7 165.3 V211.5 H1897.5" fill="none" stroke="#1e1c1d" stroke-width="1.7"/>
<path d="M1400.6 281.1l0 -1.6l0.5 -0.8l0.5 -0.4l0.5 0.4l0.5 0.8l0.5 0.4l0.5 -0.1l0.5 -0.1l0.5 -0l0.5 -0.1l0.5 -0l0.5 -0l0.5 -0l0.5 0.1l0.5 -0l0.5 0.1l0.5 0.1l0.5 -0.2l0.5 -0l0.5 -0.1l0.5 -0l0.5 -0l0.5 -0l0.5 -0l0.5 -0l0.5 -0l0.5 -0l0.5 0.1l0.5 -0l0.5 -0.4l0.5 -0.4l0.5 -0.5l0.5 -0.4l0.5 -0.4l0.5 -0.1l0.5 0.1l0.5 0.4l0.5 0.4l0.5 0.5l0.5 0.4l0.5 0.1l0.5 -0.1l0.5 -0.1l0.5 -0.1l0.5 -0.1l0.5 -0l0.5 0.1l0.5 0.1l0.5 0.1l0.5 0.1l0.5 0.2l0.5 -0.7l0.5 -0.4l0.5 0.4l0.5 0.7l0.5 -0l0.5 -0.7l0.5 -0.5l0.5 -0l0.5 0.5l0.5 0.7l0.5 0.4l0.5 -0.3l0.5 -0.4l0.5 -0.4l0.5 -0.1l0.5 0.1l0.5 0.4l0.5 0.4l0.5 0.3l0.5 -0.2l0.5 -1.2l0.5 -0l0.5 1.2l0.5 -0l0.5 -0.4l0.5 -0.5l0.5 -0.4l0.5 -0.1l0.5 0.1l0.5 0.4l0.5 0.5l0.5 0.4l0.5 0.4l0.5 -0l0.5 -0l0.5 -0l0.5 -0l0.5 -0.4l0.5 -0.3l0.5 -0.4l0.5 -0.1l0.5 0.1l0.5 0.4l0.5 0.3l0.5 -0.1l0.5 -0.7l0.5 -0.7l0.5 -0.2l0.5 0.2l0.5 0.7l0.5 0.7l0.5 -0.4l0.5 -0.2l0.5 -0.2l0.5 -0.3l0.5 -0.1l0.5 -0.1l0.5 0.1l0.5 0.1l0.5 0.3l0.5 0.2l0.5 0.2l0.5 0.3l0.5 -0.4l0.5 -0.3l0.5 -0l0.5 0.3l0.5 0.4l0.5 -0.5l0.5 -0.2l0.5 -0.4l0.5 -0.3l0.5 -0.2l0.5 -0.1l0.5 0.1l0.5 0.2l0.5 0.3l0.5 0.4l0.5 0.2l0.5 0.8l0.5 -0l0.5 -0l0.5 -0l0.5 -0l0.5 -0l0.5 -0l0.5 -0l0.5 -0l0.5 -0l0.5 -0l0.5 -0.2l0.5 -0.3l0.5 -0.2l0.5 0.2l0.5 0.3l0.5 -0.5l0.5 -0.4l0.5 -0.5l0.5 -0.4l0.5 -0.1l0.5 0.1l0.5 0.4l0.5 0.5l0.5 0.4l0.5 0.3l0.5 -0.2l0.5 -0.1l0.5 0.1l0.5 0.2l0.5 0.1l0.5 -0.5l0.5 -0.4l0.5 -0l0.5 0.4l0.5 0.5l0.5 0.4l0.5 -0l0.5 -0l0.5 -0l0.5 -0l0.5 -0l0.5 -0l0.5 -0l0.5 -0l0.5 -0l0.5 -0l0.5 0.4l0.5 -0.1l0.5 -0.1l0.5 0.1l0.5 0.1l0.5 -0.5l0.5 -0.3l0.5 -0.2l0.5 -0.1l0.5 0.1l0.5 0.2l0.5 0.3l0.5 -0.6l0.5 -0.4l0.5 -0.3l0.5 -0l0.5 0.3l0.5 0.4l0.5 0.2l0.5 -0.1l0.5 -0l0.5 -0l0.5 -0l0.5 0.1l0.5 -0.1l0.5 -0.3l0.5 -0.3l0.5 -0.3l0.5 -0.2l0.5 -0l0.5 0.2l0.5 0.3l0.5 0.3l0.5 0.3l0.5 -0l0.5 -0l0.5 -0.1l0.5 -0l0.5 -0l0.5 0.1l0.5 -0l0.5 -0.2l0.5 -0.4l0.5 -0.5l0.5 -0.3l0.5 -0.1l0.5 0.1l0.5 0.3l0.5 0.5l0.5 0.4l0.5 0.7l0.5 -0l0.5 -0.1l0.5 -0.1l0.5 -0l0.5 -0l0.5 -0l0.5 0.1l0.5 0.1l0.5 -0l0.5 -0.9l0.5 -0.7l0.5 -0.4l0.5 0.4l0.5 0.7l0.5 0.5l0.5 -1.2l0.5 -0.6l0.5 0.6l0.5 1.2l0.5 -0.1l0.5 -0.3l0.5 -0.1l0.5 0.1l0.5 0.3l0.5 -0.6l0.5 -1l0.5 1l0.5 0.9l0.5 -0.5l0.5 -0.3l0.5 0.3l0.5 0.5l0.5 0.1l0.5 -1.4l0.5 -0l0.5 1.4l0.5 -0.3l0.5 -0.4l0.5 -0.4l0.5 -0.4l0.5 -0.2l0.5 -0l0.5 0.2l0.5 0.4l0.5 0.4l0.5 0.4l0.5 0.1l0.5 -0.5l0.5 -0.4l0.5 -0.2l0.5 0.2l0.5 0.4l0.5 0.5l0.5 0.6l0.5 -0.5l0.5 -0.6l0.5 -0.6l0.5 -0.3l0.5 -0l0.5 0.3l0.5 0.6l0.5 0.6l0.5 0.5l0.5 0.1l0.5 -0.3l0.5 -0.4l0.5 -0.4l0.5 -0.3l0.5 -0.1l0.5 0.1l0.5 0.3l0.5 0.4l0.5 0.4l0.5 0.3l0.5 -0.1l0.5 -0.2l0.5 -0.3l0.5 -0.2l0.5 -0.2l0.5 -0l0.5 -0l0.5 0.2l0.5 0.2l0.5 0.3l0.5 0.2l0.5 -0.9l0.5 -0.2l0.5 -0.2l0.5 -0.1l0.5 0.1l0.5 0.2l0.5 0.2l0.5 0.7l0.5 -1.2l0.5 -0.5l0.5 0.5l0.5 1.2l0.5 -0.4l0.5 -0.2l0.5 -0l0.5 0.2l0.5 -0.5l0.5 -1l0.5 -0.4l0.5 0.4l0.5 1l0.5 1.2l0.5 -0.2l0.5 -0.1l0.5 -0.1l0.5 -0l0.5 -0l0.5 0.1l0.5 0.1l0.5 0.2l0.5 -0.3l0.5 -0.5l0.5 -0.6l0.5 -0.3l0.5 -0l0.5 0.3l0.5 0.6l0.5 0.5l0.5 0.2l0.5 -0.1l0.5 -0.2l0.5 -0.1l0.5 -0.1l0.5 -0l0.5 0.1l0.5 0.1l0.5 0.2l0.5 0.1l0.5 -0.2l0.5 -0l0.5 -0l0.5 -0l0.5 0.4l0.5 -0l0.5 -0l0.5 -0l0.5 -0l0.5 -0l0.5 -0l0.5 -0l0.5 -0l0.5 -0l0.5 -0l0.5 -0.5l0.5 -0l0.5 -0l0.5 -0l0.5 -0l0.5 -0l0.5 -0l0.5 -0l0.5 -0l0.5 -0l0.5 -0.5l0.5 -1.2l0.5 -0l0.5 1.2l0.5 -0.1l0.5 -0l0.5 -0l0.5 0.2l0.5 -0l0.5 -0l0.5 -0.1l0.5 -0l0.5 -0l0.5 0.1l0.5 -0l0.5 -0l0.5 0.5l0.5 -0.2l0.5 -0.2l0.5 -0l0.5 0.2l0.5 0.2l0.5 -0.1l0.5 -0.9l0.5 -0.6l0.5 -0l0.5 0.6l0.5 0.9l0.5 -0.5l0.5 -0.2l0.5 -0l0.5 0.2l0.5 0.2l0.5 -0.3l0.5 0.4l0.5 -0l0.5 -0l0.5 0.2l0.5 0.3l0.5 -0l0.5 -0.1l0.5 -0l0.5 0.1L1614.5 281.1Z" fill="#f0157f"/>
<path d="M1678.7 283.6l0 -0.7l0.5 -0.1l0.5 -0.2l0.5 -0.2l0.5 -0l0.5 -0l0.5 0.2l0.5 0.2l0.5 0.1l0.5 -0.6l0.5 -0.2l0.5 -0.3l0.5 -0.3l0.5 -0.1l0.5 0.1l0.5 0.3l0.5 0.3l0.5 0.2l0.5 0.3l0.5 -0.5l0.5 0.5l0.5 0.4l0.5 -0.2l0.5 -0.2l0.5 -0.1l0.5 -0.2l0.5 -0l0.5 -0l0.5 -0l0.5 0.2l0.5 0.1l0.5 0.2l0.5 0.2l0.5 -0.3l0.5 -0.1l0.5 -0l0.5 -0.1l0.5 -0l0.5 -0l0.5 0.1l0.5 -0l0.5 0.1l0.5 -0.1l0.5 -0.3l0.5 0.3l0.5 -0.2l0.5 -0l0.5 -0l0.5 -0l0.5 -0l0.5 -0l0.5 -0l0.5 -0l0.5 -0l0.5 -0l0.5 0.6l0.5 -0l0.5 -0l0.5 -0l0.5 -0l0.5 -0.1l0.5 -0l0.5 -0l0.5 -0l0.5 0.1l0.5 -0.7l0.5 -0.2l0.5 -0.1l0.5 -0l0.5 0.1l0.5 0.2l0.5 0.1l0.5 -0.1l0.5 -0l0.5 -0.1l0.5 -0l0.5 0.1l0.5 -0l0.5 0.1l0.5 0.1l0.5 -0.5l0.5 -0.3l0.5 -0l0.5 0.3l0.5 0.5l0.5 0.3l0.5 -0.1l0.5 -0.1l0.5 -0.1l0.5 -0l0.5 -0l0.5 0.1l0.5 0.1l0.5 0.1l0.5 -0l0.5 -0l0.5 -0l0.5 -0.1l0.5 -0l0.5 -0l0.5 0.1l0.5 -0l0.5 -0l0.5 0.1l0.5 -0.1l0.5 -0l0.5 -0l0.5 -0l0.5 -0l0.5 -0l0.5 0.1l0.5 -0.3l0.5 -0.6l0.5 -0l0.5 0.6l0.5 0.4l0.5 -0l0.5 -0.1l0.5 -0l0.5 -0l0.5 -0l0.5 0.1l0.5 -0l0.5 -0.1l0.5 -0.2l0.5 -0.1l0.5 -0.2l0.5 -0.1l0.5 -0l0.5 -0l0.5 -0l0.5 0.1l0.5 0.2l0.5 0.1l0.5 0.2l0.5 -0.2l0.5 -0.3l0.5 -0.2l0.5 0.2l0.5 0.3l0.5 0.2l0.5 -0l0.5 -0l0.5 -0l0.5 -0l0.5 -0l0.5 -0l0.5 -0l0.5 -0l0.5 -0l0.5 0.2l0.5 -0.1l0.5 -0.1l0.5 -0.1l0.5 -0.1l0.5 -0l0.5 0.1l0.5 0.1l0.5 0.1l0.5 0.1l0.5 -0.5l0.5 -0.1l0.5 -0l0.5 0.1l0.5 0.2l0.5 -0.5l0.5 0.5l0.5 -0.2l0.5 -0l0.5 -0l0.5 -0l0.5 -0l0.5 -0l0.5 -0l0.5 -0l0.5 -0l0.5 0.5l0.5 -0.1l0.5 -0l0.5 0.1l0.5 -0.2l0.5 -0l0.5 -0.1l0.5 -0l0.5 -0.1l0.5 -0l0.5 -0l0.5 0.1l0.5 -0l0.5 0.1l0.5 -0l0.5 -0.7l0.5 -0.4l0.5 -0.3l0.5 -0l0.5 0.3l0.5 0.4l0.5 0.4l0.5 -0l0.5 -0l0.5 -0l0.5 -0l0.5 0.5l0.5 -0l0.5 -0l0.5 -0l0.5 -0l0.5 -0l0.5 -0.9l0.5 -0.4l0.5 0.4l0.5 0.2l0.5 -0.1l0.5 -0.1l0.5 -0.1l0.5 -0.1l0.5 -0.1l0.5 -0l0.5 0.1l0.5 0.1l0.5 0.1l0.5 0.1l0.5 -0.5l0.5 -0.1l0.5 0.7l0.5 0.1l0.5 -0.2l0.5 -0.2l0.5 -0l0.5 -0l0.5 -0l0.5 0.2l0.5 0.2l0.5 0.2l0.5 0.1l0.5 -0.1l0.5 -0.1l0.5 -0.1l0.5 -0l0.5 0.1l0.5 0.1l0.5 -0.1l0.5 -0l0.5 -0.1l0.5 -0.1l0.5 -0.1l0.5 -0l0.5 -0l0.5 0.1l0.5 0.1l0.5 0.1l0.5 -0l0.5 -0.3l0.5 -0.3l0.5 -0.3l0.5 -0.2l0.5 0.2l0.5 0.3l0.5 0.3l0.5 0.3l0.5 -0.1l0.5 -0.2l0.5 -0.1l0.5 -0.1l0.5 -0l0.5 -0.1l0.5 -1.1l0.5 -0.2l0.5 1l0.5 1l0.5 -0.3l0.5 -0.3l0.5 -0.1l0.5 0.1l0.5 0.3l0.5 0.3l0.5 -0.2l0.5 -0l0.5 -0.1l0.5 -0l0.5 -0l0.5 -0l0.5 -0l0.5 -0l0.5 0.1l0.5 -0l0.5 -0.3l0.5 -0.4l0.5 -0.2l0.5 -0l0.5 0.2l0.5 0.4l0.5 0.1l0.5 -0.1l0.5 -0.1l0.5 -0.1l0.5 -4.5l0.5 -8.1l0.5 -3.1l0.5 6.3l0.5 3l0.5 -1.7l0.5 -0.2l0.5 1.5l0.5 2.4l0.5 2.4l0.5 1.8l0.5 0.6l0.5 0.1l0.5 0.2l0.5 0.2l0.5 0.2l0.5 -0l0.5 -0.1l0.5 -0l0.5 0.1l0.5 -0l0.5 -0.4l0.5 -0.5l0.5 0.5l0.5 -0.2l0.5 -0.1l0.5 -0l0.5 -0l0.5 -0l0.5 0.1l0.5 -0.1l0.5 -0l0.5 -0l0.5 -0l0.5 -0l0.5 -0l0.5 -0l0.5 -0l0.5 -0l0.5 0.4l0.5 -0.1l0.5 -0.1l0.5 -0l0.5 -0.1l0.5 0.1l0.5 -0l0.5 0.1l0.5 0.1l0.5 -0.4l0.5 -0.1l0.5 -0.3l0.5 -3l0.5 -4.7l0.5 -4.2l0.5 -0.5l0.5 3.7l0.5 3.5l0.5 -0.1l0.5 0.7l0.5 1.3l0.5 1.4l0.5 1.4l0.5 0.9l0.5 0.4l0.5 -0l0.5 0.1l0.5 0.1l0.5 -0.5l0.5 -0.1l0.5 -0l0.5 -0l0.5 -0l0.5 0.1l0.5 0.2l0.5 -0.2l0.5 -0.2l0.5 -0.1l0.5 -0.1l0.5 0.1l0.5 0.1l0.5 0.2l0.5 0.2l0.5 -0.1l0.5 -0.1l0.5 -0.1l0.5 -0l0.5 0.1l0.5 0.1l0.5 -0l0.5 -0.1l0.5 -0.2l0.5 -0.2l0.5 -0.1l0.5 -0l0.5 0.1l0.5 0.2l0.5 0.2l0.5 0.1l0.5 0.5l0.5 -0.1l0.5 -0.1l0.5 -0.1l0.5 -0l0.5 0.1l0.5 0.1l0.5 0.1l0.5 -0.3l0.5 -0l0.5 -0.1l0.5 -0l0.5 -0l0.5 -0.1l0.5 -0l0.5 0.1l0.5 -0l0.5 -0l0.5 0.1l0.5 -0l0.5 -0.3l0.5 -0.1l0.5 -0l0.5 -0.1l0.5 0.1l0.5 -0l0.5 0.1l0.5 0.3l0.5 -0.1l0.5 -0.1l0.5 -0.1l0.5 -0l0.5 -0l0.5 0.1l0.5 0.1l0.5 0.1l0.5 -0.4l0.5 -0.1l0.5 -0.2l0.5 -0.1l0.5 0.1l0.5 0.2l0.5 0.1l0.5 0.1l0.5 -0L1897.5 283.6Z" fill="#f0157f"/>
<path d="M1400.6 235 V281.1 H1614.5" fill="none" stroke="#1e1c1d" stroke-width="1.7"/>
<path d="M1678.7 237.7 V283.6 H1897.5" fill="none" stroke="#1e1c1d" stroke-width="1.7"/>
<path d="M1400.6 351.9l0 -1.9l0.5 -0.6l0.5 -0.7l0.5 -0.6l0.5 -0.4l0.5 -0l0.5 0.4l0.5 0.6l0.5 0.7l0.5 0.6l0.5 -0.2l0.5 -1.6l0.5 -0l0.5 1.6l0.5 1.1l0.5 -0.5l0.5 -0.7l0.5 -0.6l0.5 -0.3l0.5 -0l0.5 0.3l0.5 0.6l0.5 0.7l0.5 0.5l0.5 -1.1l0.5 -0.2l0.5 -0l0.5 0.2l0.5 1.2l0.5 -0l0.5 -0l0.5 -1l0.5 -0.1l0.5 -0.2l0.5 -0.2l0.5 -0.1l0.5 -0l0.5 -0l0.5 0.1l0.5 0.2l0.5 0.2l0.5 0.1l0.5 0.1l0.5 -0.4l0.5 -0.4l0.5 -0.4l0.5 -0.4l0.5 -0.1l0.5 -0l0.5 0.1l0.5 0.4l0.5 0.4l0.5 0.4l0.5 0.4l0.5 0.9l0.5 -0.4l0.5 -0.4l0.5 -0.5l0.5 -0.3l0.5 -0.2l0.5 -0l0.5 0.2l0.5 0.3l0.5 0.5l0.5 0.4l0.5 0.4l0.5 -0.8l0.5 -0.7l0.5 -0.5l0.5 -0l0.5 0.5l0.5 0.7l0.5 -0.3l0.5 -0.6l0.5 -0.6l0.5 -0.5l0.5 -0.3l0.5 -0l0.5 0.3l0.5 0.5l0.5 0.6l0.5 0.6l0.5 0.5l0.5 -0.5l0.5 -0.6l0.5 -0.6l0.5 -0.3l0.5 -0.2l0.5 0.2l0.5 0.3l0.5 0.6l0.5 0.6l0.5 0.5l0.5 0.6l0.5 -0.2l0.5 -0.1l0.5 -0.2l0.5 -0.1l0.5 -0.1l0.5 0.1l0.5 0.1l0.5 0.2l0.5 0.1l0.5 0.2l0.5 -0.5l0.5 -0.4l0.5 -0.4l0.5 -0.3l0.5 -0.7l0.5 -0.3l0.5 0.6l0.5 1.1l0.5 0.4l0.5 -0.2l0.5 -0.1l0.5 -0.1l0.5 -0l0.5 -0l0.5 -0l0.5 0.1l0.5 0.1l0.5 0.6l0.5 -0.5l0.5 -0l0.5 0.5l0.5 -0.2l0.5 -0l0.5 -0l0.5 -0l0.5 -0l0.5 -0l0.5 -0l0.5 -0l0.5 -0l0.5 -0l0.5 -0l0.5 -0.3l0.5 -0.6l0.5 -0.5l0.5 0.1l0.5 0.2l0.5 0.4l0.5 0.6l0.5 -0.1l0.5 -0.1l0.5 -0l0.5 0.1l0.5 0.1l0.5 0.2l0.5 0.1l0.5 -0l0.5 -0.4l0.5 0.4l0.5 -0.2l0.5 -0.6l0.5 -0.5l0.5 -0l0.5 0.5l0.5 0.6l0.5 -0.4l0.5 -0l0.5 -0l0.5 -0l0.5 -0l0.5 -0l0.5 -0l0.5 -0l0.5 -0.3l0.5 -0.8l0.5 -0.3l0.5 0.5l0.5 0.4l0.5 -0.5l0.5 0.5l0.5 0.9l0.5 -0.1l0.5 -0.2l0.5 -0.6l0.5 -0.3l0.5 -0.1l0.5 0.2l0.5 0.4l0.5 0.6l0.5 -0l0.5 0.1l0.5 -0.7l0.5 -0.2l0.5 -0.1l0.5 0.1l0.5 0.2l0.5 -0.3l0.5 -1.1l0.5 1.1l0.5 0.6l0.5 -0.2l0.5 -0.2l0.5 -0.2l0.5 -0.1l0.5 -0l0.5 0.1l0.5 0.2l0.5 0.2l0.5 0.2l0.5 -0.1l0.5 -1.4l0.5 -0l0.5 1.2l0.5 -0.6l0.5 -0.4l0.5 -0.1l0.5 0.3l0.5 0.5l0.5 0.6l0.5 -0.5l0.5 -0.6l0.5 -0.2l0.5 0.2l0.5 0.6l0.5 0.5l0.5 0.3l0.5 -0.1l0.5 -0.7l0.5 -1l0.5 -1l0.5 -0.7l0.5 -0.2l0.5 0.4l0.5 0.9l0.5 1l0.5 0.7l0.5 -0.3l0.5 -0.2l0.5 -0.2l0.5 -0.1l0.5 -0l0.5 0.1l0.5 0.2l0.5 0.2l0.5 -1.3l0.5 -1.6l0.5 -1.1l0.5 -0.1l0.5 0.9l0.5 1.6l0.5 1.5l0.5 0.4l0.5 -0.3l0.5 -0.3l0.5 -0.3l0.5 -0.2l0.5 -0.2l0.5 -0l0.5 0.2l0.5 0.2l0.5 -0.9l0.5 -3.5l0.5 -1.7l0.5 1.7l0.5 3.5l0.5 1.9l0.5 0.2l0.5 -0.3l0.5 -0.1l0.5 0.1l0.5 0.3l0.5 -0.3l0.5 -0l0.5 -0l0.5 -0l0.5 -0.5l0.5 -1.2l0.5 -1.2l0.5 -0.9l0.5 -0.2l0.5 0.5l0.5 1l0.5 1.3l0.5 1.2l0.5 -0.6l0.5 -4.4l0.5 -5.2l0.5 -1.7l0.5 3.6l0.5 5.4l0.5 2.9l0.5 0.7l0.5 -0.1l0.5 -0.2l0.5 -0.1l0.5 -0.1l0.5 -0l0.5 -0l0.5 0.1l0.5 0.1l0.5 0.2l0.5 0.1l0.5 -0.6l0.5 -1.4l0.5 -0l0.5 1.4l0.5 -0.1l0.5 -0.2l0.5 -0.1l0.5 -0.2l0.5 -0.1l0.5 -0l0.5 0.1l0.5 0.2l0.5 0.1l0.5 0.2l0.5 -0.1l0.5 -0.2l0.5 -0.3l0.5 -0.3l0.5 -0.2l0.5 -0.1l0.5 -0l0.5 0.1l0.5 0.2l0.5 0.3l0.5 0.3l0.5 0.2l0.5 0.6l0.5 -0.1l0.5 -0.1l0.5 -0l0.5 -0l0.5 -0l0.5 0.1l0.5 0.1l0.5 0.2l0.5 -0.2l0.5 -0.2l0.5 -0.1l0.5 -0.1l0.5 -0.1l0.5 0.1l0.5 0.1l0.5 0.1l0.5 0.2l0.5 0.2l0.5 -0.1l0.5 -1.1l0.5 1.1l0.5 -1.4l0.5 -5.7l0.5 -10l0.5 -10.2l0.5 -3.1l0.5 6.7l0.5 11l0.5 7.3l0.5 -2.3l0.5 -2.1l0.5 -1.4l0.5 -0.4l0.5 0.8l0.5 1.7l0.5 2.3l0.5 2.3l0.5 2l0.5 1.6l0.5 0.8l0.5 -0.6l0.5 -0.6l0.5 -0.6l0.5 -0.9l0.5 -0.9l0.5 -0.8l0.5 -0.6l0.5 -0.4l0.5 -0.1l0.5 0.2l0.5 0.5l0.5 0.7l0.5 0.9l0.5 0.8l0.5 0.9l0.5 0.8l0.5 0.6l0.5 -0l0.5 -0l0.5 -0l0.5 -0l0.5 -0l0.5 -0l0.5 -0.4l0.5 -0.7l0.5 -0.7l0.5 -0.6l0.5 -0.4l0.5 -0.1l0.5 0.2l0.5 0.5l0.5 0.6l0.5 0.7l0.5 0.7l0.5 0.3l0.5 -0.1l0.5 -0.2l0.5 -0.2l0.5 -0.1l0.5 -0.1l0.5 0.1l0.5 0.1l0.5 0.2l0.5 0.2l0.5 0.1l0.5 -0.2l0.5 -0l0.5 -0.1l0.5 -0l0.5 -0l0.5 0.1l0.5 -0l0.5 -0.2l0.5 -0l0.5 -0l0.5 -0l0.5 -0l0.5 -0l0.5 -0l0.5 -0l0.5 -0l0.5 0.6l0.5 -0.7l0.5 -0.9l0.5 -0.5l0.5 -0L1614.5 351.9Z" fill="#f0157f"/>
<path d="M1678.7 353.4l0 -1.3l0.5 -0l0.5 -0l0.5 -0l0.5 -0.1l0.5 -0.5l0.5 0.5l0.5 0.7l0.5 -0l0.5 -0l0.5 -0l0.5 -0l0.5 -0l0.5 -0l0.5 -0l0.5 -0l0.5 -0l0.5 -0l0.5 -0l0.5 -0l0.5 -0.5l0.5 -0l0.5 0.5l0.5 -0.2l0.5 -0.2l0.5 -0.1l0.5 -0.2l0.5 -0l0.5 0.2l0.5 0.1l0.5 0.2l0.5 0.4l0.5 -0.2l0.5 -0.2l0.5 -0.2l0.5 -0.1l0.5 -0l0.5 0.1l0.5 0.2l0.5 0.2l0.5 0.2l0.5 -0.1l0.5 -0l0.5 -0.1l0.5 -0.1l0.5 -0.1l0.5 -0.1l0.5 -0l0.5 0.1l0.5 0.1l0.5 0.1l0.5 0.1l0.5 -0l0.5 -0.3l0.5 -0.3l0.5 -0.2l0.5 -0.2l0.5 -0.1l0.5 0.1l0.5 0.2l0.5 0.2l0.5 0.3l0.5 -0.3l0.5 -0l0.5 -0l0.5 -0l0.5 -0l0.5 -0l0.5 -0l0.5 -0l0.5 0.1l0.5 -0.2l0.5 -0.2l0.5 -0.1l0.5 0.1l0.5 0.2l0.5 0.2l0.5 -0.3l0.5 -0.6l0.5 0.6l0.5 0.1l0.5 -0.3l0.5 0.3l0.5 0.6l0.5 -0l0.5 -0l0.5 -0l0.5 0.1l0.5 -0.1l0.5 -0.2l0.5 -0.1l0.5 0.1l0.5 0.2l0.5 0.1l0.5 -0.7l0.5 -0.5l0.5 -0.2l0.5 0.2l0.5 0.5l0.5 -0.1l0.5 -0.3l0.5 0.3l0.5 -0l0.5 -0.3l0.5 -0.4l0.5 -0.2l0.5 -0l0.5 0.2l0.5 0.4l0.5 0.3l0.5 0.4l0.5 -0.5l0.5 0.5l0.5 0.3l0.5 -0.1l0.5 -0.1l0.5 -0l0.5 -0l0.5 -0l0.5 -0l0.5 0.1l0.5 0.1l0.5 0.1l0.5 -0.5l0.5 -0.2l0.5 0.2l0.5 0.5l0.5 -0.1l0.5 -0.4l0.5 -0.3l0.5 -0l0.5 0.3l0.5 0.4l0.5 0.2l0.5 -0l0.5 -0l0.5 -0l0.5 -0l0.5 -0l0.5 -0l0.5 -0.1l0.5 -0l0.5 -0l0.5 -0l0.5 0.1l0.5 -0.1l0.5 -0.4l0.5 -0.3l0.5 -0.1l0.5 0.1l0.5 0.3l0.5 0.4l0.5 -0.6l0.5 -0.2l0.5 -0l0.5 -0l0.5 -0l0.5 0.2l0.5 0.2l0.5 -0l0.5 -0.1l0.5 -0l0.5 -0l0.5 -0l0.5 -0l0.5 0.1l0.5 -0l0.5 -0.1l0.5 -0.1l0.5 -0.3l0.5 -0.1l0.5 -0.1l0.5 0.1l0.5 0.1l0.5 0.3l0.5 0.1l0.5 -0.3l0.5 -0.5l0.5 0.5l0.5 0.9l0.5 -0.1l0.5 -0.1l0.5 -0.1l0.5 -0l0.5 0.1l0.5 0.1l0.5 0.1l0.5 -0.1l0.5 -0l0.5 -0.1l0.5 -0l0.5 -0l0.5 0.1l0.5 -0l0.5 -0.7l0.5 -0l0.5 -0l0.5 -0l0.5 -0l0.5 0.2l0.5 -0l0.5 -0l0.5 -0l0.5 -0l0.5 -0l0.5 0.3l0.5 -0.1l0.5 -0.1l0.5 -0.1l0.5 -0.1l0.5 -0l0.5 -0l0.5 -0l0.5 0.1l0.5 0.1l0.5 0.1l0.5 0.1l0.5 -0l0.5 -0l0.5 -0.2l0.5 -3.5l0.5 -6.1l0.5 -2.2l0.5 4.7l0.5 1.4l0.5 -0.1l0.5 1.5l0.5 2.1l0.5 1.8l0.5 0.6l0.5 -0l0.5 -0l0.5 -0l0.5 -0l0.5 -0l0.5 -0l0.5 -0l0.5 -3.8l0.5 -9.2l0.5 -7.9l0.5 3.8l0.5 9.5l0.5 -3l0.5 -0.3l0.5 2.5l0.5 3.8l0.5 3l0.5 1.6l0.5 -0.1l0.5 -0.2l0.5 -0.1l0.5 -0.1l0.5 0.1l0.5 0.1l0.5 0.2l0.5 0.1l0.5 0.2l0.5 -0.6l0.5 -0l0.5 -0l0.5 -0.1l0.5 -0l0.5 0.1l0.5 -0l0.5 -0l0.5 0.3l0.5 -0.3l0.5 -0.9l0.5 -0.8l0.5 -0l0.5 0.6l0.5 0.9l0.5 0.6l0.5 -0l0.5 -0.1l0.5 -0l0.5 -0.1l0.5 -0l0.5 -0l0.5 -0l0.5 0.1l0.5 -0l0.5 0.1l0.5 -0l0.5 -2l0.5 -8.1l0.5 -11.3l0.5 -1.5l0.5 10.5l0.5 4.8l0.5 -3l0.5 -0.3l0.5 2.5l0.5 3.8l0.5 3l0.5 0.5l0.5 -2.1l0.5 -13l0.5 -16.9l0.5 2.5l0.5 16l0.5 -2.2l0.5 -0.2l0.5 1.8l0.5 -0.4l0.5 -11.6l0.5 5.8l0.5 14l0.5 6.6l0.5 -0l0.5 -0l0.5 0.2l0.5 0.2l0.5 0.3l0.5 -0.1l0.5 -0.1l0.5 -0.1l0.5 -0.1l0.5 0.1l0.5 0.1l0.5 0.1l0.5 0.1l0.5 0.2l0.5 -0l0.5 -0l0.5 -0l0.5 -0l0.5 -0l0.5 -0l0.5 -0l0.5 -0l0.5 -0l0.5 -0l0.5 -0.2l0.5 -0.2l0.5 -0.1l0.5 -0l0.5 0.1l0.5 0.2l0.5 0.2l0.5 -0l0.5 -0.1l0.5 -0l0.5 -0l0.5 0.1l0.5 0.1l0.5 -1.1l0.5 -2.2l0.5 -3.1l0.5 -2.5l0.5 -0.3l0.5 2.2l0.5 3.1l0.5 2.5l0.5 1l0.5 0.5l0.5 -0l0.5 -0.1l0.5 -0l0.5 0.1l0.5 -0l0.5 -0.1l0.5 -0.2l0.5 -0.2l0.5 -0.1l0.5 0.1l0.5 0.2l0.5 0.2l0.5 -0.7l0.5 -0.1l0.5 0.1l0.5 0.1l0.5 -0l0.5 -0l0.5 -0l0.5 0.3l0.5 -0.2l0.5 -0.2l0.5 -0.1l0.5 0.1l0.5 0.2l0.5 0.2l0.5 0.2l0.5 -0.2l0.5 -0.2l0.5 -0.1l0.5 -0l0.5 0.1l0.5 0.2l0.5 0.2l0.5 -0.6l0.5 -0l0.5 -0l0.5 -0l0.5 -0l0.5 -0l0.5 -0l0.5 -0l0.5 -0l0.5 0.6l0.5 -0.2l0.5 -0l0.5 0.2l0.5 -0.1l0.5 -0l0.5 -0l0.5 -0l0.5 -0l0.5 -0l0.5 -0l0.5 -0l0.5 -0l0.5 -0l0.5 -0l0.5 -0.4l0.5 -0.1l0.5 -0l0.5 -0.1l0.5 0.1l0.5 -0l0.5 0.1l0.5 0.4l0.5 -0l0.5 -0.1l0.5 -0l0.5 -0l0.5 -0l0.5 -0l0.5 0.1l0.5 -0l0.5 -0.2l0.5 -0l0.5 -0l0.5 -0l0.5 -0l0.5 -0l0.5 -0l0.5 -0l0.5 0.4L1897.5 353.4Z" fill="#f0157f"/>
<path d="M1400.6 305.8 V351.9 H1614.5" fill="none" stroke="#1e1c1d" stroke-width="1.7"/>
<path d="M1678.7 308.2 V353.4 H1897.5" fill="none" stroke="#1e1c1d" stroke-width="1.7"/>
<path d="M1400.6 422.4l0 -1.8l0.5 -1.5l0.5 1.5l0.5 0.1l0.5 -0l0.5 -0l0.5 -0l0.5 -0l0.5 -0l0.5 -0l0.5 -0l0.5 0.9l0.5 -0.1l0.5 -0.1l0.5 0.1l0.5 0.1l0.5 -0.1l0.5 -0l0.5 -0l0.5 -0l0.5 -0l0.5 -0l0.5 -0l0.5 -0l0.5 -0.6l0.5 -0.4l0.5 -0.4l0.5 -0.1l0.5 0.1l0.5 0.4l0.5 0.4l0.5 0.1l0.5 -0.4l0.5 -0.4l0.5 -0.2l0.5 0.2l0.5 0.4l0.5 0.4l0.5 0.4l0.5 -1l0.5 -1l0.5 -0.4l0.5 0.4l0.5 1l0.5 -0l0.5 -0.6l0.5 -0.7l0.5 0.1l0.5 0.3l0.5 0.5l0.5 0.4l0.5 -0.2l0.5 0.2l0.5 0.5l0.5 0.6l0.5 -0.9l0.5 -0.6l0.5 -0.6l0.5 -0.7l0.5 -0.5l0.5 -0.3l0.5 -0l0.5 0.3l0.5 0.5l0.5 0.7l0.5 0.6l0.5 0.6l0.5 -0.5l0.5 -1.3l0.5 1.3l0.5 0.3l0.5 -0.4l0.5 -0.5l0.5 -0.4l0.5 -0.3l0.5 -0l0.5 0.3l0.5 0.4l0.5 0.5l0.5 0.4l0.5 0.3l0.5 -1.4l0.5 -0.6l0.5 0.6l0.5 1.4l0.5 0.1l0.5 -0.2l0.5 0.2l0.5 0.8l0.5 -0l0.5 -0l0.5 -0l0.5 -0.6l0.5 -0.1l0.5 -0.2l0.5 -0.6l0.5 -0.4l0.5 -0.1l0.5 0.2l0.5 0.5l0.5 -0.4l0.5 -0.4l0.5 -0.1l0.5 0.1l0.5 0.4l0.5 0.6l0.5 0.5l0.5 -0.2l0.5 -0.2l0.5 -0.2l0.5 -0.2l0.5 -0.1l0.5 0.1l0.5 0.2l0.5 0.2l0.5 0.2l0.5 -0.1l0.5 -0.3l0.5 -0.4l0.5 -0.3l0.5 -0.2l0.5 -0l0.5 0.2l0.5 0.3l0.5 0.4l0.5 0.3l0.5 0.9l0.5 -0.4l0.5 -0.5l0.5 -0.5l0.5 -0.4l0.5 -0.2l0.5 -0l0.5 0.2l0.5 0.4l0.5 0.5l0.5 0.5l0.5 0.4l0.5 -0.2l0.5 -0.6l0.5 -0.7l0.5 -0.6l0.5 -0.4l0.5 -0l0.5 0.4l0.5 0.6l0.5 0.7l0.5 0.6l0.5 -0.6l0.5 -0.8l0.5 -0.5l0.5 -0l0.5 0.5l0.5 0.8l0.5 0.7l0.5 -0.1l0.5 -0l0.5 -0.1l0.5 0.1l0.5 -0l0.5 0.1l0.5 -0.6l0.5 -0l0.5 -0l0.5 -0l0.5 -0.2l0.5 -1.3l0.5 -1l0.5 -0l0.5 1l0.5 1.3l0.5 0.7l0.5 -0l0.5 -0.1l0.5 -0l0.5 0.1l0.5 -0l0.5 -0.8l0.5 -0.7l0.5 -0.6l0.5 -0l0.5 0.6l0.5 0.7l0.5 0.2l0.5 -0.7l0.5 0.7l0.5 0.8l0.5 -0.6l0.5 -0.4l0.5 -0l0.5 0.4l0.5 0.6l0.5 -0.7l0.5 -0.6l0.5 -0.5l0.5 -0.2l0.5 0.2l0.5 -0.4l0.5 -0.5l0.5 -0.1l0.5 0.3l0.5 0.6l0.5 0.8l0.5 0.1l0.5 -0.5l0.5 -0.4l0.5 -0.1l0.5 0.1l0.5 0.4l0.5 0.5l0.5 0.5l0.5 -0.4l0.5 -1.6l0.5 -0l0.5 1.6l0.5 0.9l0.5 -0.5l0.5 -0.6l0.5 -0.5l0.5 -0.5l0.5 -0.3l0.5 -0l0.5 0.3l0.5 -0.1l0.5 -0.5l0.5 -0.1l0.5 0.3l0.5 0.6l0.5 0.8l0.5 0.6l0.5 -0.2l0.5 -0.1l0.5 -0l0.5 -0l0.5 0.1l0.5 0.2l0.5 0.1l0.5 0.2l0.5 0.1l0.5 -0l0.5 -0l0.5 -0l0.5 -0l0.5 -0l0.5 -0l0.5 -0.4l0.5 -0.7l0.5 -0.6l0.5 -0.5l0.5 -0.1l0.5 0.3l0.5 0.1l0.5 0.3l0.5 0.7l0.5 0.6l0.5 -0l0.5 -0l0.5 0.3l0.5 -0.4l0.5 -0l0.5 0.4l0.5 -0.1l0.5 -1.1l0.5 -0.7l0.5 -0l0.5 0.7l0.5 1.1l0.5 -0.7l0.5 -1.4l0.5 -0l0.5 1.4l0.5 -0.1l0.5 -0.6l0.5 -0.6l0.5 -0.5l0.5 -0.1l0.5 0.1l0.5 0.5l0.5 0.6l0.5 0.6l0.5 0.2l0.5 -0.7l0.5 -0.6l0.5 -0l0.5 0.6l0.5 0.7l0.5 0.1l0.5 -0.2l0.5 -0l0.5 -0l0.5 0.2l0.5 0.5l0.5 -0.2l0.5 -0.2l0.5 -0.2l0.5 -0.1l0.5 0.1l0.5 0.2l0.5 0.2l0.5 0.2l0.5 -0.1l0.5 -1.2l0.5 -1l0.5 -0l0.5 1l0.5 1.2l0.5 0.2l0.5 -0.5l0.5 -0.5l0.5 -0.5l0.5 -0.3l0.5 -0.2l0.5 0.2l0.5 0.3l0.5 0.1l0.5 -1.4l0.5 -1.4l0.5 -1.2l0.5 -0.6l0.5 0.3l0.5 0.9l0.5 1.4l0.5 1.4l0.5 1.2l0.5 0.7l0.5 -0l0.5 -0l0.5 -0l0.5 -0l0.5 -0.4l0.5 -0.2l0.5 -0.3l0.5 -0.3l0.5 -0.2l0.5 -0.1l0.5 -0l0.5 0.1l0.5 0.2l0.5 0.3l0.5 0.3l0.5 -0.4l0.5 -0.6l0.5 -0.5l0.5 -0.1l0.5 0.3l0.5 0.5l0.5 0.7l0.5 0.6l0.5 0.2l0.5 -0.3l0.5 -0.5l0.5 -0.4l0.5 -0.2l0.5 -0.1l0.5 0.1l0.5 0.2l0.5 0.4l0.5 0.5l0.5 0.3l0.5 -0.7l0.5 -0.1l0.5 -0.2l0.5 -0.1l0.5 -0.1l0.5 -0.1l0.5 0.1l0.5 0.1l0.5 0.1l0.5 0.2l0.5 0.1l0.5 0.6l0.5 -0.8l0.5 -0.4l0.5 0.4l0.5 0.8l0.5 -0.9l0.5 -0.5l0.5 -0.7l0.5 -0.6l0.5 -0.4l0.5 -0.1l0.5 0.1l0.5 0.4l0.5 0.6l0.5 0.7l0.5 0.5l0.5 0.5l0.5 -0.4l0.5 -0.4l0.5 -0.2l0.5 0.2l0.5 0.4l0.5 0.4l0.5 -0.6l0.5 -1.1l0.5 1.1l0.5 1l0.5 -0l0.5 -0l0.5 -0l0.5 -0l0.5 -0l0.5 -0l0.5 -0l0.5 -0l0.5 -0l0.5 -0l0.5 -0l0.5 -0.3l0.5 -0.4l0.5 -0.6l0.5 -0.5l0.5 -0.4l0.5 -0.2l0.5 0.2l0.5 0.4l0.5 0.5l0.5 0.6l0.5 0.4l0.5 -0.2l0.5 -0.8l0.5 -0.8l0.5 -0.5l0.5 -0l0.5 0.5l0.5 0.8l0.5 0.8l0.5 -0.1l0.5 -0.9L1614.5 422.4Z" fill="#0e3c84"/>
<path d="M1678.7 422.6l0 -0.8l0.5 -0.2l0.5 -0.4l0.5 -0.2l0.5 -0.1l0.5 0.1l0.5 0.2l0.5 0.4l0.5 0.2l0.5 -0.4l0.5 -0.1l0.5 -0.2l0.5 -0.1l0.5 -0.1l0.5 0.1l0.5 0.1l0.5 0.2l0.5 0.1l0.5 0.2l0.5 -0.2l0.5 -0.1l0.5 0.1l0.5 0.2l0.5 -0.4l0.5 -0.1l0.5 -0.3l0.5 -0.2l0.5 -0.1l0.5 -0l0.5 0.1l0.5 0.2l0.5 0.3l0.5 0.1l0.5 -0.1l0.5 -0.6l0.5 -0.3l0.5 0.3l0.5 0.6l0.5 0.6l0.5 -0l0.5 -0.1l0.5 -0l0.5 0.1l0.5 -0l0.5 0.1l0.5 -0.4l0.5 -0.4l0.5 -0.2l0.5 -0l0.5 0.2l0.5 0.4l0.5 0.4l0.5 0.2l0.5 -0.1l0.5 -0.2l0.5 -0.1l0.5 -0.1l0.5 0.1l0.5 0.1l0.5 0.2l0.5 0.1l0.5 -0.4l0.5 -0.3l0.5 -0.2l0.5 0.2l0.5 0.3l0.5 0.2l0.5 -0l0.5 -0l0.5 -0l0.5 -0l0.5 -0l0.5 -0l0.5 -0l0.5 -0l0.5 -0l0.5 -0l0.5 -0.1l0.5 -0l0.5 -0l0.5 -0l0.5 -0l0.5 -0l0.5 -0l0.5 -0l0.5 -0l0.5 -0l0.5 -0.3l0.5 -0.2l0.5 -0.3l0.5 -0.2l0.5 -0.2l0.5 -0l0.5 -0l0.5 0.2l0.5 0.2l0.5 0.3l0.5 0.2l0.5 0.3l0.5 -0.2l0.5 -0.2l0.5 -0.2l0.5 -0.2l0.5 -0l0.5 -0l0.5 0.2l0.5 0.2l0.5 0.2l0.5 0.2l0.5 0.3l0.5 -0.3l0.5 -0.2l0.5 -0.2l0.5 -0l0.5 0.2l0.5 0.2l0.5 0.3l0.5 -0l0.5 -0.2l0.5 -0.2l0.5 -0.2l0.5 -0.2l0.5 -0l0.5 -0l0.5 -0l0.5 0.2l0.5 0.2l0.5 0.2l0.5 0.2l0.5 -0.7l0.5 -0.3l0.5 -0.2l0.5 0.2l0.5 0.3l0.5 0.3l0.5 -0.2l0.5 -0.2l0.5 -0.2l0.5 -0.1l0.5 -0l0.5 0.1l0.5 0.2l0.5 0.2l0.5 0.2l0.5 0.2l0.5 -0.1l0.5 -0.2l0.5 -0.1l0.5 -0.1l0.5 -0.1l0.5 -0l0.5 0.1l0.5 0.1l0.5 0.1l0.5 0.2l0.5 0.1l0.5 -0.2l0.5 -0.3l0.5 -0.4l0.5 -0.3l0.5 -0.1l0.5 0.1l0.5 0.3l0.5 0.4l0.5 0.3l0.5 0.2l0.5 -0l0.5 -0.1l0.5 -0.1l0.5 -0l0.5 -0l0.5 -0l0.5 -0l0.5 0.1l0.5 0.1l0.5 -0l0.5 -0.4l0.5 -0.1l0.5 -0.1l0.5 -0l0.5 0.1l0.5 0.1l0.5 -0l0.5 -0.5l0.5 -0.2l0.5 0.2l0.5 0.5l0.5 0.6l0.5 -0.1l0.5 -0.1l0.5 -0.1l0.5 -0.1l0.5 -0l0.5 0.1l0.5 0.1l0.5 0.1l0.5 0.1l0.5 -0.1l0.5 -0.1l0.5 -0.2l0.5 -0.1l0.5 -0.1l0.5 -0l0.5 0.1l0.5 0.1l0.5 0.2l0.5 0.1l0.5 -0.7l0.5 -0.1l0.5 -0.2l0.5 -0.1l0.5 -0l0.5 -0l0.5 0.1l0.5 0.2l0.5 0.1l0.5 0.2l0.5 -0.2l0.5 -0.1l0.5 -0l0.5 0.1l0.5 0.2l0.5 -0.1l0.5 -0.3l0.5 -0.2l0.5 -0.1l0.5 0.1l0.5 0.2l0.5 0.3l0.5 0.5l0.5 -0.2l0.5 -0.3l0.5 -0.2l0.5 -0.2l0.5 -0l0.5 0.2l0.5 0.2l0.5 0.3l0.5 0.2l0.5 -0.3l0.5 -0l0.5 -0.3l0.5 -0.5l0.5 -0.1l0.5 0.5l0.5 0.4l0.5 -0l0.5 -0l0.5 -0l0.5 0.5l0.5 -0.2l0.5 0.2l0.5 -0.4l0.5 -0.2l0.5 -0.3l0.5 -0.1l0.5 0.1l0.5 0.3l0.5 0.2l0.5 -0l0.5 -0.1l0.5 -0.3l0.5 -0.5l0.5 -0.1l0.5 0.5l0.5 0.1l0.5 0.1l0.5 0.1l0.5 0.1l0.5 0.1l0.5 0.2l0.5 -0l0.5 -0l0.5 -0l0.5 -0.1l0.5 -0l0.5 -0l0.5 0.1l0.5 -0l0.5 -0l0.5 -0l0.5 -0.7l0.5 -0.7l0.5 0.7l0.5 0.6l0.5 -0.1l0.5 -0.1l0.5 -0.1l0.5 -0l0.5 -0l0.5 -0l0.5 0.1l0.5 0.1l0.5 0.1l0.5 -0.4l0.5 -0.4l0.5 -0.2l0.5 0.2l0.5 -1.1l0.5 -2.8l0.5 0.4l0.5 2.9l0.5 1.3l0.5 -0l0.5 -0l0.5 0.5l0.5 -0l0.5 -0.1l0.5 -1.4l0.5 -1.4l0.5 0.7l0.5 1.7l0.5 -0.1l0.5 -0.1l0.5 -0l0.5 -0l0.5 0.1l0.5 0.1l0.5 0.2l0.5 0.1l0.5 -0.4l0.5 -0l0.5 -0l0.5 -0l0.5 -0l0.5 -0l0.5 -0l0.5 -0l0.5 -0l0.5 -0l0.5 -0l0.5 -0.3l0.5 -0l0.5 -0l0.5 -0l0.5 -0l0.5 -0l0.5 -0l0.5 -0l0.5 -0l0.5 0.5l0.5 -0.3l0.5 -0.4l0.5 -0.1l0.5 0.1l0.5 0.4l0.5 0.1l0.5 -1.1l0.5 -1.5l0.5 -1.5l0.5 -0.9l0.5 0.1l0.5 1.1l0.5 1.5l0.5 1.1l0.5 0.3l0.5 0.7l0.5 0.7l0.5 -0l0.5 -0.1l0.5 -0.1l0.5 -0l0.5 0.1l0.5 0.1l0.5 -0l0.5 -0l0.5 -0.1l0.5 -0.2l0.5 -0.1l0.5 -0.1l0.5 -0l0.5 -0l0.5 0.1l0.5 0.1l0.5 0.2l0.5 0.1l0.5 -0.3l0.5 -0.3l0.5 -0.2l0.5 -0.1l0.5 0.1l0.5 0.2l0.5 0.3l0.5 0.1l0.5 -0l0.5 -0.1l0.5 -0l0.5 -0.1l0.5 -0l0.5 0.1l0.5 -0l0.5 0.1l0.5 -0l0.5 -0.4l0.5 -0.4l0.5 0.4l0.5 -0.1l0.5 -0.1l0.5 -0.1l0.5 -0.1l0.5 -0.1l0.5 -0.1l0.5 0.1l0.5 0.1l0.5 0.1l0.5 0.1l0.5 0.1l0.5 0.5l0.5 -0l0.5 -0l0.5 -0l0.5 -0l0.5 -0l0.5 -0l0.5 -0l0.5 -0l0.5 -0l0.5 -0l0.5 -0l0.5 -0.4l0.5 -0.3l0.5 -0.2l0.5 0.2l0.5 0.3l0.5 0.2l0.5 -0.1l0.5 -0.1l0.5 -0l0.5 -0.1l0.5 0.1l0.5 -0l0.5 0.1l0.5 0.1l0.5 0.4l0.5 -0l0.5 -0l0.5 -0l0.5 -0l0.5 -0L1897.5 422.6Z" fill="#0e3c84"/>
<path d="M1400.6 376 V422.4 H1614.5" fill="none" stroke="#1e1c1d" stroke-width="1.7"/>
<path d="M1678.7 375.8 V422.6 H1897.5" fill="none" stroke="#1e1c1d" stroke-width="1.7"/>
<path d="M1400.6 493.2l0 -2.1l0.5 -0.2l0.5 -0.3l0.5 -0.2l0.5 -0.2l0.5 -0.1l0.5 -0l0.5 0.1l0.5 0.2l0.5 0.2l0.5 0.3l0.5 0.2l0.5 0.8l0.5 -0.7l0.5 -0.6l0.5 -0.2l0.5 0.2l0.5 0.6l0.5 0.7l0.5 0.4l0.5 -0.2l0.5 -0.1l0.5 -0.1l0.5 -0l0.5 0.1l0.5 0.1l0.5 0.2l0.5 -0.5l0.5 -0.3l0.5 -0.4l0.5 -0.2l0.5 -0.1l0.5 0.1l0.5 0.2l0.5 0.4l0.5 0.3l0.5 -0.8l0.5 -0.8l0.5 -0.8l0.5 -0.7l0.5 -0.2l0.5 0.2l0.5 0.7l0.5 0.8l0.5 0.8l0.5 0.7l0.5 -1l0.5 -0.9l0.5 -0l0.5 0.9l0.5 1l0.5 0.3l0.5 -0l0.5 -0l0.5 -0l0.5 -0l0.5 -0l0.5 -0l0.5 -0l0.5 -0l0.5 -0l0.5 -0l0.5 -0.7l0.5 -0.6l0.5 -0.8l0.5 -0.7l0.5 -0.6l0.5 -0.3l0.5 -0l0.5 0.3l0.5 0.6l0.5 0.7l0.5 0.8l0.5 0.6l0.5 -0.4l0.5 -1.9l0.5 -0.9l0.5 0.9l0.5 1.1l0.5 -0.1l0.5 0.3l0.5 -0.8l0.5 -0.8l0.5 -0.3l0.5 0.3l0.5 0.8l0.5 1l0.5 0.9l0.5 0.1l0.5 -0.7l0.5 -0.8l0.5 -0.7l0.5 -0.4l0.5 -0l0.5 0.4l0.5 0.7l0.5 0.8l0.5 0.7l0.5 0.3l0.5 -0.5l0.5 -0.6l0.5 -0.6l0.5 -0.4l0.5 -0.1l0.5 0.1l0.5 0.4l0.5 0.6l0.5 -0.1l0.5 -0.5l0.5 -0.1l0.5 -0l0.5 -0.8l0.5 -0.4l0.5 0.4l0.5 0.8l0.5 0.9l0.5 0.2l0.5 -0.3l0.5 -0.4l0.5 -0.3l0.5 -0.3l0.5 -0.1l0.5 0.1l0.5 0.3l0.5 0.3l0.5 0.4l0.5 0.3l0.5 1l0.5 -0.5l0.5 -0.6l0.5 -0.6l0.5 -0.5l0.5 -0.2l0.5 -0l0.5 0.2l0.5 0.5l0.5 0.6l0.5 -0.8l0.5 -0.5l0.5 -0.1l0.5 0.3l0.5 0.2l0.5 -0.7l0.5 -0.5l0.5 -0.3l0.5 -0l0.5 0.3l0.5 0.5l0.5 0.7l0.5 0.6l0.5 0.6l0.5 0.8l0.5 -0.6l0.5 -0.8l0.5 -0.6l0.5 -0.4l0.5 -0l0.5 0.4l0.5 0.6l0.5 0.8l0.5 0.6l0.5 -0.2l0.5 -0.1l0.5 0.1l0.5 -0.8l0.5 -0.3l0.5 -0.3l0.5 -0.1l0.5 0.1l0.5 0.3l0.5 0.3l0.5 1.2l0.5 -0.3l0.5 -0.3l0.5 -0.2l0.5 -0.1l0.5 0.1l0.5 0.2l0.5 0.3l0.5 0.3l0.5 -1.4l0.5 -1.1l0.5 -0l0.5 1.1l0.5 1.1l0.5 -0l0.5 -0.1l0.5 -0.1l0.5 -0l0.5 0.1l0.5 0.1l0.5 -0l0.5 -0.1l0.5 -0.4l0.5 -0.2l0.5 -0l0.5 -0.1l0.5 -0.6l0.5 -0.5l0.5 -0.1l0.5 0.3l0.5 0.5l0.5 0.7l0.5 -0l0.5 -0l0.5 0.1l0.5 0.2l0.5 0.1l0.5 0.2l0.5 -1.2l0.5 -1l0.5 -0l0.5 1l0.5 0.6l0.5 -0.7l0.5 -0.8l0.5 -0.7l0.5 -0.5l0.5 -0.2l0.5 0.2l0.5 0.5l0.5 0.7l0.5 0.8l0.5 0.7l0.5 0.5l0.5 -1.4l0.5 -0.7l0.5 0.7l0.5 1.4l0.5 -0.8l0.5 -0.7l0.5 -0.8l0.5 -0.7l0.5 -0.4l0.5 -0l0.5 0.4l0.5 0.4l0.5 -0.7l0.5 -0.4l0.5 -0.1l0.5 0.2l0.5 0.6l0.5 0.7l0.5 -1.5l0.5 -2l0.5 -1.4l0.5 -0.1l0.5 1.2l0.5 1.9l0.5 2l0.5 1.4l0.5 -0.6l0.5 -0.6l0.5 -0.6l0.5 -0.3l0.5 -0.1l0.5 0.2l0.5 0.4l0.5 0.2l0.5 -0.5l0.5 0.5l0.5 1.1l0.5 1.2l0.5 -0.6l0.5 -0l0.5 -0l0.5 -0l0.5 -0l0.5 -0l0.5 0.8l0.5 -0l0.5 -0.1l0.5 -0l0.5 -0.1l0.5 -0l0.5 -0l0.5 0.1l0.5 -0l0.5 0.1l0.5 -0l0.5 -0.7l0.5 -0.8l0.5 -0.9l0.5 -0.5l0.5 -0l0.5 0.5l0.5 0.9l0.5 0.8l0.5 -0l0.5 -0l0.5 -0l0.5 -0l0.5 -0l0.5 -0l0.5 -0l0.5 -0l0.5 -0l0.5 -0l0.5 0.5l0.5 -0.5l0.5 -0.3l0.5 0.3l0.5 0.5l0.5 -0.2l0.5 -0.1l0.5 -0.2l0.5 -0.2l0.5 -0.1l0.5 -0.1l0.5 -0l0.5 0.1l0.5 0.1l0.5 0.2l0.5 0.2l0.5 0.1l0.5 -0.7l0.5 -0.8l0.5 -0.9l0.5 -0.7l0.5 -0.3l0.5 0.3l0.5 0.7l0.5 0.9l0.5 0.8l0.5 -0.2l0.5 -1.2l0.5 -0l0.5 1.2l0.5 1.3l0.5 -0.4l0.5 -0.5l0.5 -0.4l0.5 -0.2l0.5 -0l0.5 0.2l0.5 0.4l0.5 -0l0.5 -0.8l0.5 -0.9l0.5 -0.8l0.5 -0.6l0.5 -0.1l0.5 0.3l0.5 0.3l0.5 -0l0.5 0.3l0.5 0.5l0.5 -1.1l0.5 -2.9l0.5 -2.6l0.5 -1l0.5 1l0.5 2.6l0.5 2.2l0.5 -0.5l0.5 -0.1l0.5 0.3l0.5 0.6l0.5 0.9l0.5 0.9l0.5 0.9l0.5 0.8l0.5 0.1l0.5 -0l0.5 -0l0.5 -0l0.5 -0.4l0.5 -0.5l0.5 -0.5l0.5 -0.4l0.5 -0.2l0.5 -0l0.5 0.2l0.5 0.4l0.5 0.5l0.5 0.5l0.5 -0.1l0.5 -0.6l0.5 -0.5l0.5 -0.1l0.5 0.2l0.5 -0.1l0.5 0.1l0.5 0.4l0.5 0.5l0.5 0.5l0.5 -0.1l0.5 -0.1l0.5 -0.1l0.5 -0l0.5 -0l0.5 -0l0.5 0.1l0.5 0.1l0.5 0.4l0.5 -0.1l0.5 -0.3l0.5 -0.1l0.5 -0.2l0.5 -0l0.5 -0l0.5 0.2l0.5 0.1l0.5 0.3l0.5 0.1l0.5 -0.8l0.5 -0l0.5 -0l0.5 -0.1l0.5 -0l0.5 0.1l0.5 -0l0.5 -0l0.5 0.4l0.5 -1.4l0.5 -1.2l0.5 -0.5l0.5 0.5l0.5 1.2l0.5 1.4l0.5 0.8l0.5 -0.5l0.5 -0.5l0.5 -0.5l0.5 -0.1l0.5 0.1l0.5 0.5l0.5 0.5l0.5 0.5L1614.5 493.2Z" fill="#0e3c84"/>
<path d="M1678.7 492.4l0 -1.3l0.5 -0l0.5 -0l0.5 -0l0.5 -0l0.5 -0l0.5 -0l0.5 -0l0.5 -0l0.5 -0.2l0.5 -0.2l0.5 -0.3l0.5 -0.2l0.5 -0.2l0.5 -0l0.5 0.2l0.5 0.2l0.5 0.3l0.5 0.2l0.5 0.2l0.5 -0l0.5 -0.1l0.5 -0l0.5 -0.1l0.5 -0l0.5 -0l0.5 0.1l0.5 -0l0.5 0.1l0.5 -0l0.5 0.4l0.5 -0.6l0.5 -0.3l0.5 0.3l0.5 0.6l0.5 -0.1l0.5 -0.3l0.5 -0.3l0.5 -0.2l0.5 -0l0.5 0.2l0.5 0.3l0.5 0.3l0.5 0.1l0.5 -0.2l0.5 -0.2l0.5 -0.2l0.5 -0l0.5 0.2l0.5 0.2l0.5 0.2l0.5 0.2l0.5 -0.1l0.5 -0l0.5 0.1l0.5 -0.7l0.5 -0.5l0.5 0.5l0.5 0.4l0.5 -0.2l0.5 -0.3l0.5 -0l0.5 -0l0.5 0.3l0.5 0.2l0.5 0.1l0.5 -0.5l0.5 -0.4l0.5 -0.2l0.5 0.2l0.5 0.4l0.5 0.5l0.5 0.3l0.5 -0l0.5 -0l0.5 -0l0.5 -0.6l0.5 -0l0.5 -0l0.5 -0.1l0.5 -0l0.5 -0l0.5 -0l0.5 -0l0.5 -0l0.5 0.1l0.5 -0l0.5 -0l0.5 -0.1l0.5 -0.1l0.5 -0.1l0.5 -0.1l0.5 -0l0.5 -0l0.5 0.1l0.5 0.1l0.5 0.1l0.5 -0.2l0.5 -0.2l0.5 -0.3l0.5 -0.3l0.5 -0.2l0.5 -0.1l0.5 0.1l0.5 0.2l0.5 0.3l0.5 0.3l0.5 0.2l0.5 0.9l0.5 -0.2l0.5 -0.2l0.5 -0.2l0.5 -0.2l0.5 -0l0.5 -0l0.5 0.2l0.5 0.2l0.5 0.2l0.5 0.2l0.5 -0.8l0.5 -0.1l0.5 -0.2l0.5 -0.2l0.5 -0l0.5 -0l0.5 -0l0.5 0.2l0.5 0.2l0.5 0.1l0.5 -0l0.5 -0.2l0.5 -0.1l0.5 -0.2l0.5 -0.1l0.5 -0.1l0.5 0.1l0.5 0.1l0.5 0.2l0.5 0.1l0.5 0.2l0.5 0.5l0.5 -0l0.5 -0.1l0.5 -0l0.5 -0l0.5 -0l0.5 -0l0.5 -0l0.5 0.1l0.5 -0l0.5 0.1l0.5 -0.3l0.5 -0.2l0.5 -0.2l0.5 -0.1l0.5 0.1l0.5 0.2l0.5 0.2l0.5 0.3l0.5 0.1l0.5 -0l0.5 -0.1l0.5 -0l0.5 -0l0.5 -0l0.5 -0l0.5 -0l0.5 -0l0.5 -0l0.5 0.1l0.5 -0l0.5 -0l0.5 -0.4l0.5 -0.2l0.5 0.2l0.5 0.4l0.5 -0.5l0.5 -0l0.5 -0l0.5 -0l0.5 -0l0.5 0.3l0.5 -0.1l0.5 -0.2l0.5 -0l0.5 0.2l0.5 0.1l0.5 -0.5l0.5 -0.3l0.5 0.3l0.5 0.7l0.5 -0.2l0.5 -0l0.5 -0l0.5 0.2l0.5 -0.5l0.5 -0.2l0.5 -0.2l0.5 -0.3l0.5 -0.1l0.5 -0.1l0.5 0.1l0.5 0.1l0.5 0.3l0.5 0.2l0.5 0.2l0.5 0.3l0.5 -0.3l0.5 -0.4l0.5 -0.3l0.5 -0.1l0.5 -0l0.5 0.1l0.5 0.3l0.5 0.4l0.5 0.3l0.5 -0.1l0.5 -0l0.5 -0l0.5 -0.1l0.5 -1.3l0.5 -4.2l0.5 -1.7l0.5 3.5l0.5 2.8l0.5 -1l0.5 -0.8l0.5 -0.6l0.5 -0.1l0.5 0.5l0.5 0.8l0.5 1l0.5 -0.6l0.5 -3.6l0.5 -0.6l0.5 3.5l0.5 2.7l0.5 -0.3l0.5 -0.2l0.5 -2.9l0.5 -2l0.5 2l0.5 2.9l0.5 0.7l0.5 -0l0.5 -0.1l0.5 -0l0.5 -0l0.5 0.1l0.5 -0l0.5 -0.4l0.5 -0.2l0.5 -0.3l0.5 -0.2l0.5 -0.1l0.5 -0l0.5 0.1l0.5 0.2l0.5 0.3l0.5 0.2l0.5 -0.4l0.5 -0l0.5 -0.1l0.5 -2l0.5 -0.3l0.5 1.9l0.5 0.7l0.5 -0l0.5 -0.1l0.5 -0l0.5 0.1l0.5 -0l0.5 0.1l0.5 -0l0.5 -0.3l0.5 -0.1l0.5 -0l0.5 0.1l0.5 0.2l0.5 -0.2l0.5 -0.2l0.5 -0l0.5 -1.8l0.5 -2.5l0.5 -0.3l0.5 2.2l0.5 2.4l0.5 0.1l0.5 0.4l0.5 0.6l0.5 -0.1l0.5 -0.1l0.5 -0.1l0.5 -0l0.5 -0l0.5 -0l0.5 -0l0.5 -0.4l0.5 -3.8l0.5 -5l0.5 0.8l0.5 4.9l0.5 -0.6l0.5 -0.1l0.5 0.6l0.5 0.9l0.5 1l0.5 1l0.5 0.2l0.5 -0.3l0.5 -0.2l0.5 -0.5l0.5 -1.6l0.5 0.8l0.5 1.9l0.5 0.4l0.5 -0.2l0.5 -0.2l0.5 -0.1l0.5 0.1l0.5 0.2l0.5 0.2l0.5 -0.6l0.5 -0.2l0.5 -0l0.5 -0l0.5 0.2l0.5 0.1l0.5 -0.2l0.5 -0.2l0.5 -0.2l0.5 -0.1l0.5 -0l0.5 0.1l0.5 0.2l0.5 0.2l0.5 0.2l0.5 0.3l0.5 -0l0.5 -0l0.5 -0l0.5 -0l0.5 -0.3l0.5 -0.2l0.5 -0.2l0.5 -0.3l0.5 -0.2l0.5 -0.4l0.5 -0.3l0.5 -0.1l0.5 0.3l0.5 -1.1l0.5 -2.2l0.5 -0.3l0.5 2l0.5 2.4l0.5 1l0.5 -0l0.5 -0l0.5 -0.5l0.5 -0.4l0.5 -0l0.5 0.4l0.5 0.5l0.5 -0l0.5 -0l0.5 -0l0.5 -0l0.5 -0l0.5 -0l0.5 -0l0.5 -0.1l0.5 -0l0.5 -0.1l0.5 0.1l0.5 -0l0.5 0.4l0.5 -0.1l0.5 -0l0.5 -0.1l0.5 0.1l0.5 -0l0.5 0.1l0.5 -0.1l0.5 -0.2l0.5 -0.3l0.5 -0.2l0.5 -0.2l0.5 -0l0.5 -0l0.5 0.2l0.5 0.2l0.5 0.3l0.5 0.2l0.5 -0.5l0.5 -0.5l0.5 0.5l0.5 -0l0.5 -0l0.5 -0l0.5 -0l0.5 -0l0.5 -0l0.5 -0l0.5 -0l0.5 -0l0.5 -0l0.5 -0.2l0.5 -0.1l0.5 -0.1l0.5 -0.2l0.5 -0l0.5 -0l0.5 0.2l0.5 0.1l0.5 0.1l0.5 0.1l0.5 -0.3l0.5 -0.2l0.5 0.2l0.5 0.3l0.5 0.3l0.5 -0.6l0.5 -0l0.5 0.6l0.5 0.1l0.5 -0l0.5 -0l0.5 -0l0.5 -0l0.5 -0l0.5 -0l0.5 -0l0.5 -0l0.5 -0l0.5 -0l0.5 -0l0.5 -0l0.5 -0L1897.5 492.4Z" fill="#0e3c84"/>
<path d="M1400.6 447 V493.2 H1614.5" fill="none" stroke="#1e1c1d" stroke-width="1.7"/>
<path d="M1678.7 446.2 V492.4 H1897.5" fill="none" stroke="#1e1c1d" stroke-width="1.7"/>
<path d="M1400.6 563.8l0 -0l0.5 -0l0.5 -0l0.5 -0l0.5 -0l0.5 -0l0.5 -0l0.5 -0l0.5 -0l0.5 -0l0.5 -0l0.5 -0l0.5 -0l0.5 -0l0.5 -0l0.5 -0l0.5 -0l0.5 -0l0.5 -0l0.5 -0l0.5 -0l0.5 -0l0.5 -0l0.5 -0l0.5 -0l0.5 -0l0.5 -0l0.5 -0l0.5 -0l0.5 -0l0.5 -0l0.5 -0l0.5 -0l0.5 -0l0.5 -0l0.5 -0l0.5 -0l0.5 -0l0.5 -0l0.5 -0l0.5 -0l0.5 -0l0.5 -0l0.5 -0l0.5 -0l0.5 -0l0.5 -0l0.5 -0l0.5 -0l0.5 -0l0.5 -0l0.5 -0l0.5 -0l0.5 -0l0.5 -0l0.5 -0l0.5 -0l0.5 -0l0.5 -0l0.5 -0l0.5 -0l0.5 -0l0.5 -0l0.5 -0l0.5 -0l0.5 -0l0.5 -0l0.5 -0l0.5 -0l0.5 -0l0.5 -0l0.5 -0l0.5 -0l0.5 -0l0.5 -0l0.5 -0l0.5 -0l0.5 -0l0.5 -0l0.5 -0l0.5 -0l0.5 -0l0.5 -0l0.5 -0l0.5 -0l0.5 -0l0.5 -0l0.5 -0l0.5 -0l0.5 -0l0.5 -0l0.5 -0l0.5 -0l0.5 -0l0.5 -0l0.5 -0l0.5 -0l0.5 -0l0.5 -0l0.5 -0l0.5 -0l0.5 -0l0.5 -0l0.5 -0l0.5 -0l0.5 -0l0.5 -0l0.5 -0l0.5 -0l0.5 -0l0.5 -0l0.5 -0l0.5 -0l0.5 -0l0.5 -0l0.5 -0l0.5 -0l0.5 -0l0.5 -0l0.5 -0l0.5 -0l0.5 -0l0.5 -0l0.5 -0l0.5 -0l0.5 -0l0.5 -0l0.5 -0l0.5 -0l0.5 -0l0.5 -0l0.5 -0l0.5 -0l0.5 -0l0.5 -0l0.5 -0l0.5 -0l0.5 -0l0.5 -0l0.5 -0l0.5 -0l0.5 -0l0.5 -0l0.5 -0l0.5 -0l0.5 -0l0.5 -0l0.5 -0l0.5 -0l0.5 -0l0.5 -0l0.5 -0l0.5 -0l0.5 -0l0.5 -0l0.5 -0l0.5 -0l0.5 -0l0.5 -0l0.5 -0l0.5 -0l0.5 -0l0.5 -0l0.5 -0l0.5 -0l0.5 -0l0.5 -0l0.5 -0l0.5 -0l0.5 -0l0.5 -0l0.5 -0l0.5 -0l0.5 -0l0.5 -0l0.5 -0l0.5 -0l0.5 -0l0.5 -0l0.5 -0l0.5 -0l0.5 -0l0.5 -0l0.5 -0l0.5 -0l0.5 -0l0.5 -0l0.5 -0l0.5 -0l0.5 -0l0.5 -0l0.5 -0l0.5 -0l0.5 -0l0.5 -0l0.5 -0l0.5 -0l0.5 -0l0.5 -0l0.5 -0l0.5 -0l0.5 -0l0.5 -0l0.5 -0.3l0.5 -1l0.5 -0.2l0.5 0.4l0.5 1.1l0.5 -0l0.5 -0l0.5 -0l0.5 -0l0.5 -0l0.5 -0l0.5 -0l0.5 -0l0.5 -0l0.5 -0l0.5 -0l0.5 -0l0.5 -0l0.5 -0l0.5 -0l0.5 -0l0.5 -0l0.5 -0l0.5 -0l0.5 -0l0.5 -0l0.5 -0l0.5 -0l0.5 -0l0.5 -0l0.5 -0l0.5 -0l0.5 -0l0.5 -0l0.5 -0l0.5 -0l0.5 -0l0.5 -0l0.5 -0l0.5 -0l0.5 -0l0.5 -0l0.5 -0l0.5 -0l0.5 -0l0.5 -0l0.5 -0l0.5 -0l0.5 -0l0.5 -0l0.5 -0l0.5 -0l0.5 -0l0.5 -0l0.5 -0l0.5 -0l0.5 -0l0.5 -0l0.5 -0l0.5 -0l0.5 -0l0.5 -0l0.5 -0l0.5 -0l0.5 -0l0.5 -0l0.5 -0l0.5 -0l0.5 -0l0.5 -0l0.5 -0l0.5 -0l0.5 -0l0.5 -0l0.5 -0l0.5 -0l0.5 -0l0.5 -0l0.5 -0l0.5 -0l0.5 -0l0.5 -0l0.5 -0l0.5 -0l0.5 -0l0.5 -0l0.5 -0l0.5 -0l0.5 -0l0.5 -0l0.5 -0l0.5 -0l0.5 -0l0.5 -0l0.5 -0l0.5 -0l0.5 -0l0.5 -0l0.5 -0l0.5 -0l0.5 -0l0.5 -0l0.5 -0l0.5 -0l0.5 -0l0.5 -0l0.5 -0l0.5 -0l0.5 -0l0.5 -0l0.5 -0l0.5 -0l0.5 -0l0.5 -0l0.5 -0l0.5 -0l0.5 -0l0.5 -0l0.5 -0l0.5 -0l0.5 -0l0.5 -0l0.5 -0l0.5 -0l0.5 -0l0.5 -0l0.5 -0l0.5 -0l0.5 -0l0.5 -0l0.5 -0l0.5 -0l0.5 -0l0.5 -0l0.5 -0l0.5 -0l0.5 -0l0.5 -0l0.5 -0l0.5 -0l0.5 -0l0.5 -0l0.5 -0l0.5 -0l0.5 -0l0.5 -0l0.5 -0l0.5 -0l0.5 -0l0.5 -0l0.5 -0l0.5 -0l0.5 -0l0.5 -0l0.5 -0l0.5 -0l0.5 -0l0.5 -0l0.5 -0l0.5 -0l0.5 -0l0.5 -0l0.5 -0l0.5 -0l0.5 -0l0.5 -0l0.5 -0l0.5 -0l0.5 -0l0.5 -0l0.5 -0l0.5 -0l0.5 -0l0.5 -0l0.5 -0l0.5 -0l0.5 -0l0.5 -0l0.5 -0l0.5 -0l0.5 -0l0.5 -0l0.5 -0l0.5 -0l0.5 -0l0.5 -0l0.5 -0l0.5 -0l0.5 -0l0.5 -0l0.5 -0l0.5 -0l0.5 -0l0.5 -0l0.5 -0l0.5 -0l0.5 -0l0.5 -0l0.5 -0l0.5 -0l0.5 -0l0.5 -0l0.5 -0l0.5 -0l0.5 -0l0.5 -0l0.5 -0l0.5 -0l0.5 -0l0.5 -0l0.5 -0l0.5 -0l0.5 -0l0.5 -0l0.5 -0l0.5 -0l0.5 -0l0.5 -0l0.5 -0l0.5 -0l0.5 -0l0.5 -0l0.5 -0l0.5 -0l0.5 -0l0.5 -0L1614.5 563.8Z" fill="#2a4f12"/>
<path d="M1678.7 562.3l0 -0l0.5 -0l0.5 -0l0.5 -0l0.5 -0l0.5 -0l0.5 -0l0.5 -0l0.5 -0l0.5 -0l0.5 -0l0.5 -0l0.5 -0l0.5 -0l0.5 -0l0.5 -0l0.5 -0l0.5 -0l0.5 -0l0.5 -0l0.5 -0l0.5 -0l0.5 -0l0.5 -0l0.5 -0l0.5 -0l0.5 -0l0.5 -0l0.5 -0l0.5 -0l0.5 -0l0.5 -0l0.5 -0l0.5 -0l0.5 -0l0.5 -0l0.5 -0l0.5 -0l0.5 -0l0.5 -0l0.5 -0l0.5 -0l0.5 -0l0.5 -0l0.5 -0l0.5 -0l0.5 -0l0.5 -0l0.5 -0l0.5 -0l0.5 -0l0.5 -0l0.5 -0l0.5 -0l0.5 -0l0.5 -0l0.5 -0l0.5 -0l0.5 -0l0.5 -0l0.5 -0l0.5 -0l0.5 -0l0.5 -0l0.5 -0l0.5 -0l0.5 -0l0.5 -0l0.5 -0l0.5 -0l0.5 -0l0.5 -0l0.5 -0l0.5 -0l0.5 -0l0.5 -0l0.5 -0l0.5 -0l0.5 -0l0.5 -0l0.5 -0l0.5 -0l0.5 -0l0.5 -0l0.5 -0l0.5 -0l0.5 -0l0.5 -2.9l0.5 -0.6l0.5 0.6l0.5 2.9l0.5 -0l0.5 -0l0.5 -0l0.5 -0l0.5 -0l0.5 -0l0.5 -0l0.5 -0l0.5 -0l0.5 -0l0.5 -0l0.5 -0l0.5 -0l0.5 -0l0.5 -0l0.5 -0l0.5 -0l0.5 -0l0.5 -0l0.5 -0l0.5 -0l0.5 -0l0.5 -0l0.5 -0l0.5 -0l0.5 -0l0.5 -0l0.5 -0l0.5 -0l0.5 -0l0.5 -0l0.5 -0l0.5 -0l0.5 -0l0.5 -0l0.5 -0l0.5 -0l0.5 -0l0.5 -0l0.5 -0l0.5 -0l0.5 -0l0.5 -0l0.5 -0l0.5 -0l0.5 -0l0.5 -0l0.5 -0l0.5 -0l0.5 -0l0.5 -0l0.5 -0l0.5 -0l0.5 -0l0.5 -0l0.5 -0l0.5 -0l0.5 -0l0.5 -0l0.5 -0l0.5 -0l0.5 -0l0.5 -0l0.5 -0l0.5 -0l0.5 -0l0.5 -0l0.5 -0l0.5 -0l0.5 -0l0.5 -0l0.5 -0l0.5 -0l0.5 -0l0.5 -0l0.5 -0l0.5 -0l0.5 -0l0.5 -0l0.5 -0l0.5 -0l0.5 -0l0.5 -0l0.5 -0l0.5 -0l0.5 -0l0.5 -0l0.5 -0l0.5 -0l0.5 -0l0.5 -0l0.5 -0l0.5 -0l0.5 -0l0.5 -0l0.5 -0l0.5 -0l0.5 -0l0.5 -0l0.5 -0l0.5 -0l0.5 -0l0.5 -0l0.5 -0l0.5 -0l0.5 -0l0.5 -0l0.5 -0l0.5 -0l0.5 -0l0.5 -0l0.5 -0l0.5 -0l0.5 -0l0.5 -0l0.5 -0l0.5 -0l0.5 -0l0.5 -0l0.5 -0l0.5 -0l0.5 -0l0.5 -0l0.5 -0l0.5 -0l0.5 -0l0.5 -0l0.5 -0l0.5 -0l0.5 -0l0.5 -0l0.5 -0l0.5 -0l0.5 -0l0.5 -0l0.5 -0l0.5 -0l0.5 -0l0.5 -0l0.5 -0l0.5 -0l0.5 -0l0.5 -0l0.5 -0l0.5 -0l0.5 -0l0.5 -0l0.5 -0l0.5 -0l0.5 -0l0.5 -0l0.5 -0l0.5 -0l0.5 -0l0.5 -0l0.5 -0l0.5 -0l0.5 -0l0.5 -0l0.5 -0l0.5 -0l0.5 -0l0.5 -0l0.5 -0l0.5 -0l0.5 -0l0.5 -0l0.5 -0l0.5 -0l0.5 -0l0.5 -0l0.5 -0l0.5 -0l0.5 -0l0.5 -0l0.5 -0l0.5 -0l0.5 -0l0.5 -0l0.5 -0l0.5 -0l0.5 -0l0.5 -0l0.5 -0l0.5 -0l0.5 -0l0.5 -0l0.5 -0l0.5 -0l0.5 -0l0.5 -0l0.5 -0l0.5 -0l0.5 -0l0.5 -0l0.5 -0l0.5 -0l0.5 -0l0.5 -0l0.5 -0l0.5 -0l0.5 -0l0.5 -0l0.5 -0l0.5 -0l0.5 -0l0.5 -0l0.5 -0l0.5 -0l0.5 -0l0.5 -0l0.5 -0l0.5 -0l0.5 -0l0.5 -0l0.5 -0l0.5 -0l0.5 -0l0.5 -0l0.5 -0l0.5 -0l0.5 -0l0.5 -0l0.5 -0l0.5 -0l0.5 -0l0.5 -0l0.5 -0l0.5 -0l0.5 -0l0.5 -0l0.5 -0l0.5 -0l0.5 -0l0.5 -0l0.5 -0l0.5 -0l0.5 -0l0.5 -0l0.5 -0l0.5 -0l0.5 -0l0.5 -0l0.5 -0l0.5 -0l0.5 -0l0.5 -0l0.5 -0l0.5 -0l0.5 -0l0.5 -0l0.5 -0l0.5 -0l0.5 -0l0.5 -0l0.5 -0l0.5 -0l0.5 -0l0.5 -0l0.5 -0l0.5 -0l0.5 -0l0.5 -0l0.5 -0l0.5 -0l0.5 -0l0.5 -0l0.5 -0l0.5 -0l0.5 -0l0.5 -0l0.5 -0l0.5 -0l0.5 -0l0.5 -0.6l0.5 -0.8l0.5 -0.1l0.5 0.6l0.5 0.9l0.5 -0l0.5 -0l0.5 -0l0.5 -0l0.5 -0l0.5 -0l0.5 -0l0.5 -0.6l0.5 -0.8l0.5 -0.1l0.5 0.6l0.5 0.9l0.5 -0l0.5 -0l0.5 -0l0.5 -0l0.5 -0l0.5 -0l0.5 -0l0.5 -0l0.5 -0l0.5 -0l0.5 -0l0.5 -0.6l0.5 -0.8l0.5 -0.1l0.5 0.6l0.5 0.9l0.5 -0l0.5 -0l0.5 -0l0.5 -0l0.5 -0l0.5 -0l0.5 -0l0.5 -0l0.5 -0l0.5 -0l0.5 -0l0.5 -0l0.5 -0l0.5 -1.8l0.5 -2.8l0.5 -1l0.5 0.1l0.5 1.3l0.5 1.5l0.5 -0.3l0.5 -0l0.5 0.2l0.5 0.6l0.5 1.2l0.5 1l0.5 -0l0.5 -0l0.5 -0l0.5 -0l0.5 -0l0.5 -0l0.5 -0l0.5 -0l0.5 -0l0.5 -0l0.5 -0l0.5 -0l0.5 -0l0.5 -0l0.5 -0l0.5 -0L1897.5 562.3Z" fill="#2a4f12"/>
<path d="M1400.6 517.3 V563.8 H1614.5" fill="none" stroke="#1e1c1d" stroke-width="1.7"/>
<path d="M1678.7 516.9 V562.3 H1897.5" fill="none" stroke="#1e1c1d" stroke-width="1.7"/>
<path d="M1400.6 635l0 -0l0.5 -0l0.5 -0l0.5 -0l0.5 -0l0.5 -0l0.5 -0l0.5 -0l0.5 -0l0.5 -0l0.5 -0l0.5 -0l0.5 -0l0.5 -0l0.5 -0l0.5 -0l0.5 -0l0.5 -0l0.5 -0l0.5 -0l0.5 -0l0.5 -0l0.5 -0l0.5 -0l0.5 -0l0.5 -0l0.5 -0l0.5 -0l0.5 -0l0.5 -0l0.5 -0l0.5 -0l0.5 -0l0.5 -0l0.5 -0l0.5 -0l0.5 -0l0.5 -0l0.5 -0l0.5 -0l0.5 -0l0.5 -0l0.5 -0l0.5 -0l0.5 -0l0.5 -0l0.5 -0l0.5 -0l0.5 -0l0.5 -0l0.5 -0l0.5 -0l0.5 -0l0.5 -0l0.5 -0l0.5 -0l0.5 -0l0.5 -0l0.5 -0l0.5 -0l0.5 -0l0.5 -0l0.5 -0l0.5 -0l0.5 -0l0.5 -0l0.5 -0l0.5 -0l0.5 -0l0.5 -0l0.5 -0l0.5 -0l0.5 -0l0.5 -0l0.5 -0l0.5 -0l0.5 -0l0.5 -0l0.5 -0l0.5 -0l0.5 -0l0.5 -0l0.5 -0l0.5 -0l0.5 -0l0.5 -0l0.5 -0l0.5 -0l0.5 -0l0.5 -0l0.5 -0l0.5 -0l0.5 -0l0.5 -0l0.5 -0l0.5 -0l0.5 -0l0.5 -0l0.5 -0l0.5 -0l0.5 -0l0.5 -0l0.5 -0l0.5 -0l0.5 -0l0.5 -0l0.5 -0l0.5 -0l0.5 -0l0.5 -0l0.5 -0l0.5 -0l0.5 -0l0.5 -0l0.5 -0l0.5 -0l0.5 -0l0.5 -0l0.5 -0l0.5 -0l0.5 -0l0.5 -0l0.5 -0l0.5 -0l0.5 -0l0.5 -0l0.5 -0l0.5 -0l0.5 -0l0.5 -0l0.5 -0l0.5 -0l0.5 -0l0.5 -0l0.5 -0l0.5 -0l0.5 -0l0.5 -0l0.5 -20l0.5 -7.8l0.5 -0.4l0.5 5.8l0.5 10.4l0.5 0.5l0.5 1.6l0.5 3.3l0.5 5.3l0.5 1.3l0.5 -0l0.5 -0l0.5 -0l0.5 -0l0.5 -0l0.5 -0l0.5 -0l0.5 -0l0.5 -0l0.5 -0l0.5 -0l0.5 -0l0.5 -0l0.5 -0l0.5 -0l0.5 -0l0.5 -0l0.5 -0l0.5 -0l0.5 -0l0.5 -0l0.5 -0l0.5 -4.8l0.5 -15.4l0.5 -4.3l0.5 1.6l0.5 10.3l0.5 0.7l0.5 -0.1l0.5 1.1l0.5 3.3l0.5 6l0.5 1.6l0.5 -0l0.5 -0l0.5 -0l0.5 -0l0.5 -0l0.5 -0l0.5 -0l0.5 -0l0.5 -0l0.5 -0l0.5 -0l0.5 -0l0.5 -0l0.5 -2l0.5 -3.3l0.5 -1.5l0.5 -0.2l0.5 0.6l0.5 2.1l0.5 -5.6l0.5 -30.1l0.5 -6.5l0.5 6.5l0.5 6.1l0.5 0.1l0.5 -9.5l0.5 -3.6l0.5 10.2l0.5 33.3l0.5 3.4l0.5 -0l0.5 -0l0.5 -0l0.5 -0l0.5 -0l0.5 -0l0.5 -0l0.5 -0l0.5 -0l0.5 -0l0.5 -0l0.5 -0l0.5 -0l0.5 -0l0.5 -0l0.5 -0l0.5 -0l0.5 -0l0.5 -0l0.5 -0l0.5 -0l0.5 -0l0.5 -0l0.5 -0l0.5 -0l0.5 -0l0.5 -0l0.5 -0l0.5 -0l0.5 -0l0.5 -0l0.5 -0l0.5 -0l0.5 -0l0.5 -0l0.5 -0l0.5 -0l0.5 -0l0.5 -0l0.5 -0l0.5 -0l0.5 -0l0.5 -0l0.5 -0l0.5 -0l0.5 -0l0.5 -0l0.5 -0l0.5 -0l0.5 -0l0.5 -0l0.5 -0l0.5 -0l0.5 -0l0.5 -0l0.5 -0l0.5 -0l0.5 -0l0.5 -0l0.5 -0l0.5 -5.7l0.5 -25.1l0.5 -8.6l0.5 3l0.5 20.8l0.5 4.6l0.5 2.2l0.5 4.1l0.5 4.7l0.5 -0l0.5 -0l0.5 -0l0.5 -0l0.5 -0l0.5 -0l0.5 -0l0.5 -0l0.5 -0l0.5 -0l0.5 -0l0.5 -0l0.5 -0l0.5 -0l0.5 -0l0.5 -0l0.5 -0l0.5 -0l0.5 -0l0.5 -0l0.5 -0l0.5 -0l0.5 -0l0.5 -0l0.5 -0l0.5 -0l0.5 -0l0.5 -0l0.5 -0l0.5 -0l0.5 -0l0.5 -0l0.5 -0l0.5 -0l0.5 -0l0.5 -0l0.5 -0l0.5 -0l0.5 -0l0.5 -0l0.5 -0l0.5 -0l0.5 -0l0.5 -0l0.5 -0l0.5 -0l0.5 -0l0.5 -0l0.5 -0l0.5 -0l0.5 -0l0.5 -0l0.5 -0l0.5 -0l0.5 -0l0.5 -0l0.5 -0l0.5 -0l0.5 -0l0.5 -0l0.5 -0l0.5 -0l0.5 -0l0.5 -0l0.5 -0l0.5 -0l0.5 -0l0.5 -0l0.5 -0l0.5 -0l0.5 -0l0.5 -0l0.5 -0l0.5 -0l0.5 -0l0.5 -0l0.5 -0l0.5 -0l0.5 -0l0.5 -0l0.5 -0l0.5 -0l0.5 -0l0.5 -0l0.5 -0l0.5 -0l0.5 -0l0.5 -0l0.5 -0l0.5 -0l0.5 -0l0.5 -0l0.5 -0l0.5 -0l0.5 -0l0.5 -0l0.5 -0l0.5 -0l0.5 -0l0.5 -0l0.5 -0l0.5 -0l0.5 -0l0.5 -0l0.5 -0l0.5 -0l0.5 -0l0.5 -0l0.5 -0l0.5 -0l0.5 -0l0.5 -0l0.5 -0l0.5 -0l0.5 -0l0.5 -0l0.5 -0l0.5 -0l0.5 -0l0.5 -0l0.5 -0l0.5 -0l0.5 -0l0.5 -0l0.5 -0l0.5 -0l0.5 -0l0.5 -0l0.5 -0l0.5 -0l0.5 -0l0.5 -0l0.5 -0l0.5 -0l0.5 -0l0.5 -0l0.5 -0l0.5 -0l0.5 -0l0.5 -0l0.5 -0l0.5 -0l0.5 -0l0.5 -0l0.5 -0l0.5 -0l0.5 -0l0.5 -0l0.5 -0L1614.5 635Z" fill="#2a4f12"/>
<path d="M1678.7 632.8l0 -0l0.5 -0l0.5 -0l0.5 -0l0.5 -0l0.5 -0l0.5 -0l0.5 -0l0.5 -0l0.5 -0l0.5 -0l0.5 -0l0.5 -0l0.5 -0l0.5 -0l0.5 -0l0.5 -0l0.5 -0l0.5 -0l0.5 -0l0.5 -0l0.5 -0l0.5 -0l0.5 -0l0.5 -0l0.5 -0l0.5 -0l0.5 -0l0.5 -0l0.5 -0l0.5 -0l0.5 -0l0.5 -0l0.5 -0l0.5 -0l0.5 -0l0.5 -0l0.5 -0l0.5 -0l0.5 -0l0.5 -0l0.5 -0l0.5 -0l0.5 -0l0.5 -0l0.5 -0l0.5 -0l0.5 -0l0.5 -0l0.5 -0l0.5 -0l0.5 -0l0.5 -0l0.5 -0l0.5 -0l0.5 -0l0.5 -0l0.5 -0l0.5 -0l0.5 -0l0.5 -0l0.5 -0l0.5 -0l0.5 -0l0.5 -0l0.5 -0l0.5 -0l0.5 -0l0.5 -0l0.5 -0l0.5 -0l0.5 -0l0.5 -0l0.5 -0l0.5 -0l0.5 -0l0.5 -0l0.5 -0l0.5 -0l0.5 -0l0.5 -0l0.5 -0l0.5 -8.3l0.5 -13l0.5 -11.2l0.5 -0.6l0.5 8.3l0.5 -3.9l0.5 -1.3l0.5 3.6l0.5 12.8l0.5 10l0.5 3.6l0.5 -0l0.5 -0l0.5 -12.6l0.5 -1.8l0.5 5.2l0.5 9.2l0.5 -0l0.5 -0l0.5 -0l0.5 -0l0.5 -0l0.5 -0l0.5 -0l0.5 -7.7l0.5 -2.3l0.5 2.3l0.5 7.7l0.5 -0l0.5 -0l0.5 -0l0.5 -0l0.5 -0l0.5 -0l0.5 -0l0.5 -0l0.5 -0l0.5 -0l0.5 -0l0.5 -0l0.5 -0l0.5 -0l0.5 -0l0.5 -0l0.5 -0l0.5 -0l0.5 -0l0.5 -0l0.5 -0l0.5 -0l0.5 -0l0.5 -0l0.5 -0l0.5 -0l0.5 -0l0.5 -0l0.5 -0l0.5 -0l0.5 -0l0.5 -0l0.5 -0l0.5 -0l0.5 -0l0.5 -0l0.5 -8.9l0.5 -9.7l0.5 0.8l0.5 13l0.5 4.8l0.5 -0l0.5 -0l0.5 -0l0.5 -0l0.5 -10.4l0.5 -1.6l0.5 4.4l0.5 7.6l0.5 -0l0.5 -0l0.5 -0l0.5 -0l0.5 -0l0.5 -0l0.5 -0l0.5 -5.1l0.5 -5.6l0.5 0.4l0.5 7.5l0.5 2.8l0.5 -0l0.5 -0l0.5 -0l0.5 -0l0.5 -6.6l0.5 -7.3l0.5 0.6l0.5 9.7l0.5 3.6l0.5 -0l0.5 -0l0.5 -0l0.5 -0l0.5 -0l0.5 -0l0.5 -0l0.5 -0l0.5 -6.1l0.5 -2.7l0.5 2.7l0.5 6.1l0.5 -4.4l0.5 -10.7l0.5 0.8l0.5 14.3l0.5 -0l0.5 -0l0.5 -0l0.5 -0l0.5 -8.6l0.5 -3.8l0.5 3.8l0.5 8.6l0.5 -0l0.5 -3l0.5 -7.2l0.5 0.6l0.5 9.6l0.5 -6.6l0.5 -2.9l0.5 2.9l0.5 -0.6l0.5 -1.6l0.5 4.3l0.5 4.5l0.5 -0l0.5 -0l0.5 -0l0.5 -0l0.5 -0l0.5 -8.9l0.5 -2.7l0.5 2.7l0.5 8.9l0.5 -0l0.5 -0l0.5 -0l0.5 -0l0.5 -0l0.5 -0l0.5 -0l0.5 -0l0.5 -0l0.5 -0l0.5 -0l0.5 -0l0.5 -0l0.5 -0l0.5 -0l0.5 -0l0.5 -0l0.5 -0l0.5 -0l0.5 -0l0.5 -0l0.5 -0l0.5 -0l0.5 -9.2l0.5 -5.1l0.5 1.8l0.5 12.5l0.5 -0l0.5 -0l0.5 -0l0.5 -6l0.5 -6.5l0.5 0.5l0.5 8.7l0.5 3.3l0.5 -0l0.5 -0l0.5 -0l0.5 -0l0.5 -0l0.5 -0l0.5 -0l0.5 -0l0.5 -0l0.5 -0l0.5 -0l0.5 -0l0.5 -0l0.5 -0l0.5 -0l0.5 -0l0.5 -0l0.5 -0l0.5 -0l0.5 -0l0.5 -0l0.5 -0l0.5 -0l0.5 -0l0.5 -0l0.5 -4.9l0.5 -0.7l0.5 2l0.5 3.6l0.5 -0l0.5 -0l0.5 -0l0.5 -0l0.5 -0l0.5 -0l0.5 -0l0.5 -0l0.5 -0l0.5 -0l0.5 -0l0.5 -0l0.5 -0l0.5 -0l0.5 -0l0.5 -0l0.5 -0l0.5 -0l0.5 -0l0.5 -0l0.5 -0l0.5 -0l0.5 -0l0.5 -0l0.5 -0l0.5 -0l0.5 -0l0.5 -0l0.5 -0l0.5 -0l0.5 -0l0.5 -0l0.5 -0l0.5 -0l0.5 -0l0.5 -0l0.5 -0l0.5 -0l0.5 -0l0.5 -0l0.5 -0l0.5 -0l0.5 -0l0.5 -0l0.5 -0l0.5 -0l0.5 -0l0.5 -0l0.5 -0l0.5 -0l0.5 -0l0.5 -0l0.5 -0l0.5 -0l0.5 -0l0.5 -0l0.5 -0l0.5 -0l0.5 -0l0.5 -0l0.5 -0l0.5 -0l0.5 -0l0.5 -0l0.5 -0l0.5 -0l0.5 -0l0.5 -0l0.5 -0l0.5 -0l0.5 -0l0.5 -0l0.5 -0l0.5 -0l0.5 -0l0.5 -0l0.5 -0l0.5 -0l0.5 -0l0.5 -0l0.5 -0l0.5 -0l0.5 -0l0.5 -0l0.5 -0l0.5 -0l0.5 -0l0.5 -0l0.5 -0l0.5 -0l0.5 -0l0.5 -0l0.5 -0l0.5 -0l0.5 -0l0.5 -0l0.5 -0l0.5 -0l0.5 -0l0.5 -0l0.5 -0l0.5 -0l0.5 -0l0.5 -0l0.5 -0l0.5 -0l0.5 -0l0.5 -0l0.5 -0l0.5 -0l0.5 -0l0.5 -0l0.5 -0l0.5 -0l0.5 -0l0.5 -0l0.5 -0l0.5 -0.8l0.5 -1.2l0.5 -0.5l0.5 -0l0.5 0.4l0.5 -0.4l0.5 -0.7l0.5 -0.3l0.5 -0l0.5 0.4l0.5 0.8l0.5 0.3l0.5 -0.5l0.5 -0l0.5 0.4l0.5 1l0.5 1.1l0.5 -0l0.5 -0l0.5 -0l0.5 -0l0.5 -0l0.5 -0l0.5 -0l0.5 -0l0.5 -0l0.5 -0l0.5 -0l0.5 -0l0.5 -0l0.5 -0l0.5 -0l0.5 -0L1897.5 632.8Z" fill="#2a4f12"/>
<path d="M1400.6 588.3 V635 H1614.5" fill="none" stroke="#1e1c1d" stroke-width="1.7"/>
<path d="M1678.7 588.4 V632.8 H1897.5" fill="none" stroke="#1e1c1d" stroke-width="1.7"/>
<path d="M1490.1 83.9 H1497.7 M1508.5 83.9 H1519.8 M1530.9 83.9 H1542 M1553.1 83.9 H1564.4 M1575.2 83.9 H1586.8 M1597.8 83.9 H1604.9" stroke="#111" stroke-width="2.3" fill="none"/>
<path d="M1490.1 358.2 H1497.7 M1508.5 358.2 H1519.8 M1530.9 358.2 H1542 M1553.1 358.2 H1564.4 M1575.2 358.2 H1586.8 M1597.8 358.2 H1604.9" stroke="#111" stroke-width="2.3" fill="none"/>
<path d="M1491.3 82.8 V89.8 M1491.3 102.3 V114.8 M1491.3 127.3 V139.8 M1491.3 152.3 V164.8 M1491.3 177.3 V189.8 M1491.3 202.3 V214.8 M1491.3 227.3 V239.8 M1491.3 252.3 V264.8 M1491.3 277.3 V289.8 M1491.3 302.3 V314.8 M1491.3 327.3 V339.8 M1491.3 352.3 V359.3" stroke="#111" stroke-width="2.3" fill="none"/>
<path d="M1603.8 82.8 V89.8 M1603.8 102.3 V114.8 M1603.8 127.3 V139.8 M1603.8 152.3 V164.8 M1603.8 177.3 V189.8 M1603.8 202.3 V214.8 M1603.8 227.3 V239.8 M1603.8 252.3 V264.8 M1603.8 277.3 V289.8 M1603.8 302.3 V314.8 M1603.8 327.3 V339.8 M1603.8 352.3 V359.3" stroke="#111" stroke-width="2.3" fill="none"/>
<path d="M1768.8 83.9 H1775.7 M1788.3 83.9 H1800.8 M1813 83.9 H1825.6 M1838.1 83.9 H1845.2" stroke="#111" stroke-width="2.3" fill="none"/>
<path d="M1768.8 358.2 H1775.7 M1788.3 358.2 H1800.8 M1813 358.2 H1825.6 M1838.1 358.2 H1845.2" stroke="#111" stroke-width="2.3" fill="none"/>
<path d="M1769.9 82.8 V89.8 M1769.9 102.3 V114.8 M1769.9 127.3 V139.8 M1769.9 152.3 V164.8 M1769.9 177.3 V189.8 M1769.9 202.3 V214.8 M1769.9 227.3 V239.8 M1769.9 252.3 V264.8 M1769.9 277.3 V289.8 M1769.9 302.3 V314.8 M1769.9 327.3 V339.8 M1769.9 352.3 V359.3" stroke="#111" stroke-width="2.3" fill="none"/>
<path d="M1844.1 82.8 V89.8 M1844.1 102.3 V114.8 M1844.1 127.3 V139.8 M1844.1 152.3 V164.8 M1844.1 177.3 V189.8 M1844.1 202.3 V214.8 M1844.1 227.3 V239.8 M1844.1 252.3 V264.8 M1844.1 277.3 V289.8 M1844.1 302.3 V314.8 M1844.1 327.3 V339.8 M1844.1 352.3 V359.3" stroke="#111" stroke-width="2.3" fill="none"/>
<rect x="1914.6" y="241" width="4" height="97.8" fill="#1e1c1d" />
<rect x="1914.9" y="375.4" width="3.6" height="98.4" fill="#1e1c1d" />
<rect x="1914.9" y="522.6" width="3.6" height="98.6" fill="#1e1c1d" />
<rect x="1471" y="652.8" width="64" height="3.8" fill="#2478c8" />
<rect x="1467.6" y="648.1" width="4.1" height="13.4" fill="#231f20" />
<rect x="1481.6" y="648.1" width="8.4" height="13.4" fill="#231f20" />
<rect x="1498.4" y="648.1" width="8.4" height="13.4" fill="#231f20" />
<rect x="1534" y="648.1" width="6.4" height="13.4" fill="#231f20" />
<rect x="1719" y="652.7" width="132.6" height="4" fill="#2478c8" />
<rect x="1713.5" y="648.1" width="6.3" height="13.1" fill="#231f20" />
<rect x="1851" y="648.1" width="4.1" height="13.1" fill="#231f20" />
<rect x="1780" y="648.1" width="2.7" height="13.1" fill="#231f20" />
<rect x="1720.65" y="648.1" width="1.5" height="13.1" fill="#231f20" />
<rect x="1726.65" y="648.1" width="1.5" height="13.1" fill="#231f20" />
<rect x="1747.15" y="648.1" width="1.5" height="13.1" fill="#231f20" />
<rect x="1751.55" y="648.1" width="1.5" height="13.1" fill="#231f20" />
<rect x="1757.25" y="648.1" width="1.5" height="13.1" fill="#231f20" />
<rect x="1761.95" y="648.1" width="1.5" height="13.1" fill="#231f20" />
<rect x="1768.95" y="648.1" width="1.5" height="13.1" fill="#231f20" />
<rect x="1771.85" y="648.1" width="1.5" height="13.1" fill="#231f20" />
<rect x="1774.55" y="648.1" width="1.5" height="13.1" fill="#231f20" />
<rect x="1776.05" y="648.1" width="1.5" height="13.1" fill="#231f20" />
<rect x="1777.85" y="648.1" width="1.5" height="13.1" fill="#231f20" />
<rect x="1786.85" y="648.1" width="1.5" height="13.1" fill="#231f20" />
<rect x="1799.95" y="648.1" width="1.5" height="13.1" fill="#231f20" />
<rect x="1803.75" y="648.1" width="1.5" height="13.1" fill="#231f20" />
<rect x="1818.25" y="648.1" width="1.5" height="13.1" fill="#231f20" />
<rect x="1828.75" y="648.1" width="1.5" height="13.1" fill="#231f20" />
<rect x="1840.05" y="648.1" width="1.5" height="13.1" fill="#231f20" />
<path d="M1539.4 662 V674.4 H1503" fill="none" stroke="#333" stroke-width="1.5"/>
<path d="M1500.5 674.4 L1509.5 669.8 L1507 674.4 L1509.5 679 Z" fill="#222"/>
<path d="M1852.1 663.7 V674.9 H1817" fill="none" stroke="#333" stroke-width="1.5"/>
<path d="M1813.8 674.9 L1822.4 670.5 L1819.8 674.9 L1822.4 679.3 Z" fill="#222"/>
<rect x="1401.1" y="663.5" width="35.4" height="3.9" fill="#2478c8" />
<rect x="1683.1" y="663.3" width="14" height="4.3" fill="#2478c8" />
<text transform="translate(0.14 35.9) scale(1 1.04)" font-size="41" textLength="21.09" lengthAdjust="spacingAndGlyphs">a</text>
<text transform="translate(98.58 55.2) scale(1 1.04)" font-size="29" textLength="164.17" lengthAdjust="spacingAndGlyphs">SATB2-ChIP</text>
<text transform="translate(96.34 106.9) scale(1 1.04)" font-size="27" textLength="40.38" lengthAdjust="spacingAndGlyphs">Ctrl</text>
<text transform="translate(198.9 106.8) scale(1 1.04)" font-size="27" fill="#c1152b" textLength="71.34" lengthAdjust="spacingAndGlyphs">MTA2</text>
<text transform="translate(270.7 97.8) scale(1 1.04)" font-size="16" fill="#c1152b" textLength="30.42" lengthAdjust="spacingAndGlyphs">cKO</text>
<text transform="translate(21.52 150.4) scale(1 1.04)" font-size="23" textLength="27.37" lengthAdjust="spacingAndGlyphs">12</text>
<text transform="translate(32.09 185.6) scale(1 1.04)" font-size="23" textLength="12.76" lengthAdjust="spacingAndGlyphs">8</text>
<text transform="translate(34.3 218.7) scale(1 1.04)" font-size="23" textLength="12.86" lengthAdjust="spacingAndGlyphs">4</text>
<text transform="translate(340.85 149.8) scale(1 1.04)" font-size="26" textLength="179.04" lengthAdjust="spacingAndGlyphs">C1 Unchanged</text>
<text transform="translate(340.87 187.7) scale(1 1.04)" font-size="26" textLength="148.08" lengthAdjust="spacingAndGlyphs">C2 Depleted</text>
<text transform="translate(340.86 221.9) scale(1 1.04)" font-size="26" textLength="127.35" lengthAdjust="spacingAndGlyphs">C3 Gained</text>
<text transform="translate(5 283.6) scale(1 1.04)" font-size="23" textLength="26.45" lengthAdjust="spacingAndGlyphs">12</text>
<text transform="translate(16.99 403.3) scale(1 1.04)" font-size="23" textLength="13.92" lengthAdjust="spacingAndGlyphs">8</text>
<text transform="translate(18 526.2) scale(1 1.04)" font-size="23" textLength="12.86" lengthAdjust="spacingAndGlyphs">4</text>
<text transform="translate(314.62 610) scale(1 1.04)" font-size="25" fill="#1a1a1a" textLength="115.88" lengthAdjust="spacingAndGlyphs">C2: 1,951</text>
<text transform="translate(314.62 639.8) scale(1 1.04)" font-size="25" fill="#1a1a1a" textLength="94.01" lengthAdjust="spacingAndGlyphs">C3: 700</text>
<text transform="translate(163.4 663) scale(1 1.04)" font-size="23" textLength="46.29" lengthAdjust="spacingAndGlyphs">-3kb</text>
<text transform="translate(294.75 663) scale(1 1.04)" font-size="23" textLength="39.52" lengthAdjust="spacingAndGlyphs">3kb</text>
<text transform="translate(181.32 684.7) scale(1 1.04)" font-size="23.5" textLength="128.22" lengthAdjust="spacingAndGlyphs">Peak center</text>
<text transform="translate(342 513.8) rotate(-90) scale(1 1.04)" x="-1.17" font-size="26" fill="#1a1a1a" textLength="211.78" lengthAdjust="spacingAndGlyphs">C1: 23,177 peaks</text>
<text transform="translate(549.1 35.9) scale(1 1.04)" font-size="38.5" textLength="21.07" lengthAdjust="spacingAndGlyphs">b</text>
<text transform="translate(807.39 54.8) scale(1 1.04)" font-size="27.5" textLength="162.19" lengthAdjust="spacingAndGlyphs">SATB2-ChIP</text>
<text transform="translate(626.12 110) scale(1 1.04)" font-size="29.3" textLength="268.34" lengthAdjust="spacingAndGlyphs">C2 (Depleted bound)</text>
<text transform="translate(938.12 110.4) scale(1 1.04)" font-size="29.3" textLength="229.16" lengthAdjust="spacingAndGlyphs">C3 (Gained boud)</text>
<text transform="translate(658.65 156.3) scale(1 1.04)" font-size="22" textLength="183.02" lengthAdjust="spacingAndGlyphs">Static (background)</text>
<text transform="translate(658.66 185.5) scale(1 1.04)" font-size="22" textLength="219.67" lengthAdjust="spacingAndGlyphs">Ileum Signature (0.953)</text>
<text transform="translate(658.66 216.3) scale(1 1.04)" font-size="22" textLength="221.92" lengthAdjust="spacingAndGlyphs">Colon Signature (0.030)</text>
<text transform="translate(946.35 159.9) scale(1 1.04)" font-size="22" textLength="183.02" lengthAdjust="spacingAndGlyphs">Static (background)</text>
<text transform="translate(945.76 188.5) scale(1 1.04)" font-size="22" textLength="219.67" lengthAdjust="spacingAndGlyphs">Ileum Signature (0.687)</text>
<text transform="translate(945.76 218.2) scale(1 1.04)" font-size="22" textLength="182.04" lengthAdjust="spacingAndGlyphs">Colon Signature (1)</text>
<text transform="translate(660.97 436) scale(1 1.04)" font-size="21.5" textLength="175.42" lengthAdjust="spacingAndGlyphs">Static (background)</text>
<text transform="translate(661 464) scale(1 1.04)" font-size="21.5" textLength="147.09" lengthAdjust="spacingAndGlyphs">Up-regulated (1)</text>
<text transform="translate(659.98 493.9) scale(1 1.04)" font-size="21.5" textLength="212.62" lengthAdjust="spacingAndGlyphs">Down-regulated (0.040)</text>
<text transform="translate(946.26 436) scale(1 1.04)" font-size="21.5" textLength="176.23" lengthAdjust="spacingAndGlyphs">Static (background)</text>
<text transform="translate(946.5 464) scale(1 1.04)" font-size="21.5" textLength="186.51" lengthAdjust="spacingAndGlyphs">Up-regulated (0.080)</text>
<text transform="translate(945.47 493.3) scale(1 1.04)" font-size="21.5" textLength="213.03" lengthAdjust="spacingAndGlyphs">Down-regulated (0.996)</text>
<text transform="translate(657.4 541.7) scale(1 1.04)" font-size="27" font-style="italic" fill="#1a1a1a" textLength="68.22" lengthAdjust="spacingAndGlyphs">MTA2</text>
<text transform="translate(727 533.9) scale(1 1.04)" font-size="15.5" font-style="italic" fill="#1a1a1a" textLength="29.74" lengthAdjust="spacingAndGlyphs">cKO</text>
<text transform="translate(762.86 541.7) scale(1 1.04)" font-size="27" font-style="italic" fill="#1a1a1a" textLength="83.21" lengthAdjust="spacingAndGlyphs">VS Ctrl</text>
<text transform="translate(943.4 541.7) scale(1 1.04)" font-size="27" font-style="italic" fill="#1a1a1a" textLength="67.92" lengthAdjust="spacingAndGlyphs">MTA2</text>
<text transform="translate(1013 532.6) scale(1 1.04)" font-size="15.5" font-style="italic" fill="#1a1a1a" textLength="30.05" lengthAdjust="spacingAndGlyphs">cKO</text>
<text transform="translate(1047.85 541.7) scale(1 1.04)" font-size="27" font-style="italic" fill="#1a1a1a" textLength="84.02" lengthAdjust="spacingAndGlyphs">VS Ctrl</text>
<text transform="translate(642.78 661.7) scale(1 1.04)" font-size="24" textLength="13.44" lengthAdjust="spacingAndGlyphs">0</text>
<text transform="translate(733.66 661.7) scale(1 1.04)" font-size="24" textLength="53.76" lengthAdjust="spacingAndGlyphs">1000</text>
<text transform="translate(840.47 661.7) scale(1 1.04)" font-size="24" textLength="54.05" lengthAdjust="spacingAndGlyphs">2000</text>
<text transform="translate(927.52 661.2) scale(1 1.04)" font-size="24" textLength="12.96" lengthAdjust="spacingAndGlyphs">0</text>
<text transform="translate(960.43 661.2) scale(1 1.04)" font-size="24" textLength="38.44" lengthAdjust="spacingAndGlyphs">200</text>
<text transform="translate(1052.71 661.2) scale(1 1.04)" font-size="24" textLength="39.18" lengthAdjust="spacingAndGlyphs">600</text>
<text transform="translate(1137.58 661.2) scale(1 1.04)" font-size="24" textLength="50.88" lengthAdjust="spacingAndGlyphs">1000</text>
<text transform="translate(644.19 697.4) scale(1 1.04)" font-size="23.5" textLength="534.74" lengthAdjust="spacingAndGlyphs">Rank of genes based on Regulatory Potential Score</text>
<text transform="translate(582.5 543.8) rotate(-90) scale(1 1.04)" x="-1.1" font-size="26" textLength="368.44" lengthAdjust="spacingAndGlyphs">Cumulative Fraction of Genes%</text>
<text transform="translate(628.8 159.6) rotate(-90) scale(1 1.04)" x="-2.26" font-size="24" textLength="40.69" lengthAdjust="spacingAndGlyphs">100</text>
<text transform="translate(628.8 200.6) rotate(-90) scale(1 1.04)" x="-1.08" font-size="24" textLength="25.85" lengthAdjust="spacingAndGlyphs">80</text>
<text transform="translate(628.8 243.5) rotate(-90) scale(1 1.04)" x="-1.08" font-size="24" textLength="25.85" lengthAdjust="spacingAndGlyphs">60</text>
<text transform="translate(628.8 286.9) rotate(-90) scale(1 1.04)" x="-0" font-size="24" textLength="25.67" lengthAdjust="spacingAndGlyphs">40</text>
<text transform="translate(628.8 328.8) rotate(-90) scale(1 1.04)" x="-1.16" font-size="24" textLength="27.82" lengthAdjust="spacingAndGlyphs">20</text>
<text transform="translate(628.8 368.9) rotate(-90) scale(1 1.04)" x="-1.64" font-size="24" textLength="19.68" lengthAdjust="spacingAndGlyphs">0</text>
<text transform="translate(628.8 435.4) rotate(-90) scale(1 1.04)" x="-2.28" font-size="24" textLength="41.13" lengthAdjust="spacingAndGlyphs">100</text>
<text transform="translate(628.8 469.7) rotate(-90) scale(1 1.04)" x="-1.14" font-size="24" textLength="27.38" lengthAdjust="spacingAndGlyphs">80</text>
<text transform="translate(628.8 513.4) rotate(-90) scale(1 1.04)" x="-1.24" font-size="24" textLength="29.78" lengthAdjust="spacingAndGlyphs">60</text>
<text transform="translate(628.8 556.4) rotate(-90) scale(1 1.04)" x="-0" font-size="24" textLength="27.55" lengthAdjust="spacingAndGlyphs">40</text>
<text transform="translate(628.8 598.3) rotate(-90) scale(1 1.04)" x="-1.16" font-size="24" textLength="27.82" lengthAdjust="spacingAndGlyphs">20</text>
<text transform="translate(628.8 640.2) rotate(-90) scale(1 1.04)" x="-1.18" font-size="24" textLength="14.16" lengthAdjust="spacingAndGlyphs">0</text>
<text transform="translate(1230.94 35.5) scale(1 1.04)" font-size="36" font-weight="bold" textLength="21.81" lengthAdjust="spacingAndGlyphs">c</text>
<text transform="translate(1469 52.8) scale(1 1.04)" font-size="29" font-style="italic" textLength="65.96" lengthAdjust="spacingAndGlyphs">Fabp6</text>
<text transform="translate(1774 52.6) scale(1 1.04)" font-size="29.5" font-style="italic" textLength="45.39" lengthAdjust="spacingAndGlyphs">Mttp</text>
<text transform="translate(1307.04 120.8) scale(1 1.04)" font-size="26.5" fill="#1e1c1d" textLength="43.81" lengthAdjust="spacingAndGlyphs">Ctrl</text>
<text transform="translate(1307.04 192.4) scale(1 1.04)" font-size="26.5" fill="#1e1c1d" textLength="43.81" lengthAdjust="spacingAndGlyphs">Ctrl</text>
<text transform="translate(1307.04 262.5) scale(1 1.04)" font-size="26.5" fill="#1e1c1d" textLength="43.81" lengthAdjust="spacingAndGlyphs">Ctrl</text>
<text transform="translate(1307.04 404.1) scale(1 1.04)" font-size="26.5" fill="#1e1c1d" textLength="43.81" lengthAdjust="spacingAndGlyphs">Ctrl</text>
<text transform="translate(1307.04 552.6) scale(1 1.04)" font-size="26.5" fill="#1e1c1d" textLength="43.81" lengthAdjust="spacingAndGlyphs">Ctrl</text>
<text transform="translate(1246.17 339.7) scale(1 1.04)" font-size="30" fill="#1e1c1d" textLength="73.71" lengthAdjust="spacingAndGlyphs">MTA2</text>
<text transform="translate(1320.7 329.8) scale(1 1.04)" font-size="17" fill="#1e1c1d" textLength="31.51" lengthAdjust="spacingAndGlyphs">cKO</text>
<text transform="translate(1246.17 481.8) scale(1 1.04)" font-size="30" fill="#1e1c1d" textLength="73.71" lengthAdjust="spacingAndGlyphs">MTA2</text>
<text transform="translate(1320.7 471.9) scale(1 1.04)" font-size="17" fill="#1e1c1d" textLength="31.51" lengthAdjust="spacingAndGlyphs">cKO</text>
<text transform="translate(1246.17 620.1) scale(1 1.04)" font-size="30" fill="#1e1c1d" textLength="73.71" lengthAdjust="spacingAndGlyphs">MTA2</text>
<text transform="translate(1320.7 610.2) scale(1 1.04)" font-size="17" fill="#1e1c1d" textLength="31.51" lengthAdjust="spacingAndGlyphs">cKO</text>
<text transform="translate(1368.68 103.5) scale(1 1.04)" font-size="23" fill="#1e1c1d" textLength="24.38" lengthAdjust="spacingAndGlyphs">10</text>
<text transform="translate(1380.12 143.7) scale(1 1.04)" font-size="23" fill="#1e1c1d" textLength="12.42" lengthAdjust="spacingAndGlyphs">0</text>
<text transform="translate(1368.68 175.1) scale(1 1.04)" font-size="23" fill="#1e1c1d" textLength="24.38" lengthAdjust="spacingAndGlyphs">10</text>
<text transform="translate(1380.12 215.3) scale(1 1.04)" font-size="23" fill="#1e1c1d" textLength="12.42" lengthAdjust="spacingAndGlyphs">0</text>
<text transform="translate(1368.68 246.6) scale(1 1.04)" font-size="23" fill="#1e1c1d" textLength="24.38" lengthAdjust="spacingAndGlyphs">10</text>
<text transform="translate(1380.12 287.4) scale(1 1.04)" font-size="23" fill="#1e1c1d" textLength="12.42" lengthAdjust="spacingAndGlyphs">0</text>
<text transform="translate(1368.68 319.1) scale(1 1.04)" font-size="23" fill="#1e1c1d" textLength="24.38" lengthAdjust="spacingAndGlyphs">10</text>
<text transform="translate(1380.12 359.3) scale(1 1.04)" font-size="23" fill="#1e1c1d" textLength="12.42" lengthAdjust="spacingAndGlyphs">0</text>
<text transform="translate(1368.68 388.5) scale(1 1.04)" font-size="23" fill="#1e1c1d" textLength="24.38" lengthAdjust="spacingAndGlyphs">10</text>
<text transform="translate(1380.12 428.7) scale(1 1.04)" font-size="23" fill="#1e1c1d" textLength="12.42" lengthAdjust="spacingAndGlyphs">0</text>
<text transform="translate(1368.68 460.1) scale(1 1.04)" font-size="23" fill="#1e1c1d" textLength="24.38" lengthAdjust="spacingAndGlyphs">10</text>
<text transform="translate(1380.12 500.3) scale(1 1.04)" font-size="23" fill="#1e1c1d" textLength="12.42" lengthAdjust="spacingAndGlyphs">0</text>
<text transform="translate(1356.69 532.4) scale(1 1.04)" font-size="22" fill="#1e1c1d" textLength="36.62" lengthAdjust="spacingAndGlyphs">300</text>
<text transform="translate(1380.12 572.2) scale(1 1.04)" font-size="23" fill="#1e1c1d" textLength="12.42" lengthAdjust="spacingAndGlyphs">0</text>
<text transform="translate(1356.69 602.9) scale(1 1.04)" font-size="22" fill="#1e1c1d" textLength="36.62" lengthAdjust="spacingAndGlyphs">300</text>
<text transform="translate(1380.12 643.1) scale(1 1.04)" font-size="23" fill="#1e1c1d" textLength="12.42" lengthAdjust="spacingAndGlyphs">0</text>
<text transform="translate(1647.8 102.7) scale(1 1.04)" font-size="23" fill="#1e1c1d" textLength="25.3" lengthAdjust="spacingAndGlyphs">15</text>
<text transform="translate(1659.79 142) scale(1 1.04)" font-size="23" fill="#1e1c1d" textLength="12.76" lengthAdjust="spacingAndGlyphs">0</text>
<text transform="translate(1647.8 174.2) scale(1 1.04)" font-size="23" fill="#1e1c1d" textLength="25.3" lengthAdjust="spacingAndGlyphs">15</text>
<text transform="translate(1659.79 214.3) scale(1 1.04)" font-size="23" fill="#1e1c1d" textLength="12.76" lengthAdjust="spacingAndGlyphs">0</text>
<text transform="translate(1647.8 245.6) scale(1 1.04)" font-size="23" fill="#1e1c1d" textLength="25.3" lengthAdjust="spacingAndGlyphs">15</text>
<text transform="translate(1659.79 285.4) scale(1 1.04)" font-size="23" fill="#1e1c1d" textLength="12.76" lengthAdjust="spacingAndGlyphs">0</text>
<text transform="translate(1647.8 318.1) scale(1 1.04)" font-size="23" fill="#1e1c1d" textLength="25.3" lengthAdjust="spacingAndGlyphs">15</text>
<text transform="translate(1659.79 358.7) scale(1 1.04)" font-size="23" fill="#1e1c1d" textLength="12.76" lengthAdjust="spacingAndGlyphs">0</text>
<text transform="translate(1647.8 383.6) scale(1 1.04)" font-size="23" fill="#1e1c1d" textLength="25.3" lengthAdjust="spacingAndGlyphs">15</text>
<text transform="translate(1659.79 423.4) scale(1 1.04)" font-size="23" fill="#1e1c1d" textLength="12.76" lengthAdjust="spacingAndGlyphs">0</text>
<text transform="translate(1647.8 455.6) scale(1 1.04)" font-size="23" fill="#1e1c1d" textLength="25.3" lengthAdjust="spacingAndGlyphs">15</text>
<text transform="translate(1659.79 496) scale(1 1.04)" font-size="23" fill="#1e1c1d" textLength="12.76" lengthAdjust="spacingAndGlyphs">0</text>
<text transform="translate(1647.11 531.4) scale(1 1.04)" font-size="23" fill="#1e1c1d" textLength="24.97" lengthAdjust="spacingAndGlyphs">20</text>
<text transform="translate(1659.79 571.6) scale(1 1.04)" font-size="23" fill="#1e1c1d" textLength="12.76" lengthAdjust="spacingAndGlyphs">0</text>
<text transform="translate(1647.11 602.4) scale(1 1.04)" font-size="23" fill="#1e1c1d" textLength="24.97" lengthAdjust="spacingAndGlyphs">20</text>
<text transform="translate(1659.79 642.6) scale(1 1.04)" font-size="23" fill="#1e1c1d" textLength="12.76" lengthAdjust="spacingAndGlyphs">0</text>
<text transform="translate(1853.14 112.5) scale(1 1.04)" font-size="27" fill="#1e1c1d" textLength="143.55" lengthAdjust="spacingAndGlyphs">MTA2-ChIP</text>
<text transform="translate(1851.72 182.1) scale(1 1.04)" font-size="27.5" fill="#1e1c1d" textLength="62.75" lengthAdjust="spacingAndGlyphs">Input</text>
<text transform="translate(1968 240.1) rotate(90) scale(1 1.04)" x="-1.03" font-size="28" fill="#1e1c1d" textLength="93.07" lengthAdjust="spacingAndGlyphs">HNF4A</text>
<text transform="translate(1939 253.6) rotate(90) scale(1 1.04)" x="-1.1" font-size="28" fill="#1e1c1d" textLength="63.23" lengthAdjust="spacingAndGlyphs">ChIP</text>
<text transform="translate(1968.3 382.4) rotate(90) scale(1 1.04)" x="-2.21" font-size="28" fill="#1e1c1d" textLength="91.24" lengthAdjust="spacingAndGlyphs">SATB2</text>
<text transform="translate(1938.6 396.6) rotate(90) scale(1 1.04)" x="-1.05" font-size="28" fill="#1e1c1d" textLength="60.56" lengthAdjust="spacingAndGlyphs">ChIP</text>
<text transform="translate(1939.6 513.7) rotate(90) scale(1 1.04)" x="-1.08" font-size="28" fill="#1e1c1d" textLength="119.27" lengthAdjust="spacingAndGlyphs">RNA-Seq</text>
<text transform="translate(1394.77 694.1) scale(1 1.04)" font-size="24.5" fill="#1e1c1d" textLength="75.53" lengthAdjust="spacingAndGlyphs">2.5 Kb</text>
<text transform="translate(1495.2 703.4) scale(1 1.04)" font-size="23.5" font-style="italic" fill="#1e1c1d" textLength="73.93" lengthAdjust="spacingAndGlyphs">Fabp6</text>
<text transform="translate(1677.11 696.8) scale(1 1.04)" font-size="25.5" fill="#1e1c1d" textLength="55.01" lengthAdjust="spacingAndGlyphs">5 Kb</text>
<text transform="translate(1814.4 703.7) scale(1 1.04)" font-size="26.5" font-style="italic" fill="#1e1c1d" textLength="50.78" lengthAdjust="spacingAndGlyphs">Mttp</text>
</svg></body></html>
